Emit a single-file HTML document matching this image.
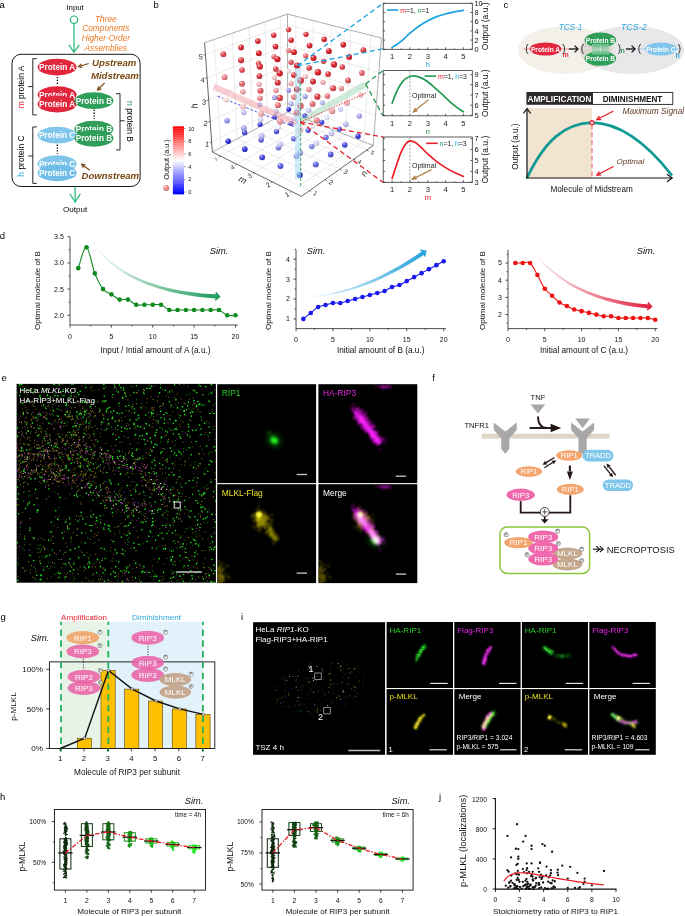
<!DOCTYPE html>
<html><head><meta charset="utf-8"><title>Figure</title>
<style>
html,body{margin:0;padding:0;background:#fff;}
svg{display:block;}
svg text{font-family:"Liberation Sans",Arial,Helvetica,sans-serif;}
</style></head><body>
<svg width="685" height="916" viewBox="0 0 685 916">
<rect width="685" height="916" fill="#fff"/>
<g id="panel_a">
<text x="-0.4" y="7.6" font-size="9.5">a</text>
<text x="75.1" y="10.4" font-size="7.8" text-anchor="middle">Input</text>
<circle cx="74" cy="19.7" r="3.7" fill="#fff" stroke="#21b573" stroke-width="1.2" />
<line x1="74" y1="23.5" x2="74" y2="52" stroke="#21b573" stroke-width="1.2" />
<polyline points="69,44.9 74,52.3 79.2,44.9" fill="none" stroke="#21b573" stroke-width="1.2" />
<text x="105.8" y="21.8" font-size="8.3" text-anchor="middle" fill="#ee7a23" font-style="italic">Three</text>
<text x="105.8" y="31.4" font-size="8.3" text-anchor="middle" fill="#ee7a23" font-style="italic">Components</text>
<text x="105.8" y="41" font-size="8.3" text-anchor="middle" fill="#ee7a23" font-style="italic">Higher-Order</text>
<text x="105.8" y="50.6" font-size="8.3" text-anchor="middle" fill="#ee7a23" font-style="italic">Assemblies</text>
<rect x="12" y="54.3" width="128.1" height="132.2" fill="#fff" stroke="#000" stroke-width="0.9" rx="9" />
<line x1="75.1" y1="186.5" x2="75.1" y2="202" stroke="#21b573" stroke-width="1.2" />
<polyline points="70,193.7 75.1,202.2 80.4,193.7" fill="none" stroke="#21b573" stroke-width="1.2" />
<text x="75.1" y="211.8" font-size="8.1" text-anchor="middle">Output</text>
<ellipse cx="57.1" cy="67.1" rx="19.5" ry="8.4" fill="#e2263c" /><text x="57.1" y="70" font-size="8.2" text-anchor="middle" fill="#fff" font-weight="bold">Protein A</text>
<line x1="57.4" y1="77" x2="57.4" y2="85" stroke="#000" stroke-width="1.3" stroke-dasharray="1.3 1.5"/>
<ellipse cx="57.1" cy="94.6" rx="19.5" ry="8.4" fill="#e2263c" /><text x="57.1" y="97.5" font-size="8.2" text-anchor="middle" fill="#fff" font-weight="bold">Protein A</text>
<ellipse cx="57.1" cy="104" rx="19.5" ry="8.4" fill="#e2263c" /><text x="57.1" y="106.9" font-size="8.2" text-anchor="middle" fill="#fff" font-weight="bold">Protein A</text>
<ellipse cx="57.1" cy="135.2" rx="19.5" ry="8.4" fill="#7fc6ea" /><text x="57.1" y="138.1" font-size="8.2" text-anchor="middle" fill="#fff" font-weight="bold">Protein C</text>
<line x1="57.4" y1="144.6" x2="57.4" y2="153.8" stroke="#000" stroke-width="1.3" stroke-dasharray="1.3 1.5"/>
<ellipse cx="57.1" cy="163.7" rx="19.5" ry="8.4" fill="#7fc6ea" /><text x="57.1" y="166.6" font-size="8.2" text-anchor="middle" fill="#fff" font-weight="bold">Protein C</text>
<ellipse cx="57.1" cy="172.9" rx="19.5" ry="8.4" fill="#6fbde6" /><text x="57.1" y="175.8" font-size="8.2" text-anchor="middle" fill="#fff" font-weight="bold">Protein C</text>
<ellipse cx="93.9" cy="129.1" rx="19.5" ry="8.4" fill="#2f9e58" /><text x="93.9" y="132" font-size="8.2" text-anchor="middle" fill="#fff" font-weight="bold">Protein B</text>
<ellipse cx="93.9" cy="138.3" rx="19.5" ry="8.4" fill="#2f9e58" /><text x="93.9" y="141.2" font-size="8.2" text-anchor="middle" fill="#fff" font-weight="bold">Protein B</text>
<ellipse cx="93.9" cy="100.7" rx="19.5" ry="8.4" fill="#2f9e58" /><text x="93.9" y="103.6" font-size="8.2" text-anchor="middle" fill="#fff" font-weight="bold">Protein B</text>
<line x1="94.2" y1="109.8" x2="94.2" y2="119" stroke="#000" stroke-width="1.3" stroke-dasharray="1.3 1.5"/>
<text x="92" y="65.8" font-size="9.6" fill="#7a4a14" font-weight="bold" font-style="italic">Upstream</text>
<text x="90.9" y="79.4" font-size="9.6" fill="#7a4a14" font-weight="bold" font-style="italic">Midstream</text>
<text x="81.5" y="178.9" font-size="9.6" fill="#7a4a14" font-weight="bold" font-style="italic">Downstream</text>
<line x1="88.7" y1="63.5" x2="78.6" y2="66.7" stroke="#7a4a14" stroke-width="1.2" /><polyline points="81.23,63.96 78.6,66.7 82.33,67.43" fill="none" stroke="#7a4a14" stroke-width="1.2" />
<line x1="104.7" y1="82.8" x2="97.6" y2="90" stroke="#7a4a14" stroke-width="1.2" /><polyline points="98.64,86.35 97.6,90 101.24,88.9" fill="none" stroke="#7a4a14" stroke-width="1.2" />
<line x1="89.8" y1="170.2" x2="81.7" y2="164.3" stroke="#7a4a14" stroke-width="1.2" /><polyline points="85.47,164.79 81.7,164.3 83.32,167.74" fill="none" stroke="#7a4a14" stroke-width="1.2" />
<path d="M36.8 58.7H32.8V114.9H36.8M32.8 86.6H28.2" fill="none" stroke="#111" stroke-width="0.9" />
<path d="M36.8 126.9H32.8V183.4H36.8M32.8 156H28.2" fill="none" stroke="#111" stroke-width="0.9" />
<path d="M116 93.7H120V149.9H116M120 120.8H124.6" fill="none" stroke="#111" stroke-width="0.9" />
<text x="23.8" y="87" font-size="8.45" text-anchor="middle" transform="rotate(-90 23.8 87)"><tspan fill="#e2263c">m</tspan> protein A</text>
<text x="23.8" y="156" font-size="8.45" text-anchor="middle" transform="rotate(-90 23.8 156)"><tspan fill="#29a9e0">h</tspan> protein C</text>
<text x="127.2" y="121.5" font-size="8.45" text-anchor="middle" transform="rotate(90 127.2 121.5)"><tspan fill="#2f9e58">n</tspan> protein B</text>
</g>
<g id="panel_b">
<defs>
<radialGradient id="shine" cx="0.36" cy="0.32" r="0.75" fx="0.34" fy="0.28">
<stop offset="0" stop-color="#fff" stop-opacity="0.9"/><stop offset="0.16" stop-color="#fff" stop-opacity="0.45"/><stop offset="0.38" stop-color="#fff" stop-opacity="0.05"/>
<stop offset="0.65" stop-color="#000" stop-opacity="0"/><stop offset="1" stop-color="#000" stop-opacity="0.3"/></radialGradient>
<linearGradient id="cbar" x1="0" y1="0" x2="0" y2="1"><stop offset="0" stop-color="#f00"/><stop offset="0.12" stop-color="#ee1c1c"/><stop offset="0.5" stop-color="#fff"/><stop offset="0.88" stop-color="#2020f0"/><stop offset="1" stop-color="#00f"/></linearGradient>
</defs>
<text x="153.4" y="7.6" font-size="9.5">b</text>
<line x1="291.43" y1="191.4" x2="363.78" y2="141.79" stroke="#d9d9d9" stroke-width="0.5" />
<line x1="309.63" y1="190.56" x2="220.87" y2="147.52" stroke="#d9d9d9" stroke-width="0.5" />
<line x1="220.87" y1="147.52" x2="214.04" y2="39.49" stroke="#d9d9d9" stroke-width="0.5" />
<line x1="211.68" y1="142" x2="287.65" y2="102.95" stroke="#d9d9d9" stroke-width="0.5" />
<line x1="363.78" y1="141.79" x2="370.94" y2="35.37" stroke="#d9d9d9" stroke-width="0.5" />
<line x1="373.99" y1="135.61" x2="287.65" y2="102.95" stroke="#d9d9d9" stroke-width="0.5" />
<line x1="272.24" y1="181.84" x2="345.51" y2="134.65" stroke="#d9d9d9" stroke-width="0.5" />
<line x1="325.29" y1="179.46" x2="237.13" y2="138.88" stroke="#d9d9d9" stroke-width="0.5" />
<line x1="237.13" y1="138.88" x2="232.06" y2="33.25" stroke="#d9d9d9" stroke-width="0.5" />
<line x1="210.21" y1="121.4" x2="287.62" y2="84.34" stroke="#d9d9d9" stroke-width="0.5" />
<line x1="345.51" y1="134.65" x2="350.77" y2="30.22" stroke="#d9d9d9" stroke-width="0.5" />
<line x1="375.53" y1="115.32" x2="287.62" y2="84.34" stroke="#d9d9d9" stroke-width="0.5" />
<line x1="254.04" y1="172.77" x2="328.06" y2="127.82" stroke="#d9d9d9" stroke-width="0.5" />
<line x1="340.01" y1="169.03" x2="252.53" y2="130.7" stroke="#d9d9d9" stroke-width="0.5" />
<line x1="252.53" y1="130.7" x2="249.05" y2="27.37" stroke="#d9d9d9" stroke-width="0.5" />
<line x1="208.68" y1="100" x2="287.58" y2="65.1" stroke="#d9d9d9" stroke-width="0.5" />
<line x1="328.06" y1="127.82" x2="331.58" y2="25.32" stroke="#d9d9d9" stroke-width="0.5" />
<line x1="377.14" y1="94.28" x2="287.58" y2="65.1" stroke="#d9d9d9" stroke-width="0.5" />
<line x1="236.75" y1="164.16" x2="311.37" y2="121.3" stroke="#d9d9d9" stroke-width="0.5" />
<line x1="353.88" y1="159.2" x2="267.13" y2="122.95" stroke="#d9d9d9" stroke-width="0.5" />
<line x1="267.13" y1="122.95" x2="265.07" y2="21.83" stroke="#d9d9d9" stroke-width="0.5" />
<line x1="207.1" y1="77.77" x2="287.54" y2="45.21" stroke="#d9d9d9" stroke-width="0.5" />
<line x1="311.37" y1="121.3" x2="313.31" y2="20.66" stroke="#d9d9d9" stroke-width="0.5" />
<line x1="378.8" y1="72.43" x2="287.54" y2="45.21" stroke="#d9d9d9" stroke-width="0.5" />
<line x1="220.31" y1="155.97" x2="295.4" y2="115.06" stroke="#d9d9d9" stroke-width="0.5" />
<line x1="366.97" y1="149.93" x2="281" y2="115.58" stroke="#d9d9d9" stroke-width="0.5" />
<line x1="281" y1="115.58" x2="280.21" y2="16.59" stroke="#d9d9d9" stroke-width="0.5" />
<line x1="205.45" y1="54.66" x2="287.5" y2="24.63" stroke="#d9d9d9" stroke-width="0.5" />
<line x1="295.4" y1="115.06" x2="295.89" y2="16.22" stroke="#d9d9d9" stroke-width="0.5" />
<line x1="380.53" y1="49.73" x2="287.5" y2="24.63" stroke="#d9d9d9" stroke-width="0.5" />
<line x1="204.6" y1="42.75" x2="287.48" y2="14.07" stroke="#777" stroke-width="0.6" />
<line x1="287.48" y1="14.07" x2="381.42" y2="38.04" stroke="#777" stroke-width="0.6" />
<line x1="287.48" y1="14.07" x2="287.67" y2="112.04" stroke="#777" stroke-width="0.6" />
<line x1="212.39" y1="152.02" x2="287.67" y2="112.04" stroke="#777" stroke-width="0.6" />
<line x1="287.67" y1="112.04" x2="373.23" y2="145.48" stroke="#777" stroke-width="0.6" />
<line x1="373.23" y1="145.48" x2="381.42" y2="38.04" stroke="#777" stroke-width="0.6" />
<line x1="212.39" y1="152.02" x2="204.6" y2="42.75" stroke="#333" stroke-width="0.75" />
<line x1="212.39" y1="152.02" x2="301.42" y2="196.38" stroke="#333" stroke-width="0.75" />
<line x1="301.42" y1="196.38" x2="373.23" y2="145.48" stroke="#333" stroke-width="0.75" />
<line x1="211.68" y1="142" x2="209.68" y2="142.5" stroke="#222" stroke-width="0.6" />
<text transform="translate(207.08 144) rotate(6)" x="0" y="2.66" font-size="7.4" text-anchor="middle" fill="#222">1</text>
<line x1="291.43" y1="191.4" x2="290.03" y2="192.6" stroke="#222" stroke-width="0.6" />
<text transform="translate(287.13 194.4) rotate(-32)" x="0" y="2.52" font-size="7" text-anchor="middle" fill="#222">1</text>
<line x1="309.63" y1="190.56" x2="311.23" y2="191.66" stroke="#222" stroke-width="0.6" />
<text transform="translate(315.33 193.26) rotate(32)" x="0" y="2.23" font-size="6.2" text-anchor="middle" fill="#222">1</text>
<line x1="210.21" y1="121.4" x2="208.21" y2="121.9" stroke="#222" stroke-width="0.6" />
<text transform="translate(205.61 123.4) rotate(6)" x="0" y="2.66" font-size="7.4" text-anchor="middle" fill="#222">2</text>
<line x1="272.24" y1="181.84" x2="270.84" y2="183.04" stroke="#222" stroke-width="0.6" />
<text transform="translate(267.94 184.84) rotate(-32)" x="0" y="2.52" font-size="7" text-anchor="middle" fill="#222">2</text>
<line x1="325.29" y1="179.46" x2="326.89" y2="180.56" stroke="#222" stroke-width="0.6" />
<text transform="translate(330.99 182.16) rotate(32)" x="0" y="2.38" font-size="6.6" text-anchor="middle" fill="#222">2</text>
<line x1="208.68" y1="100" x2="206.68" y2="100.5" stroke="#222" stroke-width="0.6" />
<text transform="translate(204.08 102) rotate(6)" x="0" y="2.66" font-size="7.4" text-anchor="middle" fill="#222">3</text>
<line x1="254.04" y1="172.77" x2="252.64" y2="173.97" stroke="#222" stroke-width="0.6" />
<text transform="translate(249.74 175.77) rotate(-32)" x="0" y="2.38" font-size="6.6" text-anchor="middle" fill="#222">3</text>
<line x1="340.01" y1="169.03" x2="341.61" y2="170.13" stroke="#222" stroke-width="0.6" />
<text transform="translate(345.71 171.73) rotate(32)" x="0" y="2.38" font-size="6.6" text-anchor="middle" fill="#222">3</text>
<line x1="207.1" y1="77.77" x2="205.1" y2="78.27" stroke="#222" stroke-width="0.6" />
<text transform="translate(202.5 79.77) rotate(6)" x="0" y="2.66" font-size="7.4" text-anchor="middle" fill="#222">4</text>
<line x1="236.75" y1="164.16" x2="235.35" y2="165.36" stroke="#222" stroke-width="0.6" />
<text transform="translate(232.45 167.16) rotate(-32)" x="0" y="2.16" font-size="6" text-anchor="middle" fill="#222">4</text>
<line x1="353.88" y1="159.2" x2="355.48" y2="160.3" stroke="#222" stroke-width="0.6" />
<text transform="translate(359.58 161.9) rotate(32)" x="0" y="2.16" font-size="6" text-anchor="middle" fill="#222">4</text>
<line x1="205.45" y1="54.66" x2="203.45" y2="55.16" stroke="#222" stroke-width="0.6" />
<text transform="translate(200.85 56.66) rotate(6)" x="0" y="2.66" font-size="7.4" text-anchor="middle" fill="#222">5</text>
<line x1="220.31" y1="155.97" x2="218.91" y2="157.17" stroke="#222" stroke-width="0.6" />
<text transform="translate(216.01 158.97) rotate(-32)" x="0" y="1.44" font-size="4" text-anchor="middle" fill="#222">5</text>
<line x1="366.97" y1="149.93" x2="368.57" y2="151.03" stroke="#222" stroke-width="0.6" />
<text transform="translate(372.67 152.63) rotate(32)" x="0" y="1.94" font-size="5.4" text-anchor="middle" fill="#222">5</text>
<text transform="translate(194.5 106) rotate(-98)" x="0" y="3" font-size="9" text-anchor="middle" fill="#222" font-style="italic">h</text>
<text transform="translate(242.4 180.3) rotate(28)" x="0" y="2.4" font-size="9" text-anchor="middle" fill="#222" font-style="italic">m</text>
<text transform="translate(364.5 173.9) rotate(-58)" x="0" y="2.4" font-size="9" text-anchor="middle" fill="#222" font-style="italic">n</text>
<line x1="217.9" y1="96.3" x2="294" y2="126.8" stroke="#2a3cf0" stroke-width="0.9" stroke-dasharray="2.4 2"/>
<circle cx="288.75" cy="109.44" r="2.45" fill="#2a2ada" /><circle cx="288.75" cy="109.44" r="2.45" fill="url(#shine)" />
<circle cx="288.73" cy="90.48" r="2.49" fill="#9696ed" /><circle cx="288.73" cy="90.48" r="2.49" fill="url(#shine)" />
<circle cx="304.91" cy="115.69" r="2.51" fill="#3a3add" /><circle cx="304.91" cy="115.69" r="2.51" fill="url(#shine)" />
<circle cx="274.81" cy="116.78" r="2.52" fill="#3737dd" /><circle cx="274.81" cy="116.78" r="2.52" fill="url(#shine)" />
<circle cx="288.71" cy="70.87" r="2.54" fill="#f9e0e1" /><circle cx="288.71" cy="70.87" r="2.54" fill="url(#shine)" />
<circle cx="305.17" cy="96.4" r="2.55" fill="#a9a9f0" /><circle cx="305.17" cy="96.4" r="2.55" fill="url(#shine)" />
<circle cx="274.55" cy="97.44" r="2.56" fill="#a6a6ef" /><circle cx="274.55" cy="97.44" r="2.56" fill="url(#shine)" />
<circle cx="321.82" cy="122.22" r="2.56" fill="#4b4be0" /><circle cx="321.82" cy="122.22" r="2.56" fill="url(#shine)" />
<circle cx="291.09" cy="123.37" r="2.58" fill="#4949e0" /><circle cx="291.09" cy="123.37" r="2.58" fill="url(#shine)" />
<circle cx="288.69" cy="50.58" r="2.58" fill="#e87f84" /><circle cx="288.69" cy="50.58" r="2.58" fill="url(#shine)" />
<circle cx="260.12" cy="124.53" r="2.59" fill="#4444df" /><circle cx="260.12" cy="124.53" r="2.59" fill="url(#shine)" />
<circle cx="305.43" cy="76.44" r="2.6" fill="#f4c5c7" /><circle cx="305.43" cy="76.44" r="2.6" fill="url(#shine)" />
<circle cx="274.28" cy="77.42" r="2.61" fill="#f5c9cc" /><circle cx="274.28" cy="77.42" r="2.61" fill="url(#shine)" />
<circle cx="322.38" cy="102.61" r="2.61" fill="#bdbdf3" /><circle cx="322.38" cy="102.61" r="2.61" fill="url(#shine)" />
<circle cx="291.11" cy="103.69" r="2.62" fill="#babaf3" /><circle cx="291.11" cy="103.69" r="2.62" fill="url(#shine)" />
<circle cx="339.51" cy="129.07" r="2.63" fill="#5f5fe3" /><circle cx="339.51" cy="129.07" r="2.63" fill="url(#shine)" />
<circle cx="288.66" cy="29.58" r="2.63" fill="#de464e" /><circle cx="288.66" cy="29.58" r="2.63" fill="url(#shine)" />
<circle cx="259.59" cy="104.79" r="2.63" fill="#b5b5f2" /><circle cx="259.59" cy="104.79" r="2.63" fill="url(#shine)" />
<circle cx="308.14" cy="130.27" r="2.64" fill="#5c5ce3" /><circle cx="308.14" cy="130.27" r="2.64" fill="url(#shine)" />
<circle cx="305.71" cy="55.78" r="2.64" fill="#e4676e" /><circle cx="305.71" cy="55.78" r="2.64" fill="url(#shine)" />
<circle cx="276.51" cy="131.48" r="2.65" fill="#5858e2" /><circle cx="276.51" cy="131.48" r="2.65" fill="url(#shine)" />
<circle cx="274" cy="56.69" r="2.65" fill="#e56b71" /><circle cx="274" cy="56.69" r="2.65" fill="url(#shine)" />
<circle cx="322.96" cy="82.29" r="2.66" fill="#f0abaf" /><circle cx="322.96" cy="82.29" r="2.66" fill="url(#shine)" />
<circle cx="244.61" cy="132.71" r="2.66" fill="#5050e1" /><circle cx="244.61" cy="132.71" r="2.66" fill="url(#shine)" />
<circle cx="291.13" cy="83.31" r="2.67" fill="#f1aeb2" /><circle cx="291.13" cy="83.31" r="2.67" fill="url(#shine)" />
<circle cx="340.41" cy="109.1" r="2.67" fill="#d2d2f7" /><circle cx="340.41" cy="109.1" r="2.67" fill="url(#shine)" />
<circle cx="259.05" cy="84.34" r="2.68" fill="#f2b5b9" /><circle cx="259.05" cy="84.34" r="2.68" fill="url(#shine)" />
<circle cx="308.47" cy="110.25" r="2.68" fill="#cfcff6" /><circle cx="308.47" cy="110.25" r="2.68" fill="url(#shine)" />
<circle cx="358.06" cy="136.24" r="2.69" fill="#3a3add" /><circle cx="358.06" cy="136.24" r="2.69" fill="url(#shine)" />
<circle cx="306" cy="34.36" r="2.69" fill="#dc3740" /><circle cx="306" cy="34.36" r="2.69" fill="url(#shine)" />
<circle cx="276.26" cy="111.4" r="2.69" fill="#cacaf6" /><circle cx="276.26" cy="111.4" r="2.69" fill="url(#shine)" />
<circle cx="326.01" cy="137.5" r="2.7" fill="#7373e7" /><circle cx="326.01" cy="137.5" r="2.7" fill="url(#shine)" />
<circle cx="273.71" cy="35.2" r="2.7" fill="#dc3942" /><circle cx="273.71" cy="35.2" r="2.7" fill="url(#shine)" />
<circle cx="323.56" cy="61.23" r="2.71" fill="#e1535b" /><circle cx="323.56" cy="61.23" r="2.71" fill="url(#shine)" />
<circle cx="243.79" cy="112.56" r="2.71" fill="#c3c3f4" /><circle cx="243.79" cy="112.56" r="2.71" fill="url(#shine)" />
<circle cx="293.68" cy="138.77" r="2.71" fill="#6e6ee6" /><circle cx="293.68" cy="138.77" r="2.71" fill="url(#shine)" />
<circle cx="291.16" cy="62.18" r="2.72" fill="#e1555d" /><circle cx="291.16" cy="62.18" r="2.72" fill="url(#shine)" />
<circle cx="341.33" cy="88.41" r="2.72" fill="#ec9397" /><circle cx="341.33" cy="88.41" r="2.72" fill="url(#shine)" />
<circle cx="261.09" cy="140.06" r="2.72" fill="#6767e5" /><circle cx="261.09" cy="140.06" r="2.72" fill="url(#shine)" />
<circle cx="258.48" cy="63.14" r="2.73" fill="#e25b62" /><circle cx="258.48" cy="63.14" r="2.73" fill="url(#shine)" />
<circle cx="308.81" cy="89.48" r="2.73" fill="#ec959a" /><circle cx="308.81" cy="89.48" r="2.73" fill="url(#shine)" />
<circle cx="228.22" cy="141.35" r="2.73" fill="#2727da" /><circle cx="228.22" cy="141.35" r="2.73" fill="url(#shine)" />
<circle cx="359.32" cy="115.92" r="2.74" fill="#a9a9f0" /><circle cx="359.32" cy="115.92" r="2.74" fill="url(#shine)" />
<circle cx="276.01" cy="90.57" r="2.74" fill="#ed9b9f" /><circle cx="276.01" cy="90.57" r="2.74" fill="url(#shine)" />
<circle cx="326.67" cy="117.12" r="2.75" fill="#e6e6fa" /><circle cx="326.67" cy="117.12" r="2.75" fill="url(#shine)" />
<circle cx="324.18" cy="39.38" r="2.76" fill="#da2c35" /><circle cx="324.18" cy="39.38" r="2.76" fill="url(#shine)" />
<circle cx="242.93" cy="91.66" r="2.76" fill="#efa4a8" /><circle cx="242.93" cy="91.66" r="2.76" fill="url(#shine)" />
<circle cx="293.75" cy="118.33" r="2.76" fill="#e0e0f9" /><circle cx="293.75" cy="118.33" r="2.76" fill="url(#shine)" />
<circle cx="344.76" cy="145.09" r="2.77" fill="#4949e0" /><circle cx="344.76" cy="145.09" r="2.77" fill="url(#shine)" />
<circle cx="291.18" cy="40.26" r="2.77" fill="#da2d36" /><circle cx="291.18" cy="40.26" r="2.77" fill="url(#shine)" />
<circle cx="342.29" cy="66.94" r="2.77" fill="#de434b" /><circle cx="342.29" cy="66.94" r="2.77" fill="url(#shine)" />
<circle cx="260.55" cy="119.55" r="2.77" fill="#dadaf8" /><circle cx="260.55" cy="119.55" r="2.77" fill="url(#shine)" />
<circle cx="311.71" cy="146.42" r="2.78" fill="#8787ea" /><circle cx="311.71" cy="146.42" r="2.78" fill="url(#shine)" />
<circle cx="257.89" cy="41.15" r="2.78" fill="#db3039" /><circle cx="257.89" cy="41.15" r="2.78" fill="url(#shine)" />
<circle cx="309.16" cy="67.95" r="2.78" fill="#de444c" /><circle cx="309.16" cy="67.95" r="2.78" fill="url(#shine)" />
<circle cx="227.06" cy="120.78" r="2.78" fill="#9393ec" /><circle cx="227.06" cy="120.78" r="2.78" fill="url(#shine)" />
<circle cx="360.62" cy="94.84" r="2.79" fill="#f4c5c7" /><circle cx="360.62" cy="94.84" r="2.79" fill="url(#shine)" />
<circle cx="278.38" cy="147.77" r="2.79" fill="#7f7fe9" /><circle cx="278.38" cy="147.77" r="2.79" fill="url(#shine)" />
<circle cx="275.75" cy="68.96" r="2.8" fill="#df4850" /><circle cx="275.75" cy="68.96" r="2.8" fill="url(#shine)" />
<circle cx="327.37" cy="95.97" r="2.8" fill="#e87d83" /><circle cx="327.37" cy="95.97" r="2.8" fill="url(#shine)" />
<circle cx="244.77" cy="149.13" r="2.8" fill="#3737dc" /><circle cx="244.77" cy="149.13" r="2.8" fill="url(#shine)" />
<circle cx="242.05" cy="69.98" r="2.81" fill="#e04e56" /><circle cx="242.05" cy="69.98" r="2.81" fill="url(#shine)" />
<circle cx="293.83" cy="97.11" r="2.81" fill="#e98388" /><circle cx="293.83" cy="97.11" r="2.81" fill="url(#shine)" />
<circle cx="345.8" cy="124.34" r="2.82" fill="#babaf3" /><circle cx="345.8" cy="124.34" r="2.82" fill="url(#shine)" />
<circle cx="343.29" cy="44.66" r="2.82" fill="#d9242e" /><circle cx="343.29" cy="44.66" r="2.82" fill="url(#shine)" />
<circle cx="259.99" cy="98.26" r="2.83" fill="#ea8a8f" /><circle cx="259.99" cy="98.26" r="2.83" fill="url(#shine)" />
<circle cx="312.13" cy="125.61" r="2.83" fill="#f8f8fd" /><circle cx="312.13" cy="125.61" r="2.83" fill="url(#shine)" />
<circle cx="309.53" cy="45.58" r="2.84" fill="#d9252e" /><circle cx="309.53" cy="45.58" r="2.84" fill="url(#shine)" />
<circle cx="225.86" cy="99.42" r="2.84" fill="#fae5e6" /><circle cx="225.86" cy="99.42" r="2.84" fill="url(#shine)" />
<circle cx="361.97" cy="72.95" r="2.84" fill="#e4676e" /><circle cx="361.97" cy="72.95" r="2.84" fill="url(#shine)" />
<circle cx="278.16" cy="126.89" r="2.84" fill="#f1f1fc" /><circle cx="278.16" cy="126.89" r="2.84" fill="url(#shine)" />
<circle cx="330.66" cy="154.47" r="2.85" fill="#5858e2" /><circle cx="330.66" cy="154.47" r="2.85" fill="url(#shine)" />
<circle cx="275.48" cy="46.52" r="2.85" fill="#d92630" /><circle cx="275.48" cy="46.52" r="2.85" fill="url(#shine)" />
<circle cx="328.09" cy="74.01" r="2.85" fill="#dc363f" /><circle cx="328.09" cy="74.01" r="2.85" fill="url(#shine)" />
<circle cx="243.9" cy="128.18" r="2.86" fill="#a6a6ef" /><circle cx="243.9" cy="128.18" r="2.86" fill="url(#shine)" />
<circle cx="296.56" cy="155.88" r="2.86" fill="#9c9cee" /><circle cx="296.56" cy="155.88" r="2.86" fill="url(#shine)" />
<circle cx="241.12" cy="47.46" r="2.86" fill="#d92933" /><circle cx="241.12" cy="47.46" r="2.86" fill="url(#shine)" />
<circle cx="293.9" cy="75.07" r="2.87" fill="#dc3942" /><circle cx="293.9" cy="75.07" r="2.87" fill="url(#shine)" />
<circle cx="346.88" cy="102.78" r="2.87" fill="#f1aeb2" /><circle cx="346.88" cy="102.78" r="2.87" fill="url(#shine)" />
<circle cx="262.17" cy="157.31" r="2.87" fill="#4747df" /><circle cx="262.17" cy="157.31" r="2.87" fill="url(#shine)" />
<circle cx="259.41" cy="76.14" r="2.88" fill="#dd3d46" /><circle cx="259.41" cy="76.14" r="2.88" fill="url(#shine)" />
<circle cx="312.56" cy="103.98" r="2.89" fill="#e56c72" /><circle cx="312.56" cy="103.98" r="2.89" fill="url(#shine)" />
<circle cx="224.61" cy="77.23" r="2.89" fill="#e98388" /><circle cx="224.61" cy="77.23" r="2.89" fill="url(#shine)" />
<circle cx="363.38" cy="50.21" r="2.9" fill="#dc3740" /><circle cx="363.38" cy="50.21" r="2.9" fill="url(#shine)" />
<circle cx="277.94" cy="105.19" r="2.9" fill="#e67379" /><circle cx="277.94" cy="105.19" r="2.9" fill="url(#shine)" />
<circle cx="331.46" cy="133.27" r="2.9" fill="#cacaf6" /><circle cx="331.46" cy="133.27" r="2.9" fill="url(#shine)" />
<circle cx="328.84" cy="51.18" r="2.91" fill="#d81f29" /><circle cx="328.84" cy="51.18" r="2.91" fill="url(#shine)" />
<circle cx="243" cy="106.42" r="2.91" fill="#f5cacc" /><circle cx="243" cy="106.42" r="2.91" fill="url(#shine)" />
<circle cx="296.7" cy="134.62" r="2.92" fill="#fdf4f4" /><circle cx="296.7" cy="134.62" r="2.92" fill="url(#shine)" />
<circle cx="293.98" cy="52.16" r="2.92" fill="#d8202a" /><circle cx="293.98" cy="52.16" r="2.92" fill="url(#shine)" />
<circle cx="348" cy="80.38" r="2.93" fill="#e1555d" /><circle cx="348" cy="80.38" r="2.93" fill="url(#shine)" />
<circle cx="261.62" cy="135.98" r="2.93" fill="#b9b9f3" /><circle cx="261.62" cy="135.98" r="2.93" fill="url(#shine)" />
<circle cx="315.7" cy="164.42" r="2.94" fill="#6767e5" /><circle cx="315.7" cy="164.42" r="2.94" fill="url(#shine)" />
<circle cx="258.81" cy="53.15" r="2.94" fill="#d8222c" /><circle cx="258.81" cy="53.15" r="2.94" fill="url(#shine)" />
<circle cx="313.01" cy="81.5" r="2.94" fill="#da2e37" /><circle cx="313.01" cy="81.5" r="2.94" fill="url(#shine)" />
<circle cx="280.48" cy="165.93" r="2.95" fill="#5b5be3" /><circle cx="280.48" cy="165.93" r="2.95" fill="url(#shine)" />
<circle cx="223.32" cy="54.15" r="2.95" fill="#df4951" /><circle cx="223.32" cy="54.15" r="2.95" fill="url(#shine)" />
<circle cx="277.7" cy="82.63" r="2.96" fill="#db313a" /><circle cx="277.7" cy="82.63" r="2.96" fill="url(#shine)" />
<circle cx="332.29" cy="111.22" r="2.96" fill="#ed9b9f" /><circle cx="332.29" cy="111.22" r="2.96" fill="url(#shine)" />
<circle cx="242.06" cy="83.78" r="2.97" fill="#e56b71" /><circle cx="242.06" cy="83.78" r="2.97" fill="url(#shine)" />
<circle cx="296.83" cy="112.5" r="2.98" fill="#e35e65" /><circle cx="296.83" cy="112.5" r="2.98" fill="url(#shine)" />
<circle cx="349.17" cy="57.08" r="2.99" fill="#da2d36" /><circle cx="349.17" cy="57.08" r="2.99" fill="url(#shine)" />
<circle cx="261.05" cy="113.79" r="2.99" fill="#f1b0b4" /><circle cx="261.05" cy="113.79" r="2.99" fill="url(#shine)" />
<circle cx="316.22" cy="142.76" r="3" fill="#dadaf8" /><circle cx="316.22" cy="142.76" r="3" fill="url(#shine)" />
<circle cx="313.48" cy="58.11" r="3" fill="#d71d26" /><circle cx="313.48" cy="58.11" r="3" fill="url(#shine)" />
<circle cx="280.29" cy="144.19" r="3.01" fill="#cdcdf6" /><circle cx="280.29" cy="144.19" r="3.01" fill="url(#shine)" />
<circle cx="277.45" cy="59.16" r="3.02" fill="#d71e27" /><circle cx="277.45" cy="59.16" r="3.02" fill="url(#shine)" />
<circle cx="333.15" cy="88.28" r="3.02" fill="#df4850" /><circle cx="333.15" cy="88.28" r="3.02" fill="url(#shine)" />
<circle cx="299.78" cy="175" r="3.03" fill="#3737dc" /><circle cx="299.78" cy="175" r="3.03" fill="url(#shine)" />
<circle cx="241.08" cy="60.21" r="3.03" fill="#dc3942" /><circle cx="241.08" cy="60.21" r="3.03" fill="url(#shine)" />
<circle cx="296.97" cy="89.48" r="3.04" fill="#d92831" /><circle cx="296.97" cy="89.48" r="3.04" fill="url(#shine)" />
<circle cx="260.46" cy="90.68" r="3.05" fill="#e1575e" /><circle cx="260.46" cy="90.68" r="3.05" fill="url(#shine)" />
<circle cx="316.76" cy="120.2" r="3.06" fill="#ea8a8f" /><circle cx="316.76" cy="120.2" r="3.06" fill="url(#shine)" />
<circle cx="280.09" cy="121.56" r="3.07" fill="#ed979c" /><circle cx="280.09" cy="121.56" r="3.07" fill="url(#shine)" />
<circle cx="334.05" cy="64.39" r="3.08" fill="#d92630" /><circle cx="334.05" cy="64.39" r="3.08" fill="url(#shine)" />
<circle cx="299.99" cy="152.86" r="3.09" fill="#a6a6ef" /><circle cx="299.99" cy="152.86" r="3.09" fill="url(#shine)" />
<circle cx="297.12" cy="65.49" r="3.1" fill="#d71b25" /><circle cx="297.12" cy="65.49" r="3.1" fill="url(#shine)" />
<circle cx="259.84" cy="66.61" r="3.11" fill="#da2e37" /><circle cx="259.84" cy="66.61" r="3.11" fill="url(#shine)" />
<circle cx="317.32" cy="96.7" r="3.12" fill="#dd3d46" /><circle cx="317.32" cy="96.7" r="3.12" fill="url(#shine)" />
<circle cx="279.88" cy="97.97" r="3.14" fill="#de464e" /><circle cx="279.88" cy="97.97" r="3.14" fill="url(#shine)" />
<circle cx="300.2" cy="129.78" r="3.16" fill="#f5cacc" /><circle cx="300.2" cy="129.78" r="3.16" fill="url(#shine)" />
<circle cx="317.91" cy="72.19" r="3.19" fill="#d8222c" /><circle cx="317.91" cy="72.19" r="3.19" fill="url(#shine)" />
<circle cx="279.67" cy="73.37" r="3.2" fill="#d9252f" /><circle cx="279.67" cy="73.37" r="3.2" fill="url(#shine)" />
<circle cx="300.43" cy="105.69" r="3.23" fill="#e56b71" /><circle cx="300.43" cy="105.69" r="3.23" fill="url(#shine)" />
<circle cx="300.66" cy="80.53" r="3.3" fill="#dc3942" /><circle cx="300.66" cy="80.53" r="3.3" fill="url(#shine)" />
<line x1="213.7" y1="86.7" x2="297.2" y2="123.6" stroke="#f0a0a8" stroke-width="6.2" opacity="0.5"/>
<line x1="300.4" y1="122" x2="365.6" y2="84.1" stroke="#9fd8b4" stroke-width="6.2" opacity="0.5"/>
<rect x="295" y="68" width="6" height="110.7" fill="#9fd8f2" opacity="0.5"/>
<line x1="300.4" y1="122" x2="366" y2="93" stroke="#e8202a" stroke-width="0.9" stroke-dasharray="1.4 1.4"/>
<line x1="300.7" y1="83" x2="300.7" y2="186" stroke="#2f9e58" stroke-width="0.9" stroke-dasharray="3 2"/>
<line x1="297.4" y1="65.8" x2="383" y2="3.4" stroke="#1ba1e2" stroke-width="1.3" stroke-dasharray="5 3.2"/>
<line x1="297.4" y1="65.8" x2="383" y2="48.8" stroke="#1ba1e2" stroke-width="1.3" stroke-dasharray="5 3.2"/>
<line x1="365.6" y1="84.1" x2="383" y2="70.6" stroke="#1f9a52" stroke-width="1.3" stroke-dasharray="5 3.2"/>
<line x1="365.6" y1="84.1" x2="383" y2="115.8" stroke="#1f9a52" stroke-width="1.3" stroke-dasharray="5 3.2"/>
<line x1="300.4" y1="122" x2="383" y2="137" stroke="#e8202a" stroke-width="1.3" stroke-dasharray="5 3.2"/>
<line x1="300.4" y1="122" x2="383" y2="182.3" stroke="#e8202a" stroke-width="1.3" stroke-dasharray="5 3.2"/>
<rect x="172.9" y="126.3" width="11.1" height="2.42" fill="#ff0707" />
<rect x="172.9" y="128.42" width="11.1" height="2.42" fill="#ff1717" />
<rect x="172.9" y="130.54" width="11.1" height="2.42" fill="#ff2727" />
<rect x="172.9" y="132.66" width="11.1" height="2.42" fill="#ff3737" />
<rect x="172.9" y="134.78" width="11.1" height="2.42" fill="#ff4747" />
<rect x="172.9" y="136.89" width="11.1" height="2.42" fill="#ff5757" />
<rect x="172.9" y="139.01" width="11.1" height="2.42" fill="#ff6767" />
<rect x="172.9" y="141.13" width="11.1" height="2.42" fill="#ff7777" />
<rect x="172.9" y="143.25" width="11.1" height="2.42" fill="#ff8787" />
<rect x="172.9" y="145.37" width="11.1" height="2.42" fill="#ff9797" />
<rect x="172.9" y="147.49" width="11.1" height="2.42" fill="#ffa7a7" />
<rect x="172.9" y="149.61" width="11.1" height="2.42" fill="#ffb7b7" />
<rect x="172.9" y="151.72" width="11.1" height="2.42" fill="#ffc7c7" />
<rect x="172.9" y="153.84" width="11.1" height="2.42" fill="#ffd7d7" />
<rect x="172.9" y="155.96" width="11.1" height="2.42" fill="#ffe7e7" />
<rect x="172.9" y="158.08" width="11.1" height="2.42" fill="#fff7f7" />
<rect x="172.9" y="160.2" width="11.1" height="2.42" fill="#f7f7ff" />
<rect x="172.9" y="162.32" width="11.1" height="2.42" fill="#e7e7ff" />
<rect x="172.9" y="164.44" width="11.1" height="2.42" fill="#d7d7ff" />
<rect x="172.9" y="166.56" width="11.1" height="2.42" fill="#c7c7ff" />
<rect x="172.9" y="168.68" width="11.1" height="2.42" fill="#b7b7ff" />
<rect x="172.9" y="170.79" width="11.1" height="2.42" fill="#a7a7ff" />
<rect x="172.9" y="172.91" width="11.1" height="2.42" fill="#9797ff" />
<rect x="172.9" y="175.03" width="11.1" height="2.42" fill="#8787ff" />
<rect x="172.9" y="177.15" width="11.1" height="2.42" fill="#7777ff" />
<rect x="172.9" y="179.27" width="11.1" height="2.42" fill="#6767ff" />
<rect x="172.9" y="181.39" width="11.1" height="2.42" fill="#5757ff" />
<rect x="172.9" y="183.51" width="11.1" height="2.42" fill="#4747ff" />
<rect x="172.9" y="185.62" width="11.1" height="2.42" fill="#3737ff" />
<rect x="172.9" y="187.74" width="11.1" height="2.42" fill="#2727ff" />
<rect x="172.9" y="189.86" width="11.1" height="2.42" fill="#1717ff" />
<rect x="172.9" y="191.98" width="11.1" height="2.42" fill="#0707ff" />
<line x1="184" y1="128.6" x2="185.6" y2="128.6" stroke="#333" stroke-width="0.5" />
<line x1="184" y1="141.3" x2="185.6" y2="141.3" stroke="#333" stroke-width="0.5" />
<line x1="184" y1="154" x2="185.6" y2="154" stroke="#333" stroke-width="0.5" />
<line x1="184" y1="166.7" x2="185.6" y2="166.7" stroke="#333" stroke-width="0.5" />
<line x1="184" y1="179.4" x2="185.6" y2="179.4" stroke="#333" stroke-width="0.5" />
<line x1="184" y1="192.1" x2="185.6" y2="192.1" stroke="#333" stroke-width="0.5" />
<text x="188.2" y="130.6" font-size="5.6" fill="#111">10</text>
<text x="188.2" y="143.3" font-size="5.6" fill="#111">8</text>
<text x="188.2" y="156" font-size="5.6" fill="#111">6</text>
<text x="188.2" y="168.7" font-size="5.6" fill="#111">4</text>
<text x="188.2" y="181.4" font-size="5.6" fill="#111">2</text>
<text x="188.2" y="194.1" font-size="5.6" fill="#111">0</text>
<text x="168.6" y="159.5" font-size="7.2" text-anchor="middle" fill="#111" transform="rotate(-90 168.6 159.5)">Output (a.u.)</text>
<circle cx="166.2" cy="188" r="3" fill="#f08a8a" /><circle cx="166.2" cy="188" r="3" fill="url(#shine)" />
<rect x="383.2" y="3.3" width="89.1" height="46" fill="#fff" stroke="#333" stroke-width="0.8" />
<line x1="392.11" y1="49.3" x2="392.11" y2="47.3" stroke="#222" stroke-width="0.7" />
<text x="392.11" y="59.1" font-size="7.6" text-anchor="middle" fill="#222">1</text>
<line x1="409.93" y1="49.3" x2="409.93" y2="47.3" stroke="#222" stroke-width="0.7" />
<text x="409.93" y="59.1" font-size="7.6" text-anchor="middle" fill="#222">2</text>
<line x1="427.75" y1="49.3" x2="427.75" y2="47.3" stroke="#222" stroke-width="0.7" />
<text x="427.75" y="59.1" font-size="7.6" text-anchor="middle" fill="#222">3</text>
<line x1="445.57" y1="49.3" x2="445.57" y2="47.3" stroke="#222" stroke-width="0.7" />
<text x="445.57" y="59.1" font-size="7.6" text-anchor="middle" fill="#222">4</text>
<line x1="463.39" y1="49.3" x2="463.39" y2="47.3" stroke="#222" stroke-width="0.7" />
<text x="463.39" y="59.1" font-size="7.6" text-anchor="middle" fill="#222">5</text>
<line x1="401.02" y1="49.3" x2="401.02" y2="48.1" stroke="#222" stroke-width="0.5" />
<line x1="418.84" y1="49.3" x2="418.84" y2="48.1" stroke="#222" stroke-width="0.5" />
<line x1="436.66" y1="49.3" x2="436.66" y2="48.1" stroke="#222" stroke-width="0.5" />
<line x1="454.48" y1="49.3" x2="454.48" y2="48.1" stroke="#222" stroke-width="0.5" />
<line x1="383.2" y1="49.3" x2="385.2" y2="49.3" stroke="#222" stroke-width="0.7" />
<line x1="472.3" y1="49.3" x2="470.3" y2="49.3" stroke="#222" stroke-width="0.7" />
<text x="474.5" y="52" font-size="7.4" fill="#111">0</text>
<line x1="383.2" y1="40.1" x2="385.2" y2="40.1" stroke="#222" stroke-width="0.7" />
<line x1="472.3" y1="40.1" x2="470.3" y2="40.1" stroke="#222" stroke-width="0.7" />
<text x="474.5" y="42.8" font-size="7.4" fill="#111">2</text>
<line x1="383.2" y1="30.9" x2="385.2" y2="30.9" stroke="#222" stroke-width="0.7" />
<line x1="472.3" y1="30.9" x2="470.3" y2="30.9" stroke="#222" stroke-width="0.7" />
<text x="474.5" y="33.6" font-size="7.4" fill="#111">4</text>
<line x1="383.2" y1="21.7" x2="385.2" y2="21.7" stroke="#222" stroke-width="0.7" />
<line x1="472.3" y1="21.7" x2="470.3" y2="21.7" stroke="#222" stroke-width="0.7" />
<text x="474.5" y="24.4" font-size="7.4" fill="#111">6</text>
<line x1="383.2" y1="12.5" x2="385.2" y2="12.5" stroke="#222" stroke-width="0.7" />
<line x1="472.3" y1="12.5" x2="470.3" y2="12.5" stroke="#222" stroke-width="0.7" />
<text x="474.5" y="15.2" font-size="7.4" fill="#111">8</text>
<line x1="383.2" y1="3.3" x2="385.2" y2="3.3" stroke="#222" stroke-width="0.7" />
<line x1="472.3" y1="3.3" x2="470.3" y2="3.3" stroke="#222" stroke-width="0.7" />
<text x="474.5" y="6" font-size="7.4" fill="#111">10</text>
<path d="M392.11 47.23C392.85 46.82 395.08 45.77 396.56 44.79C398.05 43.82 399.53 42.63 401.02 41.39C402.5 40.15 403.99 38.7 405.48 37.34C406.96 35.98 407.7 35.04 409.93 33.2C412.16 31.36 415.87 28.37 418.84 26.3C421.81 24.23 424.78 22.39 427.75 20.78C430.72 19.17 433.69 17.79 436.66 16.64C439.63 15.49 442.6 14.69 445.57 13.88C448.54 13.08 451.51 12.38 454.48 11.81C457.45 11.23 461.9 10.66 463.39 10.43" fill="none" stroke="#1ba1e2" stroke-width="1.7" stroke-linecap="round"/>
<text x="427.75" y="67.3" font-size="8" text-anchor="middle" fill="#29a9e0">h</text>
<line x1="386.9" y1="10" x2="398.4" y2="10" stroke="#1ba1e2" stroke-width="1.6" />
<text x="400.3" y="12.5" font-size="6.85" fill="#222"><tspan fill="#e8202a">m</tspan>=1, <tspan fill="#1f9a52">n</tspan>=1</text>
<text x="488.5" y="26.3" font-size="8.5" text-anchor="middle" fill="#111" transform="rotate(-90 488.5 26.3)">Output (a.u.)</text>
<rect x="383.2" y="70.6" width="89.1" height="45.2" fill="#fff" stroke="#333" stroke-width="0.8" />
<line x1="392.11" y1="115.8" x2="392.11" y2="113.8" stroke="#222" stroke-width="0.7" />
<text x="392.11" y="125.6" font-size="7.6" text-anchor="middle" fill="#222">1</text>
<line x1="409.93" y1="115.8" x2="409.93" y2="113.8" stroke="#222" stroke-width="0.7" />
<text x="409.93" y="125.6" font-size="7.6" text-anchor="middle" fill="#222">2</text>
<line x1="427.75" y1="115.8" x2="427.75" y2="113.8" stroke="#222" stroke-width="0.7" />
<text x="427.75" y="125.6" font-size="7.6" text-anchor="middle" fill="#222">3</text>
<line x1="445.57" y1="115.8" x2="445.57" y2="113.8" stroke="#222" stroke-width="0.7" />
<text x="445.57" y="125.6" font-size="7.6" text-anchor="middle" fill="#222">4</text>
<line x1="463.39" y1="115.8" x2="463.39" y2="113.8" stroke="#222" stroke-width="0.7" />
<text x="463.39" y="125.6" font-size="7.6" text-anchor="middle" fill="#222">5</text>
<line x1="401.02" y1="115.8" x2="401.02" y2="114.6" stroke="#222" stroke-width="0.5" />
<line x1="418.84" y1="115.8" x2="418.84" y2="114.6" stroke="#222" stroke-width="0.5" />
<line x1="436.66" y1="115.8" x2="436.66" y2="114.6" stroke="#222" stroke-width="0.5" />
<line x1="454.48" y1="115.8" x2="454.48" y2="114.6" stroke="#222" stroke-width="0.5" />
<line x1="383.2" y1="115.39" x2="385.2" y2="115.39" stroke="#222" stroke-width="0.7" />
<line x1="472.3" y1="115.39" x2="470.3" y2="115.39" stroke="#222" stroke-width="0.7" />
<text x="474.5" y="118.09" font-size="7.4" fill="#111">5</text>
<line x1="383.2" y1="105.19" x2="385.2" y2="105.19" stroke="#222" stroke-width="0.7" />
<line x1="472.3" y1="105.19" x2="470.3" y2="105.19" stroke="#222" stroke-width="0.7" />
<text x="474.5" y="107.89" font-size="7.4" fill="#111">6</text>
<line x1="383.2" y1="94.99" x2="385.2" y2="94.99" stroke="#222" stroke-width="0.7" />
<line x1="472.3" y1="94.99" x2="470.3" y2="94.99" stroke="#222" stroke-width="0.7" />
<text x="474.5" y="97.69" font-size="7.4" fill="#111">7</text>
<line x1="383.2" y1="84.78" x2="385.2" y2="84.78" stroke="#222" stroke-width="0.7" />
<line x1="472.3" y1="84.78" x2="470.3" y2="84.78" stroke="#222" stroke-width="0.7" />
<text x="474.5" y="87.48" font-size="7.4" fill="#111">8</text>
<line x1="383.2" y1="74.58" x2="385.2" y2="74.58" stroke="#222" stroke-width="0.7" />
<line x1="472.3" y1="74.58" x2="470.3" y2="74.58" stroke="#222" stroke-width="0.7" />
<text x="474.5" y="77.28" font-size="7.4" fill="#111">9</text>
<line x1="409.93" y1="70.6" x2="409.93" y2="115.8" stroke="#888" stroke-width="0.8" stroke-dasharray="2 1.6"/>
<path d="M392.11 103.15C392.85 101.28 395.08 95.16 396.56 91.92C398.05 88.69 399.39 86.06 401.02 83.76C402.65 81.47 404.29 79.46 406.37 78.15C408.44 76.84 411.12 75.99 413.49 75.91C415.87 75.82 418.25 76.67 420.62 77.64C423 78.61 425.08 79.77 427.75 81.72C430.42 83.68 433.69 86.74 436.66 89.37C439.63 92.01 442.6 94.82 445.57 97.54C448.54 100.26 451.51 103.32 454.48 105.7C457.45 108.08 461.9 110.8 463.39 111.82" fill="none" stroke="#1f9a52" stroke-width="1.7" stroke-linecap="round"/>
<text x="427.75" y="133.8" font-size="8" text-anchor="middle" fill="#1f9a52">n</text>
<line x1="424.6" y1="76.1" x2="436.1" y2="76.1" stroke="#1f9a52" stroke-width="1.6" />
<text x="438" y="78.6" font-size="6.85" fill="#222"><tspan fill="#e8202a">m</tspan>=1, <tspan fill="#29a9e0">h</tspan>=3</text>
<text x="488.5" y="93.2" font-size="8.5" text-anchor="middle" fill="#111" transform="rotate(-90 488.5 93.2)">Output (a.u.)</text>
<text x="412" y="97.7" font-size="7" fill="#222">Optimal</text>
<line x1="428.5" y1="99.8" x2="413.56" y2="111.75" stroke="#b5854d" stroke-width="1.3" />
<path d="M412 113L415 107.46L418.06 111.29Z" fill="#b5854d" />
<rect x="383.2" y="137" width="89.1" height="45.3" fill="#fff" stroke="#333" stroke-width="0.8" />
<line x1="392.11" y1="182.3" x2="392.11" y2="180.3" stroke="#222" stroke-width="0.7" />
<text x="392.11" y="192.1" font-size="7.6" text-anchor="middle" fill="#222">1</text>
<line x1="409.93" y1="182.3" x2="409.93" y2="180.3" stroke="#222" stroke-width="0.7" />
<text x="409.93" y="192.1" font-size="7.6" text-anchor="middle" fill="#222">2</text>
<line x1="427.75" y1="182.3" x2="427.75" y2="180.3" stroke="#222" stroke-width="0.7" />
<text x="427.75" y="192.1" font-size="7.6" text-anchor="middle" fill="#222">3</text>
<line x1="445.57" y1="182.3" x2="445.57" y2="180.3" stroke="#222" stroke-width="0.7" />
<text x="445.57" y="192.1" font-size="7.6" text-anchor="middle" fill="#222">4</text>
<line x1="463.39" y1="182.3" x2="463.39" y2="180.3" stroke="#222" stroke-width="0.7" />
<text x="463.39" y="192.1" font-size="7.6" text-anchor="middle" fill="#222">5</text>
<line x1="401.02" y1="182.3" x2="401.02" y2="181.1" stroke="#222" stroke-width="0.5" />
<line x1="418.84" y1="182.3" x2="418.84" y2="181.1" stroke="#222" stroke-width="0.5" />
<line x1="436.66" y1="182.3" x2="436.66" y2="181.1" stroke="#222" stroke-width="0.5" />
<line x1="454.48" y1="182.3" x2="454.48" y2="181.1" stroke="#222" stroke-width="0.5" />
<line x1="383.2" y1="182.3" x2="385.2" y2="182.3" stroke="#222" stroke-width="0.7" />
<line x1="472.3" y1="182.3" x2="470.3" y2="182.3" stroke="#222" stroke-width="0.7" />
<text x="474.5" y="185" font-size="7.4" fill="#111">3</text>
<line x1="383.2" y1="171.41" x2="385.2" y2="171.41" stroke="#222" stroke-width="0.7" />
<line x1="472.3" y1="171.41" x2="470.3" y2="171.41" stroke="#222" stroke-width="0.7" />
<text x="474.5" y="174.11" font-size="7.4" fill="#111">4</text>
<line x1="383.2" y1="160.52" x2="385.2" y2="160.52" stroke="#222" stroke-width="0.7" />
<line x1="472.3" y1="160.52" x2="470.3" y2="160.52" stroke="#222" stroke-width="0.7" />
<text x="474.5" y="163.22" font-size="7.4" fill="#111">5</text>
<line x1="383.2" y1="149.63" x2="385.2" y2="149.63" stroke="#222" stroke-width="0.7" />
<line x1="472.3" y1="149.63" x2="470.3" y2="149.63" stroke="#222" stroke-width="0.7" />
<text x="474.5" y="152.33" font-size="7.4" fill="#111">6</text>
<line x1="383.2" y1="138.74" x2="385.2" y2="138.74" stroke="#222" stroke-width="0.7" />
<line x1="472.3" y1="138.74" x2="470.3" y2="138.74" stroke="#222" stroke-width="0.7" />
<text x="474.5" y="141.44" font-size="7.4" fill="#111">7</text>
<line x1="409.93" y1="137" x2="409.93" y2="182.3" stroke="#888" stroke-width="0.8" stroke-dasharray="2 1.6"/>
<path d="M392.11 178.49C392.85 176.22 395.08 169.23 396.56 164.88C398.05 160.52 399.53 155.8 401.02 152.35C402.5 148.91 403.99 146.09 405.48 144.19C406.96 142.28 408.3 141.19 409.93 140.92C411.56 140.65 413.49 141.56 415.28 142.55C417.06 143.55 418.54 145 420.62 146.91C422.7 148.82 425.08 151.54 427.75 153.99C430.42 156.44 433.69 159.34 436.66 161.61C439.63 163.88 442.6 165.78 445.57 167.6C448.54 169.41 451.51 171.05 454.48 172.5C457.45 173.95 461.9 175.68 463.39 176.31" fill="none" stroke="#e8202a" stroke-width="1.7" stroke-linecap="round"/>
<text x="427.75" y="200.3" font-size="8" text-anchor="middle" fill="#e8202a">m</text>
<line x1="426.2" y1="143.3" x2="437.7" y2="143.3" stroke="#e8202a" stroke-width="1.6" />
<text x="439.6" y="145.8" font-size="6.85" fill="#222"><tspan fill="#1f9a52">n</tspan>=1, <tspan fill="#29a9e0">h</tspan>=3</text>
<text x="488.5" y="159.65" font-size="8.5" text-anchor="middle" fill="#111" transform="rotate(-90 488.5 159.65)">Output (a.u.)</text>
<text x="412" y="167.6" font-size="7" fill="#222">Optimal</text>
<line x1="431.5" y1="169.7" x2="412.59" y2="179.11" stroke="#b5854d" stroke-width="1.3" />
<path d="M410.8 180L414.9 175.22L417.09 179.61Z" fill="#b5854d" />
</g>
<g id="panel_c">
<text x="503.6" y="7.6" font-size="9.5">c</text>
<clipPath id="clipC"><ellipse cx="632" cy="50" rx="52" ry="24"/></clipPath>
<ellipse cx="565" cy="50" rx="47" ry="24" fill="#f3f0ea" />
<ellipse cx="632" cy="50" rx="52" ry="24" fill="#e8e8ea" />
<ellipse cx="565" cy="50" rx="47" ry="24" fill="#dad7d0" clip-path="url(#clipC)"/>
<text x="570.5" y="30.3" font-size="8.2" text-anchor="middle" fill="#29a9e0" font-style="italic">TCS-1</text>
<text x="633.7" y="30" font-size="9" text-anchor="middle" fill="#29a9e0" font-style="italic">TCS-2</text>
<line x1="523" y1="49" x2="569" y2="49" stroke="#f29aa0" stroke-width="1" />
<ellipse cx="545.5" cy="49" rx="15.8" ry="6.6" fill="#e2263c" />
<text x="545.5" y="51.6" font-size="6.6" text-anchor="middle" fill="#fff" font-weight="bold">Protein A</text>
<text x="526.8" y="52.2" font-size="10" text-anchor="middle" fill="#222">(</text>
<text x="563.8" y="52.2" font-size="10" text-anchor="middle" fill="#222">)</text>
<text x="562.6" y="56.6" font-size="7" fill="#e2263c" font-weight="bold">m</text>
<line x1="568.8" y1="49" x2="578" y2="49" stroke="#111" stroke-width="1.3" /><polyline points="574.6,45.6 578,49 574.6,52.4" fill="none" stroke="#111" stroke-width="1.3" />
<ellipse cx="600.4" cy="40" rx="15.8" ry="7.4" fill="#2f9e58" />
<ellipse cx="600.4" cy="58.4" rx="15.8" ry="7.4" fill="#2f9e58" />
<rect x="592" y="44" width="17" height="10.5" fill="#8fcfa5" opacity="0.7"/>
<text x="600.4" y="42.6" font-size="6.6" text-anchor="middle" fill="#fff" font-weight="bold">Protein B</text>
<text x="600.4" y="61" font-size="6.6" text-anchor="middle" fill="#fff" font-weight="bold">Protein B</text>
<line x1="600.4" y1="46" x2="600.4" y2="53" stroke="#fff" stroke-width="0.9" stroke-dasharray="1 1.3"/>
<text x="582.3" y="52.2" font-size="10" text-anchor="middle" fill="#222">(</text>
<text x="619.3" y="52.2" font-size="10" text-anchor="middle" fill="#222">)</text>
<text x="620.6" y="52.8" font-size="7" fill="#2f9e58" font-weight="bold">n</text>
<line x1="626" y1="49" x2="635" y2="49" stroke="#111" stroke-width="1.3" /><polyline points="631.6,45.6 635,49 631.6,52.4" fill="none" stroke="#111" stroke-width="1.3" />
<line x1="637" y1="49" x2="681" y2="49" stroke="#a5d5ee" stroke-width="1" />
<ellipse cx="660.8" cy="49" rx="15.8" ry="6.6" fill="#7fc6ea" />
<text x="660.8" y="51.6" font-size="6.6" text-anchor="middle" fill="#fff" font-weight="bold">Protein C</text>
<text x="639.5" y="52.2" font-size="10" text-anchor="middle" fill="#222">(</text>
<text x="679.3" y="52.2" font-size="10" text-anchor="middle" fill="#222">)</text>
<text x="675.6" y="58.4" font-size="7" fill="#29a9e0" font-weight="bold">h</text>
<rect x="526.4" y="92" width="66.1" height="12.8" fill="#2e2a2b" />
<rect x="592.5" y="92.4" width="80.3" height="12" fill="#fff" stroke="#222" stroke-width="0.9" />
<text x="559.5" y="101.6" font-size="8.25" text-anchor="middle" fill="#fff" font-weight="bold">AMPLIFICATION</text>
<text x="632.5" y="101.6" font-size="8.15" text-anchor="middle" fill="#111" font-weight="bold">DIMINISHMENT</text>
<rect x="527" y="108" width="65" height="70" fill="#f3e4d2" />
<path d="M527 178C545 140 565 123.5 592 122.7C622 123 648 145 672 175.5" fill="none" stroke="#0f9a94" stroke-width="2.7" />
<line x1="592" y1="124.5" x2="592" y2="178" stroke="#f2777f" stroke-width="1.3" stroke-dasharray="5 2.8"/>
<circle cx="592" cy="122.7" r="2.1" fill="#f7c9cc" stroke="#e2263c" stroke-width="1.1" />
<line x1="527" y1="178.4" x2="527" y2="109" stroke="#111" stroke-width="1.2" />
<polyline points="523.3,113.5 527,108.6 530.7,113.5" fill="none" stroke="#111" stroke-width="1.2" />
<line x1="526.4" y1="178" x2="672" y2="178" stroke="#111" stroke-width="1.2" />
<polyline points="667,174.3 672.2,178 667,181.7" fill="none" stroke="#111" stroke-width="1.2" />
<line x1="613.5" y1="111" x2="597" y2="119.5" stroke="#e8202a" stroke-width="1.4" /><polyline points="599.35,116.02 597,119.5 601.2,119.6" fill="none" stroke="#e8202a" stroke-width="1.4" />
<line x1="613.5" y1="166.5" x2="597" y2="175" stroke="#e8202a" stroke-width="1.4" /><polyline points="599.35,171.52 597,175 601.2,175.1" fill="none" stroke="#e8202a" stroke-width="1.4" />
<text x="622.5" y="114.2" font-size="8.35" fill="#633828" font-style="italic">Maximum Signal</text>
<text x="616.5" y="163.8" font-size="8.1" fill="#633828" font-style="italic">Optimal</text>
<text x="517.8" y="146.6" font-size="8.25" text-anchor="middle" fill="#111" transform="rotate(-90 517.8 146.6)">Output (a.u.)</text>
<text x="591.6" y="191.6" font-size="8.2" text-anchor="middle" fill="#111">Molecule of Midstream</text>
</g>
<g id="panel_d">
<text x="-0.3" y="238.6" font-size="9.5">d</text>
<line x1="70" y1="236.8" x2="70" y2="325" stroke="#222" stroke-width="0.8" />
<line x1="70" y1="325" x2="237.98" y2="325" stroke="#222" stroke-width="0.8" />
<line x1="70" y1="325" x2="70" y2="327.6" stroke="#222" stroke-width="0.8" />
<text x="70" y="339.4" font-size="7" text-anchor="middle" fill="#111">0</text>
<line x1="111.38" y1="325" x2="111.38" y2="327.6" stroke="#222" stroke-width="0.8" />
<text x="111.38" y="339.4" font-size="7" text-anchor="middle" fill="#111">5</text>
<line x1="152.75" y1="325" x2="152.75" y2="327.6" stroke="#222" stroke-width="0.8" />
<text x="152.75" y="339.4" font-size="7" text-anchor="middle" fill="#111">10</text>
<line x1="194.12" y1="325" x2="194.12" y2="327.6" stroke="#222" stroke-width="0.8" />
<text x="194.12" y="339.4" font-size="7" text-anchor="middle" fill="#111">15</text>
<line x1="235.5" y1="325" x2="235.5" y2="327.6" stroke="#222" stroke-width="0.8" />
<text x="235.5" y="339.4" font-size="7" text-anchor="middle" fill="#111">20</text>
<line x1="90.69" y1="325" x2="90.69" y2="326.5" stroke="#222" stroke-width="0.7" />
<line x1="132.06" y1="325" x2="132.06" y2="326.5" stroke="#222" stroke-width="0.7" />
<line x1="173.44" y1="325" x2="173.44" y2="326.5" stroke="#222" stroke-width="0.7" />
<line x1="214.81" y1="325" x2="214.81" y2="326.5" stroke="#222" stroke-width="0.7" />
<line x1="67.4" y1="315.3" x2="70" y2="315.3" stroke="#222" stroke-width="0.8" />
<text x="63.8" y="317.7" font-size="7" text-anchor="end" fill="#111">2.0</text>
<line x1="67.4" y1="289.1" x2="70" y2="289.1" stroke="#222" stroke-width="0.8" />
<text x="63.8" y="291.5" font-size="7" text-anchor="end" fill="#111">2.5</text>
<line x1="67.4" y1="262.9" x2="70" y2="262.9" stroke="#222" stroke-width="0.8" />
<text x="63.8" y="265.3" font-size="7" text-anchor="end" fill="#111">3.0</text>
<line x1="67.4" y1="236.7" x2="70" y2="236.7" stroke="#222" stroke-width="0.8" />
<text x="63.8" y="239.1" font-size="7" text-anchor="end" fill="#111">3.5</text>
<line x1="68.5" y1="302.2" x2="70" y2="302.2" stroke="#222" stroke-width="0.7" />
<line x1="68.5" y1="276" x2="70" y2="276" stroke="#222" stroke-width="0.7" />
<line x1="68.5" y1="249.8" x2="70" y2="249.8" stroke="#222" stroke-width="0.7" />
<defs><linearGradient id="sw1" gradientUnits="userSpaceOnUse" x1="88" y1="0" x2="218" y2="0"><stop offset="0" stop-color="#1d9b5e" stop-opacity="0"/><stop offset="0.4" stop-color="#1d9b5e" stop-opacity="0.4"/><stop offset="1" stop-color="#1d9b5e" stop-opacity="1"/></linearGradient></defs><path d="M87.73 234.15 L90.3 238.86 L93.11 243.4 L96.18 247.77 L99.49 251.96 L103.06 255.98 L106.87 259.83 L110.93 263.5 L115.25 267 L119.81 270.32 L124.62 273.46 L129.68 276.43 L134.99 279.21 L140.54 281.82 L146.35 284.25 L152.4 286.5 L158.69 288.56 L165.24 290.45 L172.02 292.16 L179.06 293.69 L186.33 295.04 L193.85 296.21 L201.62 297.2 L209.63 298.02 L217.86 298.65 L218.14 294.55 L209.95 294.07 L202.02 293.42 L194.33 292.58 L186.89 291.57 L179.69 290.38 L172.73 289.01 L166.01 287.47 L159.53 285.75 L153.29 283.85 L147.29 281.77 L141.53 279.52 L136.01 277.09 L130.73 274.48 L125.69 271.69 L120.88 268.72 L116.31 265.58 L111.98 262.25 L107.88 258.74 L104.02 255.05 L100.4 251.18 L97.01 247.13 L93.86 242.89 L90.95 238.47 L88.27 233.85Z" fill="url(#sw1)" /><polyline points="215.19,300.14 219.5,296.72 215.78,292.66" fill="none" stroke="#1d9b5e" stroke-width="1.6" />
<path d="M78.28 268.14C79.65 264.65 83.79 246.31 86.55 247.18C89.31 248.05 92.07 266.39 94.83 273.38C97.58 280.37 100.34 285.61 103.1 289.1C105.86 292.59 108.62 292.59 111.38 294.34C114.13 296.09 116.89 298.71 119.65 299.58C122.41 300.45 125.17 298.71 127.93 299.58C130.68 300.45 133.44 303.95 136.2 304.82C138.96 305.69 141.72 304.82 144.48 304.82C147.23 304.82 149.99 304.82 152.75 304.82C155.51 304.82 158.27 303.95 161.03 304.82C163.78 305.69 166.54 309.19 169.3 310.06C172.06 310.93 174.82 310.06 177.57 310.06C180.33 310.06 183.09 310.06 185.85 310.06C188.61 310.06 191.37 310.06 194.12 310.06C196.88 310.06 199.64 310.06 202.4 310.06C205.16 310.06 207.92 310.06 210.68 310.06C213.43 310.06 216.19 309.19 218.95 310.06C221.71 310.93 224.47 314.43 227.22 315.3C229.98 316.17 234.12 315.3 235.5 315.3" fill="none" stroke="#0f8a1f" stroke-width="1.1" />
<circle cx="78.28" cy="268.14" r="2.3" fill="#0f8a1f" />
<circle cx="86.55" cy="247.18" r="2.3" fill="#0f8a1f" />
<circle cx="94.83" cy="273.38" r="2.3" fill="#0f8a1f" />
<circle cx="103.1" cy="289.1" r="2.3" fill="#0f8a1f" />
<circle cx="111.38" cy="294.34" r="2.3" fill="#0f8a1f" />
<circle cx="119.65" cy="299.58" r="2.3" fill="#0f8a1f" />
<circle cx="127.93" cy="299.58" r="2.3" fill="#0f8a1f" />
<circle cx="136.2" cy="304.82" r="2.3" fill="#0f8a1f" />
<circle cx="144.48" cy="304.82" r="2.3" fill="#0f8a1f" />
<circle cx="152.75" cy="304.82" r="2.3" fill="#0f8a1f" />
<circle cx="161.03" cy="304.82" r="2.3" fill="#0f8a1f" />
<circle cx="169.3" cy="310.06" r="2.3" fill="#0f8a1f" />
<circle cx="177.57" cy="310.06" r="2.3" fill="#0f8a1f" />
<circle cx="185.85" cy="310.06" r="2.3" fill="#0f8a1f" />
<circle cx="194.12" cy="310.06" r="2.3" fill="#0f8a1f" />
<circle cx="202.4" cy="310.06" r="2.3" fill="#0f8a1f" />
<circle cx="210.68" cy="310.06" r="2.3" fill="#0f8a1f" />
<circle cx="218.95" cy="310.06" r="2.3" fill="#0f8a1f" />
<circle cx="227.22" cy="315.3" r="2.3" fill="#0f8a1f" />
<circle cx="235.5" cy="315.3" r="2.3" fill="#0f8a1f" />
<text x="155.5" y="352.8" font-size="8.25" text-anchor="middle" fill="#111">Input / Intial amount of A (a.u.)</text>
<text x="39.6" y="290.6" font-size="8.05" text-anchor="middle" fill="#111" transform="rotate(-90 39.6 290.6)">Optimal molecule of B</text>
<text x="219" y="254.2" font-size="9.3" text-anchor="middle" fill="#111" font-style="italic">Sim.</text>
<line x1="296" y1="249.8" x2="296" y2="328.6" stroke="#222" stroke-width="0.8" />
<line x1="296" y1="328.6" x2="445.92" y2="328.6" stroke="#222" stroke-width="0.8" />
<line x1="296" y1="328.6" x2="296" y2="331.2" stroke="#222" stroke-width="0.8" />
<text x="296" y="342" font-size="7" text-anchor="middle" fill="#111">0</text>
<line x1="332.93" y1="328.6" x2="332.93" y2="331.2" stroke="#222" stroke-width="0.8" />
<text x="332.93" y="342" font-size="7" text-anchor="middle" fill="#111">5</text>
<line x1="369.85" y1="328.6" x2="369.85" y2="331.2" stroke="#222" stroke-width="0.8" />
<text x="369.85" y="342" font-size="7" text-anchor="middle" fill="#111">10</text>
<line x1="406.77" y1="328.6" x2="406.77" y2="331.2" stroke="#222" stroke-width="0.8" />
<text x="406.77" y="342" font-size="7" text-anchor="middle" fill="#111">15</text>
<line x1="443.7" y1="328.6" x2="443.7" y2="331.2" stroke="#222" stroke-width="0.8" />
<text x="443.7" y="342" font-size="7" text-anchor="middle" fill="#111">20</text>
<line x1="314.46" y1="328.6" x2="314.46" y2="330.1" stroke="#222" stroke-width="0.7" />
<line x1="351.39" y1="328.6" x2="351.39" y2="330.1" stroke="#222" stroke-width="0.7" />
<line x1="388.31" y1="328.6" x2="388.31" y2="330.1" stroke="#222" stroke-width="0.7" />
<line x1="425.24" y1="328.6" x2="425.24" y2="330.1" stroke="#222" stroke-width="0.7" />
<line x1="293.4" y1="318.9" x2="296" y2="318.9" stroke="#222" stroke-width="0.8" />
<text x="289.8" y="321.3" font-size="7" text-anchor="end" fill="#111">1</text>
<line x1="293.4" y1="299" x2="296" y2="299" stroke="#222" stroke-width="0.8" />
<text x="289.8" y="301.4" font-size="7" text-anchor="end" fill="#111">2</text>
<line x1="293.4" y1="279.1" x2="296" y2="279.1" stroke="#222" stroke-width="0.8" />
<text x="289.8" y="281.5" font-size="7" text-anchor="end" fill="#111">3</text>
<line x1="293.4" y1="259.2" x2="296" y2="259.2" stroke="#222" stroke-width="0.8" />
<text x="289.8" y="261.6" font-size="7" text-anchor="end" fill="#111">4</text>
<line x1="294.5" y1="308.95" x2="296" y2="308.95" stroke="#222" stroke-width="0.7" />
<line x1="294.5" y1="289.05" x2="296" y2="289.05" stroke="#222" stroke-width="0.7" />
<line x1="294.5" y1="269.15" x2="296" y2="269.15" stroke="#222" stroke-width="0.7" />
<line x1="294.5" y1="249.25" x2="296" y2="249.25" stroke="#222" stroke-width="0.7" />
<defs><linearGradient id="sw2" gradientUnits="userSpaceOnUse" x1="303" y1="0" x2="424.5" y2="0"><stop offset="0" stop-color="#27a3dc" stop-opacity="0"/><stop offset="0.4" stop-color="#27a3dc" stop-opacity="0.4"/><stop offset="1" stop-color="#27a3dc" stop-opacity="1"/></linearGradient></defs><path d="M303.01 297.11 L307.78 297.04 L312.59 296.82 L317.42 296.45 L322.29 295.93 L327.19 295.25 L332.11 294.43 L337.07 293.45 L342.05 292.33 L347.07 291.05 L352.11 289.62 L357.18 288.04 L362.28 286.31 L367.41 284.42 L372.57 282.39 L377.75 280.2 L382.97 277.86 L388.21 275.37 L393.47 272.73 L398.77 269.93 L404.09 266.99 L409.44 263.89 L414.82 260.64 L420.22 257.24 L425.64 253.7 L423.36 250.3 L418.05 253.94 L412.78 257.42 L407.54 260.76 L402.32 263.95 L397.13 266.98 L391.96 269.87 L386.82 272.61 L381.7 275.21 L376.61 277.65 L371.54 279.95 L366.49 282.1 L361.47 284.09 L356.47 285.94 L351.49 287.65 L346.54 289.2 L341.61 290.61 L336.71 291.86 L331.83 292.97 L326.96 293.93 L322.13 294.74 L317.31 295.4 L312.52 295.92 L307.75 296.28 L302.99 296.49Z" fill="url(#sw2)" /><polyline points="424.45,256.52 425.75,251.18 420.33,250.25" fill="none" stroke="#27a3dc" stroke-width="1.6" />
<path d="M303.38 318.9C304.62 317.9 308.31 314.92 310.77 312.93C313.23 310.94 315.69 308.29 318.15 306.96C320.62 305.63 323.08 305.63 325.54 304.97C328 304.31 330.46 303.31 332.93 302.98C335.39 302.65 337.85 303.31 340.31 302.98C342.77 302.65 345.23 301.65 347.69 300.99C350.16 300.33 352.62 299.66 355.08 299C357.54 298.34 360 297.67 362.47 297.01C364.93 296.35 367.39 295.68 369.85 295.02C372.31 294.36 374.77 293.69 377.24 293.03C379.7 292.37 382.16 292.03 384.62 291.04C387.08 290.04 389.54 288.05 392 287.06C394.47 286.06 396.93 286.06 399.39 285.07C401.85 284.07 404.31 282.42 406.77 281.09C409.24 279.76 411.7 278.44 414.16 277.11C416.62 275.78 419.08 274.46 421.55 273.13C424.01 271.8 426.47 270.48 428.93 269.15C431.39 267.82 433.85 266.5 436.31 265.17C438.78 263.84 442.47 261.85 443.7 261.19" fill="none" stroke="#1a1aee" stroke-width="1.1" />
<circle cx="303.38" cy="318.9" r="2.3" fill="#1a1aee" />
<circle cx="310.77" cy="312.93" r="2.3" fill="#1a1aee" />
<circle cx="318.15" cy="306.96" r="2.3" fill="#1a1aee" />
<circle cx="325.54" cy="304.97" r="2.3" fill="#1a1aee" />
<circle cx="332.93" cy="302.98" r="2.3" fill="#1a1aee" />
<circle cx="340.31" cy="302.98" r="2.3" fill="#1a1aee" />
<circle cx="347.69" cy="300.99" r="2.3" fill="#1a1aee" />
<circle cx="355.08" cy="299" r="2.3" fill="#1a1aee" />
<circle cx="362.47" cy="297.01" r="2.3" fill="#1a1aee" />
<circle cx="369.85" cy="295.02" r="2.3" fill="#1a1aee" />
<circle cx="377.24" cy="293.03" r="2.3" fill="#1a1aee" />
<circle cx="384.62" cy="291.04" r="2.3" fill="#1a1aee" />
<circle cx="392" cy="287.06" r="2.3" fill="#1a1aee" />
<circle cx="399.39" cy="285.07" r="2.3" fill="#1a1aee" />
<circle cx="406.77" cy="281.09" r="2.3" fill="#1a1aee" />
<circle cx="414.16" cy="277.11" r="2.3" fill="#1a1aee" />
<circle cx="421.55" cy="273.13" r="2.3" fill="#1a1aee" />
<circle cx="428.93" cy="269.15" r="2.3" fill="#1a1aee" />
<circle cx="436.31" cy="265.17" r="2.3" fill="#1a1aee" />
<circle cx="443.7" cy="261.19" r="2.3" fill="#1a1aee" />
<text x="380.7" y="352.8" font-size="8.25" text-anchor="middle" fill="#111">Initial amount of B (a.u.)</text>
<text x="271" y="290.6" font-size="8.05" text-anchor="middle" fill="#111" transform="rotate(-90 271 290.6)">Optimal molecule of B</text>
<text x="316" y="254.2" font-size="9.3" text-anchor="middle" fill="#111" font-style="italic">Sim.</text>
<line x1="508" y1="249.8" x2="508" y2="328.6" stroke="#222" stroke-width="0.8" />
<line x1="508" y1="328.6" x2="657.41" y2="328.6" stroke="#222" stroke-width="0.8" />
<line x1="508" y1="328.6" x2="508" y2="331.2" stroke="#222" stroke-width="0.8" />
<text x="508" y="342" font-size="7" text-anchor="middle" fill="#111">0</text>
<line x1="544.8" y1="328.6" x2="544.8" y2="331.2" stroke="#222" stroke-width="0.8" />
<text x="544.8" y="342" font-size="7" text-anchor="middle" fill="#111">5</text>
<line x1="581.6" y1="328.6" x2="581.6" y2="331.2" stroke="#222" stroke-width="0.8" />
<text x="581.6" y="342" font-size="7" text-anchor="middle" fill="#111">10</text>
<line x1="618.4" y1="328.6" x2="618.4" y2="331.2" stroke="#222" stroke-width="0.8" />
<text x="618.4" y="342" font-size="7" text-anchor="middle" fill="#111">15</text>
<line x1="655.2" y1="328.6" x2="655.2" y2="331.2" stroke="#222" stroke-width="0.8" />
<text x="655.2" y="342" font-size="7" text-anchor="middle" fill="#111">20</text>
<line x1="526.4" y1="328.6" x2="526.4" y2="330.1" stroke="#222" stroke-width="0.7" />
<line x1="563.2" y1="328.6" x2="563.2" y2="330.1" stroke="#222" stroke-width="0.7" />
<line x1="600" y1="328.6" x2="600" y2="330.1" stroke="#222" stroke-width="0.7" />
<line x1="636.8" y1="328.6" x2="636.8" y2="330.1" stroke="#222" stroke-width="0.7" />
<line x1="505.4" y1="314.6" x2="508" y2="314.6" stroke="#222" stroke-width="0.8" />
<text x="501.8" y="317" font-size="7" text-anchor="end" fill="#111">2</text>
<line x1="505.4" y1="297.4" x2="508" y2="297.4" stroke="#222" stroke-width="0.8" />
<text x="501.8" y="299.8" font-size="7" text-anchor="end" fill="#111">3</text>
<line x1="505.4" y1="280.2" x2="508" y2="280.2" stroke="#222" stroke-width="0.8" />
<text x="501.8" y="282.6" font-size="7" text-anchor="end" fill="#111">4</text>
<line x1="505.4" y1="263" x2="508" y2="263" stroke="#222" stroke-width="0.8" />
<text x="501.8" y="265.4" font-size="7" text-anchor="end" fill="#111">5</text>
<line x1="506.5" y1="323.2" x2="508" y2="323.2" stroke="#222" stroke-width="0.7" />
<line x1="506.5" y1="306" x2="508" y2="306" stroke="#222" stroke-width="0.7" />
<line x1="506.5" y1="288.8" x2="508" y2="288.8" stroke="#222" stroke-width="0.7" />
<line x1="506.5" y1="271.6" x2="508" y2="271.6" stroke="#222" stroke-width="0.7" />
<line x1="506.5" y1="254.4" x2="508" y2="254.4" stroke="#222" stroke-width="0.7" />
<defs><linearGradient id="sw3" gradientUnits="userSpaceOnUse" x1="528" y1="0" x2="650" y2="0"><stop offset="0" stop-color="#e0203c" stop-opacity="0"/><stop offset="0.4" stop-color="#e0203c" stop-opacity="0.4"/><stop offset="1" stop-color="#e0203c" stop-opacity="1"/></linearGradient></defs><path d="M527.75 244.17 L530.86 248.8 L534.14 253.27 L537.6 257.57 L541.23 261.7 L545.03 265.67 L549.01 269.46 L553.15 273.09 L557.47 276.55 L561.96 279.83 L566.62 282.95 L571.46 285.9 L576.46 288.67 L581.64 291.28 L586.99 293.71 L592.51 295.97 L598.2 298.06 L604.06 299.98 L610.1 301.72 L616.3 303.29 L622.67 304.69 L629.21 305.91 L635.92 306.96 L642.8 307.84 L649.82 308.54 L650.18 304.46 L643.2 303.91 L636.41 303.18 L629.79 302.29 L623.33 301.23 L617.04 300 L610.9 298.59 L604.94 297.02 L599.13 295.27 L593.49 293.36 L588.01 291.27 L582.69 289.01 L577.54 286.58 L572.54 283.97 L567.71 281.19 L563.04 278.24 L558.53 275.12 L554.18 271.82 L549.99 268.35 L545.97 264.7 L542.1 260.88 L538.4 256.88 L534.86 252.71 L531.47 248.36 L528.25 243.83Z" fill="url(#sw3)" /><polyline points="647.1,309.97 651.49,306.65 647.87,302.51" fill="none" stroke="#e0203c" stroke-width="1.6" />
<path d="M515.36 263C516.59 263 520.27 263 522.72 263C525.17 263 527.63 260.99 530.08 263C532.53 265.01 534.99 270.74 537.44 275.04C539.89 279.34 542.35 285.36 544.8 288.8C547.25 292.24 549.71 293.39 552.16 295.68C554.61 297.97 557.07 300.84 559.52 302.56C561.97 304.28 564.43 304.85 566.88 306C569.33 307.15 571.79 308.58 574.24 309.44C576.69 310.3 579.15 310.59 581.6 311.16C584.05 311.73 586.51 312.31 588.96 312.88C591.41 313.45 593.87 314.03 596.32 314.6C598.77 315.17 601.23 316.03 603.68 316.32C606.13 316.61 608.59 316.03 611.04 316.32C613.49 316.61 615.95 317.75 618.4 318.04C620.85 318.33 623.31 318.04 625.76 318.04C628.21 318.04 630.67 318.04 633.12 318.04C635.57 318.04 638.03 318.04 640.48 318.04C642.93 318.04 645.39 317.75 647.84 318.04C650.29 318.33 653.97 319.47 655.2 319.76" fill="none" stroke="#ee1111" stroke-width="1.1" />
<circle cx="515.36" cy="263" r="2.3" fill="#ee1111" />
<circle cx="522.72" cy="263" r="2.3" fill="#ee1111" />
<circle cx="530.08" cy="263" r="2.3" fill="#ee1111" />
<circle cx="537.44" cy="275.04" r="2.3" fill="#ee1111" />
<circle cx="544.8" cy="288.8" r="2.3" fill="#ee1111" />
<circle cx="552.16" cy="295.68" r="2.3" fill="#ee1111" />
<circle cx="559.52" cy="302.56" r="2.3" fill="#ee1111" />
<circle cx="566.88" cy="306" r="2.3" fill="#ee1111" />
<circle cx="574.24" cy="309.44" r="2.3" fill="#ee1111" />
<circle cx="581.6" cy="311.16" r="2.3" fill="#ee1111" />
<circle cx="588.96" cy="312.88" r="2.3" fill="#ee1111" />
<circle cx="596.32" cy="314.6" r="2.3" fill="#ee1111" />
<circle cx="603.68" cy="316.32" r="2.3" fill="#ee1111" />
<circle cx="611.04" cy="316.32" r="2.3" fill="#ee1111" />
<circle cx="618.4" cy="318.04" r="2.3" fill="#ee1111" />
<circle cx="625.76" cy="318.04" r="2.3" fill="#ee1111" />
<circle cx="633.12" cy="318.04" r="2.3" fill="#ee1111" />
<circle cx="640.48" cy="318.04" r="2.3" fill="#ee1111" />
<circle cx="647.84" cy="318.04" r="2.3" fill="#ee1111" />
<circle cx="655.2" cy="319.76" r="2.3" fill="#ee1111" />
<text x="584" y="352.8" font-size="8.25" text-anchor="middle" fill="#111">Initial amount of C (a.u.)</text>
<text x="484.6" y="290.6" font-size="8.05" text-anchor="middle" fill="#111" transform="rotate(-90 484.6 290.6)">Optimal molecule of B</text>
<text x="646" y="254.2" font-size="9.3" text-anchor="middle" fill="#111" font-style="italic">Sim.</text>
</g>
<g id="panel_e">
<defs>
<filter id="bl1" filterUnits="userSpaceOnUse" x="0" y="0" width="685" height="916"><feGaussianBlur stdDeviation="1.15"/></filter>
<filter id="bl2" filterUnits="userSpaceOnUse" x="0" y="0" width="685" height="916"><feGaussianBlur stdDeviation="1.6"/></filter>
<filter id="bl3" filterUnits="userSpaceOnUse" x="0" y="0" width="685" height="916"><feGaussianBlur stdDeviation="3"/></filter>
<filter id="bl05" filterUnits="userSpaceOnUse" x="0" y="0" width="685" height="916"><feGaussianBlur stdDeviation="0.45"/></filter>
</defs>
<text x="1.4" y="380.7" font-size="9.5">e</text>
<rect x="16.6" y="383.9" width="199.3" height="198.8" fill="#000" />
<clipPath id="clipE"><rect x="16.6" y="383.9" width="199.3" height="198.80000000000007"/></clipPath>
<g clip-path="url(#clipE)">
<path d="M206.49 421.49h0M45.77 464.63h0M46.03 450.02h0M82.52 450.76h0M91 421.44h0M130.19 490.84h0M77.67 528.41h0M145.79 457.78h0M68.07 459.82h0M162.7 404h0M26.66 433.28h0M23.5 444.07h0M39.34 428.32h0M139.27 449.27h0M19.53 464.94h0M94.82 446.02h0M118.67 471.51h0M182.18 478.53h0M75.57 474.86h0M46.04 471.41h0M66.76 455.2h0M67.69 440.37h0M68.01 457.13h0M128.8 477.1h0M60.27 468.93h0M30.18 570.03h0M90.08 419.62h0M99.3 408.22h0M93.98 435.78h0M94.1 431h0M94.96 534.06h0M19.98 440.92h0M51.84 465.4h0M52.15 477.32h0M158.17 396.44h0M40.72 461.74h0M102.9 453.45h0M23.12 412.96h0M43.89 547.14h0M35.88 471.39h0M36.05 571.68h0M188.65 403.87h0M133.71 527.24h0M91.95 458.68h0M38.59 456.01h0M115.4 429.4h0M117.02 526.94h0M73.94 474.7h0M204.59 435.03h0M57.26 582.21h0M127.82 399.71h0M37.33 453.96h0M34.54 470.34h0M119.2 500.64h0M94.53 468.36h0M164.17 513.16h0M119.32 421.26h0M171.54 581.22h0M64.56 531.55h0M182.69 558.71h0M111.33 446.02h0M184.56 551.82h0M29.05 450.2h0M43.7 448.45h0M82.19 552.65h0M48.19 406.84h0M158.25 486.29h0M62.13 434.19h0M73.38 451.3h0M39.54 481.57h0M193.32 408.67h0M73.48 469.05h0M178.6 414.59h0M171.9 508.79h0M178.52 496.57h0M90.56 404.2h0M202.21 512.26h0M171.63 472.45h0M79.92 405.73h0M66.07 519.82h0M27.46 444.35h0M215.24 472.49h0M51.17 577.09h0M52.8 407.29h0M86.54 473.29h0M63.99 444.5h0M88.66 494.8h0M56.97 450.63h0M21.04 438.88h0M209.14 550.29h0M19.1 460.15h0M29.65 491.71h0M34.21 443.39h0M167.77 393h0M71.72 566.81h0M65.93 498.6h0M77.5 453.99h0M201.62 496.57h0M214.35 389.69h0M161.45 576.48h0M91.87 475.23h0M42.23 474.26h0M22.76 512.76h0M137.3 448.61h0M171.89 573.11h0M93.47 452.7h0M61.28 466.28h0M38.26 444.36h0M83.86 436.88h0M29.41 449.41h0M40.89 460.56h0M80.72 445.47h0M180.18 426.99h0M62.26 384.1h0M182.52 579.68h0M200.15 446.23h0M185.77 496.59h0M64.89 522.51h0M78.87 465.67h0M39.15 466.09h0M48.41 405.07h0M48.86 398.49h0M70.02 412.41h0M190.7 465.25h0M172.93 489.61h0M47.41 428.75h0M59.28 448.58h0M143.85 479.45h0M203.82 473.29h0M67.7 435.32h0M169.75 415.02h0M112.5 459.92h0M91.56 408.45h0M200.6 515.12h0M73.95 472.57h0M197.15 568.05h0M44.29 567.01h0M98.98 580.89h0M179.92 458.3h0M76.8 442.44h0M80.61 462.91h0M60.7 458.5h0M194.03 571.79h0M21.79 454.08h0M76.71 486.77h0M91.73 452h0M66.08 449.86h0M128.82 425.05h0M44.27 466.93h0M79.02 440.35h0M25.08 397.06h0M92.4 566.61h0M21.95 449.06h0M20.11 443.89h0M141.27 439.4h0M31.47 420.05h0M74.67 470.09h0M94.87 495.59h0M150.57 489.76h0M52.17 473.65h0M76.69 430.08h0M74.45 433.2h0M179.12 579.85h0M18.59 558.31h0M93.98 536.95h0M79.33 448.83h0M147.53 482.65h0M37.32 457.82h0M104.94 529.57h0M59.41 452.53h0M41.46 432.65h0M106.18 500.55h0M76.7 417.42h0M73.08 532.98h0M67.41 572.67h0M43.01 430.94h0M28.43 466.89h0M88.58 427.14h0M45.98 415.23h0M62.87 440.7h0M170.88 527.84h0M174.3 495.58h0M159.24 487.41h0M193.4 390.58h0M59.45 470.97h0M45.33 470.11h0M54 525.25h0M26.02 417.52h0M80.18 413.41h0M41.83 427.13h0M58.39 486.48h0M145.22 513.62h0M39.99 552.64h0M136.34 403.78h0M79.28 462.31h0M98.43 533.15h0M93.22 543.58h0M76.62 492.27h0M155.28 480.24h0M205.29 574.1h0M161.6 504.36h0M104 502.19h0M18.94 477.92h0M27.53 483.5h0M28.32 475.92h0M42.74 466.07h0M50.13 410.35h0M92.9 471.51h0M72.23 444.35h0M57.58 468.46h0M100.3 436.81h0M106.18 486.88h0M213.69 426.68h0M37.85 454.27h0M113.13 558.61h0M167.78 443.86h0M60.99 452.34h0M44.13 470.19h0M40.18 425.68h0M165.17 512.74h0M128.66 567h0M133.94 482.09h0M42.31 468.56h0M68.78 482.52h0M44.78 473.64h0M115.77 464.23h0M86.5 479.14h0M36.78 448.17h0M36.99 460.36h0M61.83 439.18h0M108.12 412.75h0M30.27 544.72h0M146.84 504.6h0M100.49 433.52h0M40.86 429.41h0M81.32 471.29h0M74.21 431.69h0M81.86 504.38h0M108.41 497.45h0M61.44 419.25h0M196.11 486.34h0M71.54 539.42h0M51.69 476.74h0M27.14 422.57h0M73.18 482.07h0M196.6 468.49h0M94.83 446.88h0M45.43 449.44h0M108.43 488.6h0M43.5 459.06h0M73.46 439.68h0M33.53 470.08h0M67.32 455.33h0M173.75 522.68h0M39.22 392.75h0M58.87 470.02h0M173.43 495.6h0M95.15 425.87h0M24.66 421.41h0M144.74 519.44h0M23.54 482.71h0M86.34 421.02h0M65.98 416.62h0M118.37 419.61h0M30.53 424.76h0M125.7 498.22h0M83.07 407.34h0M64.78 466.89h0M84.69 459.65h0M174.85 465.12h0M80.22 410.5h0M77.6 446.33h0M28.17 484.81h0M200.12 536.04h0M130.7 407.27h0M86.61 431.02h0M192.19 446.98h0M154.75 457.77h0M83.15 441.83h0M105.7 443.15h0M85.66 473.38h0M88.85 438.32h0M77.42 400.74h0M24.41 544.93h0M124.13 465.46h0M90.19 413.93h0M26.9 386.02h0M58.8 476.16h0M76.19 447.49h0M77.23 529.39h0M89.12 559.16h0M115.54 503.67h0M88.38 461.6h0M46.26 451.02h0M90.92 581.53h0M26.45 411.85h0M106.83 457.71h0M127.94 472.25h0M85.72 577.83h0M181.22 398.86h0M102.46 448.98h0M60.77 428h0M21.12 447.1h0M128.42 502.65h0M153.95 525.9h0M85.4 474.46h0M113.93 418.84h0M212.83 406.02h0M128.48 468.87h0M67.97 480.8h0M134.08 548.03h0M162.7 579.49h0M46.46 483.8h0M67.12 388.98h0M205.32 558.26h0M20.26 466.68h0M45.98 451.28h0M146.64 402.8h0M72.32 433.07h0M96.42 468.27h0M209.88 568.07h0M184.59 465.19h0M56.29 554.65h0M131.17 412.99h0M83.99 445.85h0M23.99 461.53h0M81.2 473.11h0M17.02 464.73h0M93.25 458.49h0M58.32 398.82h0M34.44 440.16h0M102.97 458.41h0M81.18 542.22h0M66.77 441.23h0M76.3 458.15h0M65.55 465.04h0M102.26 495.89h0M170.38 490.24h0M124.57 459.29h0M215.74 461.73h0M140.99 511.73h0M29.6 444.77h0M142.27 568.75h0M22.31 408.75h0M58.68 455.24h0M99.03 574.74h0M124.6 436.19h0M36.57 430.92h0M23.88 443.35h0M38.34 538.82h0M100.53 471.05h0M199.54 530.16h0M19.42 470.71h0M78.93 437h0M20.54 451.59h0M94.84 476.33h0M50 414.6h0M173.92 541.3h0M24.03 471.6h0M63.36 554.26h0M164.59 506.47h0M132.39 580.1h0M208.6 400.22h0M94.79 482.96h0M121.28 497.32h0M163.52 497.86h0M31.91 403.2h0M20.5 461.81h0M57.64 527.44h0M28.48 473.36h0M40.78 448.03h0M131.68 510.64h0M89.62 384.02h0M41.85 406.14h0M42.72 387.87h0M37.31 435.71h0M37.4 424.91h0M85.47 450.87h0M114.83 384.46h0M107.73 424.72h0M40.95 483.51h0M42.15 454.12h0M140.22 459.04h0M83.61 473.36h0M78.15 419.3h0M85.4 469.79h0M51.38 471.91h0M47.14 413.72h0M27.48 427.58h0M121.17 553.58h0M59.38 419.11h0M22.76 433.22h0M34.08 427.44h0M21.91 402.58h0M32.62 537.53h0M122.16 451.5h0M119.98 442.19h0M123.96 526.41h0M210.05 534.99h0M104.2 429.87h0M73.38 444.07h0M161.06 580.65h0M69.19 516.93h0M105.7 454.96h0M76.8 453.93h0M30.33 440.53h0M122.25 461.13h0M61.35 481.57h0M131.62 473.24h0M27.21 421.98h0M164.03 502.01h0M144.53 502.12h0M162.58 496.39h0M76.2 435.05h0M90.05 434.67h0M60.97 437.76h0M39.63 425.72h0M49.75 466.98h0M39.97 560.81h0M110.6 561.1h0M28.65 444.62h0M86.57 450.66h0M55.02 442.45h0M90.35 462.34h0M188.17 573.52h0M86.35 418.75h0M57.57 451.34h0M133.82 469.11h0M203.74 567.27h0M47.69 441h0M196.96 411.45h0M193.73 473.52h0M150.04 482.11h0M18.94 505.37h0M101.01 567.87h0M61.95 393.38h0M47.69 481.71h0M23.43 486.45h0M62.99 440.69h0M154.39 407.83h0M37.67 455.55h0M188.89 408.63h0M110.81 581.84h0M33.87 416.01h0M187.56 385.94h0M80.03 475.85h0M17.77 504.5h0M119.68 406.55h0M32.45 405.14h0M125.52 454.85h0M124.98 459.18h0M20.63 484.81h0M180.16 476.79h0M37.08 445.68h0M77.81 444.87h0M83.55 476.26h0M22.3 455.16h0M151.94 450.88h0M48.53 456.46h0M133.26 404.42h0M19.12 455.82h0M127.09 566.48h0M72.66 476.2h0M82.01 457.07h0M111.4 568.21h0M19.05 460.56h0M116.33 391.02h0M136.56 392.68h0M125.21 416.61h0M189.02 512.19h0M53.68 469.1h0M85.85 460.86h0M37.56 498.4h0M106.32 455.03h0M196.92 536.6h0M124.81 570.01h0M72.93 419.41h0M196.42 481.82h0M158.06 475.37h0M58.67 481.1h0M29.89 437.87h0M78.35 429.74h0M135.61 508.7h0M112.73 516.05h0M72.24 415.95h0M129.84 485.51h0M117.97 458.77h0M96.26 476.72h0M85.01 427.97h0M137.17 531.3h0M124.73 534.4h0M49.45 434.1h0M153.24 481.28h0M30.51 455.04h0M115.72 435.33h0M84.56 570.27h0M71.72 486.17h0M113.93 452.13h0M178.03 498.6h0M30.32 572.97h0M109.5 460.14h0M81.69 385.63h0M147.15 398.67h0M89.12 477.88h0M67.41 410.7h0M174.17 572.23h0M180.9 544.2h0M52.15 451.17h0M172.35 441.69h0M21.53 431.46h0M88.09 461.08h0M142.25 471.36h0M71.87 488.35h0M28.3 445.42h0M175.61 504.75h0M68.58 417.29h0M77.9 486.08h0M72.55 573.37h0M70.73 434.32h0M70.17 438.01h0M53.13 449.35h0M102.12 400.97h0M31.31 420.21h0M55.78 479.24h0M71.17 451.02h0M151.25 469.12h0M104.48 402.12h0M91.03 510.92h0M188.84 458.08h0M66.89 425.62h0M118.11 574h0M204.85 550.53h0M94.67 474.05h0M103.56 468.35h0M71.36 408.13h0M191.22 442.34h0M83.06 422.2h0M81.5 399.81h0M179.64 424.29h0M80.8 424.01h0M23.17 461.15h0M54.44 479.26h0M100.37 484.37h0M132.12 452.9h0M91.3 471.49h0M126.71 423.71h0M49.02 496.22h0M29.73 456.88h0M148.16 487.7h0M114.02 554.46h0M111.45 427h0M71.79 454.07h0M75.47 519.67h0M181.07 535.71h0M89.23 481.47h0M120.15 489.87h0M145.26 472.58h0M22.94 386.56h0M83.98 412.78h0M27.32 464.69h0M105.24 488.15h0M108.68 465.77h0M71.98 478.33h0M87.04 403.31h0M192 556.08h0M177.47 479.31h0M43.44 446.01h0M154.19 490.76h0M55.24 460.98h0M114.92 386.26h0M60.26 480.69h0M33.03 417.83h0M24.97 437.9h0M41.11 476.46h0M64.41 414.7h0M34.28 492.95h0M139.34 564.7h0M31.44 460.79h0M128.15 531.85h0M66.1 435.16h0M149.54 417.38h0M41.64 472.14h0M31.57 470.47h0M77.56 418.49h0M26.51 433.79h0M126.24 473.03h0M50.71 566.27h0M121.61 417.68h0M32.29 453.8h0M130.84 548.36h0M117.78 509.57h0M97.53 527.33h0M40.65 464.56h0M125.3 525.99h0M149.64 476.71h0M63.74 426.14h0M88.19 434.26h0M70.19 494.04h0M142.35 406.28h0M70.63 472.02h0M82.1 474.9h0M188.04 559.23h0M66.09 543.31h0M145.44 505.9h0M163.07 517.19h0M54.35 462.49h0M155.59 520.78h0M149.42 385.36h0M57.6 476.83h0M82.53 408.45h0M189.62 435.02h0M160.75 494.73h0M16.98 426.54h0M66.37 574.27h0M73.46 430.7h0M83.22 467.3h0M84.34 409.29h0M128.82 410.67h0M22.45 456.68h0M64.31 474.5h0M135.09 459.22h0M95.82 462.28h0M150.72 396.34h0M65.24 436.86h0M133.85 560.9h0M31.35 414.68h0M41.69 455.52h0M211.6 581.21h0M36.57 445.09h0M54.43 459.07h0M43.02 412.99h0M80.58 474.48h0M184.72 513.3h0M32.83 393.16h0M89.82 464.72h0M68.31 417.29h0M62.73 478.64h0M142.28 521.28h0M87.49 466.69h0M114.71 534.08h0M57.9 422.57h0M190.08 526.92h0M132.87 499.08h0M153.78 559.07h0M152.13 407.67h0M44.93 444.21h0M162.9 457.69h0M128.93 509.47h0M99.41 453.53h0M194.81 566.11h0M46.14 406.44h0M105.85 459.71h0M133.09 469.09h0M166.89 558.5h0M72.31 417.32h0M125.9 394.15h0M40.97 472.37h0M165.51 545.41h0M35.9 408.96h0M31.67 419.48h0M73.55 576.91h0M47.1 468.73h0M125.03 542.63h0M24.52 462.31h0M56.22 439.42h0M156.74 414.69h0M152.89 423.12h0M155.03 385.74h0M88.61 487.09h0M146.07 486.42h0M107 460.46h0M71.76 437.15h0M30.38 472.33h0M93.78 417.29h0M146.77 452.68h0M97.25 560.85h0M130.14 533.58h0M132.34 502.67h0M73.02 462.55h0M55.55 465.81h0M34.39 537.96h0M123.06 398.63h0M189.46 399.24h0M39.89 561.35h0M44.15 459.03h0M203.31 494.93h0M21.28 471.48h0M81.3 414.83h0M121.29 389.96h0M97.27 402.24h0M30.2 473.93h0M208.03 538.5h0M87.94 578.19h0M67.73 470.71h0M19.69 481.06h0M147.54 464.97h0M49.99 474.04h0M30.6 433.36h0M86.71 413.05h0M29.01 463.02h0M46.35 400.46h0M153.59 419.51h0M67.03 546.86h0M104.35 467.06h0M22.57 427.72h0M88.78 557.94h0M195.3 525.29h0M67.54 432.35h0M212.39 581.41h0M207.09 488.49h0M79.74 443.76h0M140.87 522.07h0M53.33 410.77h0M92.38 410.77h0M65.16 423.71h0M201.03 386.61h0M113.65 467.67h0M81.58 449.15h0M178.15 541.85h0M39.27 474.11h0M175.64 495.27h0M140.13 473.54h0M25.09 422.18h0M44.23 436.88h0M25.46 476.37h0M177.24 393.96h0M26.35 424.86h0M42.59 440.69h0M166.9 477.8h0M57.79 434.46h0M135.18 486.95h0M79.32 516.82h0M120.85 496.34h0M210.8 543.55h0M90.32 410.87h0M148.45 572.53h0M135.37 428.11h0M106.57 408.69h0M37.59 474.24h0M179.42 470.71h0M150.95 473.49h0M59.52 385.47h0M82.33 581.7h0M144.53 516.65h0M76.29 447.53h0M21.41 455.11h0M95.63 554.42h0M18.07 449.15h0M58.64 406.18h0M193.12 397.69h0M123.91 551h0M152.46 565.84h0M80.29 566.96h0M167.13 461.6h0M28.15 491.1h0M139.69 511.81h0M59.46 481.97h0M47.38 578.42h0M98.79 389.32h0M34.61 578.73h0M56 457.86h0M119.81 533.03h0M69.13 443.64h0M86.67 552.89h0M17.7 547.89h0M83.74 458.04h0M27.45 437.67h0M40.08 450.99h0M212.45 409.57h0M30.83 389.1h0M27.31 439.58h0M209.32 578.23h0M44.53 416.92h0M168.55 397.28h0M75.54 467.88h0M75.23 483.77h0M157.28 479.47h0M96.32 439.25h0M74.59 482.54h0M96.42 467.81h0M167.1 524h0M206.61 489.58h0M58.75 433.61h0M77.88 569.18h0M110.42 492.45h0M83.11 465.27h0M176.81 482.18h0M116.19 511.93h0M87.2 471.07h0M92.57 453.74h0M23.33 492.32h0M87.9 450.53h0M159.86 533.6h0M84.98 474.32h0M56.55 446.03h0M161.7 489.18h0M51.96 537.23h0M128.82 530.96h0M90.27 539.44h0M215.2 439.62h0M121.21 512.35h0M93.52 580.17h0M182.38 456.02h0M90.61 447.59h0M174.17 495.12h0M77.77 474.08h0M66.41 443.5h0M54.38 474.61h0M75.8 434.04h0M91.45 390.2h0M132.2 520.17h0M18.35 576.45h0M142.85 505.97h0M84.15 430.13h0M25.13 426.79h0M50.87 441.36h0M87.11 517.07h0M62.98 462.36h0M70.1 411.01h0M48.57 465.31h0M44.75 474.35h0M143.64 500.04h0M115.58 462.96h0M49.06 458.88h0M89.14 454.15h0M54.03 478.83h0M170.71 406.87h0M68.32 458.77h0M40.85 431.51h0M174.33 462.21h0M53.42 480.07h0M153.94 490.89h0M71.85 445.99h0M164.91 436.14h0M26.42 570.15h0M21.43 451.31h0M24.53 459.38h0M98.61 579.18h0M107.42 463.96h0M179.74 434.17h0M132.89 387.09h0M148.24 482h0M140.71 565.63h0M126.08 465.64h0M30.55 448.04h0M108.45 459.12h0M28.67 437.16h0M145.08 468.21h0M93.81 412.46h0M112.86 561.05h0M197.38 562.24h0M153.29 487.88h0M32.93 416.86h0M77.62 463.12h0M73.12 479.91h0M79.65 452.34h0M102.13 579.43h0M202.06 458.69h0M147.16 388.52h0M55.2 402.83h0M37.76 552.45h0M162.89 469.04h0M142.78 503.1h0M69.78 459.52h0M178.45 508.25h0M92.28 457.88h0M55.47 445.18h0M87.97 462.32h0M192.71 532.89h0M34.25 456.66h0M85.76 460.92h0M165.6 472.69h0M201.14 504.7h0M25.7 407.2h0M76.88 459.45h0M215.55 514.49h0M110.9 547.8h0M33.27 457.95h0M100.97 457.32h0M74.73 422.52h0M67.1 456.09h0M126.05 506.31h0M106.98 500.13h0M27.18 478.94h0M39.8 448.44h0M52.72 409.99h0M168 423.07h0M42.03 446.54h0M185.56 582.35h0M27.35 458.36h0M27.41 394.91h0M108.01 496.85h0M126.03 502.72h0M42.39 481.01h0M21.65 521.3h0M184.1 402.96h0M77.03 461.63h0M77.77 460.56h0M205.73 432.5h0M69.59 563.43h0" stroke="#6f6a18" stroke-width="1" stroke-linecap="square" fill="none"/>
<path d="M132.66 577.29h0M90.46 475h0M99.57 562.6h0M45.51 417.86h0M62.18 454.27h0M125.38 519.75h0M47.37 449.86h0M91.85 517.6h0M208.9 575.91h0M168.59 439.16h0M185.09 403.6h0M134.79 464.81h0M81.42 471.61h0M18.1 479.32h0M97.28 428.58h0M35.05 472.27h0M166.08 434.89h0M58.58 482.04h0M50.94 464.23h0M44.52 450.38h0M79.05 489.85h0M89.1 413.31h0M21.41 421.49h0M166.88 461.32h0M129.8 565.46h0M134.85 508.64h0M31.55 426.89h0M198.53 466.17h0M67.7 526.63h0M57.01 444.03h0M177.42 490.02h0M48.67 447.52h0M46.44 499.27h0M72.29 457.75h0M32.69 577.34h0M39.11 434.33h0M36.76 498.05h0M45.02 440.6h0M112.22 397.61h0M103.15 461.58h0M68.44 459.37h0M54.29 474.95h0M94.51 452.32h0M215.64 450.45h0M72.81 475.47h0M70.35 565.55h0M129.55 451.71h0M44.49 549.26h0M77.17 535.59h0M121.12 495.23h0M93.27 573.83h0M103.26 483.43h0M182.18 502.12h0M20.85 463.47h0M23.45 450.76h0M48.38 454.11h0M42.34 442.81h0M68.26 455.76h0M40.27 413.92h0M19.03 468.86h0M178.8 542.19h0M186.24 509.59h0M91.76 494.84h0M136.03 459.4h0M49 465.67h0M152.78 490.1h0M72.92 418.88h0M160.67 406.16h0M190.52 420.59h0M104.56 508.26h0M145.77 480.48h0M48.73 479.32h0M153.35 410.6h0M179.66 514.17h0M74.55 396.09h0M142.66 485.66h0M91.62 411.71h0M195.22 579.83h0M56.02 444.13h0M66.43 576.8h0M82.98 424.15h0M49.33 442.53h0M204.11 567.76h0M51.82 463.64h0M213.42 519.63h0M86.38 443.41h0M59.7 475.79h0M158.48 494.41h0M77.69 491.18h0M85.16 475.55h0M130.83 522.5h0M45.69 431.29h0M26.65 461.83h0M117.86 576.13h0M93.82 444.05h0M214.14 532.77h0M115.05 499.38h0M213.34 496.82h0M61.84 478.38h0M67.35 525.79h0M171.1 390.32h0M65.26 444.98h0M52.09 397.85h0M96.93 535.56h0M36.44 468.21h0M69.92 416.72h0M200.38 516.83h0M139.08 459.14h0M152.08 427.27h0M103.12 568.14h0M56.76 450.69h0M75.17 407.36h0M55.1 476.47h0M85.75 434.49h0M90.36 491.47h0M138.85 494.33h0M20.8 416.05h0M90.19 525.48h0M99.76 411.62h0M80.62 465.27h0M40 447.6h0M89.95 436.82h0M102.88 414.24h0M34.94 418.16h0M22.78 567.76h0M100.68 470.75h0M86.27 428.13h0M200.08 411.85h0M78.65 432.56h0M126.23 425.99h0M51.03 540.16h0M114.59 462.08h0M128.07 437.86h0M199.31 453.82h0M53.81 451.17h0M124.61 392.54h0M104.47 452.96h0M137.82 537.28h0M201.89 501.46h0M103.2 415.78h0M174.91 561.59h0M90.74 387.62h0M170.63 430.3h0M54.71 553.23h0M58.27 466.14h0M27.86 413.42h0M136.62 567.46h0M60.22 469.17h0M89.56 425.83h0M72.67 459.97h0M16.87 392.98h0M34.02 428.24h0M78.18 574.04h0M27.94 503.54h0M198.7 453.76h0M71.28 537.29h0M47.92 466h0M103 472.97h0M86.58 426.29h0M130.26 443.9h0M82.85 480.67h0M91.54 440.24h0M179.94 518.8h0M31.23 426.44h0M79.3 426.74h0M17.97 456.19h0M21.7 477.2h0M59.68 550.6h0M202.34 577.06h0M99.07 540.26h0M52.68 448.36h0M87.23 446.83h0M136.1 550.71h0M206.43 577.2h0M117 494.48h0M72.69 480.63h0M50.52 439.99h0M164.97 498.96h0M144.85 479.82h0M58.83 453.62h0M49.85 450.59h0M106.63 507.9h0M152.06 407.93h0M76.33 434.81h0M95.48 415.19h0M26.74 465.53h0M172.53 577.63h0M33.83 406.29h0M194.82 403.64h0M133.62 463.33h0M33.99 453.97h0M179.59 384.37h0M118.72 497.23h0M93.03 481.44h0M149.32 479.8h0M136.11 582.41h0M127.09 504.74h0M49.87 439.16h0M55.04 450.65h0M158.12 422.73h0M54.33 458.56h0M137.19 392.71h0M200.89 524.27h0M27.15 456.3h0M63.15 440.14h0M81.33 480.86h0M157.23 401.12h0M28.64 452.74h0M19.12 450.45h0M187.76 557.57h0M41.48 451.28h0M22.01 473.41h0M54.2 473.95h0M63.05 563.78h0M92.9 484.8h0M167.31 505.96h0M133.13 512.1h0M73.2 455.38h0M37.08 421.01h0M215.42 547h0M153.52 471.64h0M35.96 432.72h0M202.39 538.76h0M131.68 513.27h0M18.8 432.33h0M105.71 497.42h0M143.15 466.38h0M181.52 521.39h0M24.54 571.17h0M163.5 403.48h0M75.14 432.32h0M81.37 455.88h0M53.54 543.34h0M139.41 579.83h0M99.13 496.28h0M179.62 575.78h0M95.31 524.09h0M165.6 460.2h0M79.03 439.27h0M56.22 475.97h0M167.86 515.15h0M70.56 451.49h0M87.26 564.04h0M48.77 485.38h0M48.6 475.86h0M135.62 462.11h0M33.44 459.75h0M170.9 493.33h0M35.75 454.17h0M122.53 509.65h0M33.54 454.39h0M94.69 477.21h0M150.64 449.35h0M113.17 470.77h0M54.25 428.87h0M156.57 488.45h0M100.63 579.06h0M62.08 460.13h0M63.03 438.93h0M61.76 441.75h0M122.59 580.84h0M68.78 405.71h0M71.58 419.59h0M23.61 473.6h0M129 515.7h0M72.91 454.67h0M31.71 474.06h0M178.28 518.74h0M202.3 550.75h0M144.51 390.11h0M125.08 572.32h0M211.97 452.09h0M80.49 412.75h0M126.85 460.11h0M78.26 447.13h0M92.1 427.43h0M124.5 512.32h0M21.79 434.91h0M20.03 472.46h0M23.45 412.07h0M147.43 440.73h0M37.82 472.89h0M58.31 494.11h0M128.68 453.21h0M107.34 493.14h0M57.25 481.81h0M80.95 502.72h0M115.49 445.55h0M24.45 476.71h0M31.25 469.85h0M103.03 500.43h0M57.09 464.36h0M152.2 409.35h0M24.69 536.16h0M69.82 416.3h0M162.62 504.47h0M29.21 459.15h0M95.2 566.95h0M89.98 462.14h0M42.78 469.52h0M31.33 565.64h0M29.39 477.23h0M80.68 451.14h0M99.27 412.12h0M65.18 468.79h0M110.77 455.56h0M67.95 416.68h0M127.17 505.52h0M94.89 416.21h0M119.29 420.26h0M127.46 578.78h0M83.55 475.94h0M46.33 471.92h0M141.38 477.43h0M160.14 468.92h0M48.72 467.92h0M43.98 417.54h0M66.12 411.15h0M29.79 453.25h0M38.11 454.51h0M56.72 471.47h0M67.11 412.36h0M59.04 419.75h0M88.21 417.23h0M106.15 499.72h0M153.25 399.38h0M55.08 420.21h0M162.76 448.59h0M90.86 483.38h0M205.7 573.68h0M44.86 436.51h0M188.41 537.78h0M69.22 414.55h0M48.69 456.92h0M28.66 561.62h0M138.68 512.42h0M143.08 391.84h0M185.41 460.74h0M126.71 507.34h0M76.24 425.47h0M97.82 459.03h0M49.94 435.43h0M95.73 472.9h0M197.6 554.38h0M118.55 526.31h0M52.51 562.52h0M57.02 481.42h0M64.93 552.37h0M76.38 515.82h0M24.98 444.26h0M52.87 536.11h0M36.03 470.94h0M29.96 518.5h0M82.16 516.96h0M76.09 435.6h0M148.9 453.31h0M28.47 431.45h0M76.41 426.76h0M80.54 463.31h0M44.48 548.64h0M53.91 401h0M79.82 439.65h0M79.77 466.7h0M88.59 469.05h0M92.94 455.89h0M155.77 420.49h0M143.46 389.44h0M19.34 422.42h0M44.06 539.84h0M198.63 577.08h0M74.73 475.3h0M67.63 527.64h0M136.23 509.3h0M77.98 458.47h0M63.2 482.62h0M60.6 471.96h0M50.8 469.99h0M25.04 456.78h0M188.58 516.23h0M135.26 489.55h0M23.47 414.57h0M61.63 470.51h0M182.82 422.09h0M21.78 423.08h0M18.65 468.86h0M31.23 388.58h0M130.81 468h0M25.79 461.45h0M34.46 446.84h0M68.2 454.43h0M85.73 568.44h0M76.35 480.08h0M140.12 493.29h0M86.99 409.99h0M24.26 482.07h0M107.13 487.53h0M100.39 464.58h0M215.4 479.57h0M101.29 424.15h0M37.2 466.16h0" stroke="#a89c28" stroke-width="1" stroke-linecap="square" fill="none"/>
<path d="M39.15 445.62h0M62.34 421.1h0M121.87 502.76h0M159.93 484.85h0M124.03 492.04h0M37.86 455.49h0M131.18 481.52h0M57.64 472.42h0M108.28 463.01h0M33.54 418.11h0M93.17 453.59h0M106.18 489.52h0M159.71 491.59h0M166.01 505.79h0M65.37 454.2h0M81.4 479.23h0M49.34 464.38h0M157.46 484.43h0M151.58 493.82h0M166.15 480.17h0M169.89 499.58h0M86.37 453.25h0M110.39 457.09h0M146.79 571.96h0M115.04 388.1h0M154.57 486.27h0M57.03 441.66h0M113.32 449.56h0M64.32 479.37h0M49.68 413.9h0M24.95 457.96h0M46.36 449.65h0M124.7 573.61h0M45.65 412.41h0M111.44 500.56h0M63.66 475.6h0M140.72 468.42h0M54.65 456.07h0M56 480.52h0M40.61 454.63h0M158.72 486.87h0M76.22 450.46h0M80.62 453.4h0M127 468.61h0M50.17 423.76h0M73.95 480.83h0M93.29 477.79h0M162.05 495.74h0M109.42 468.34h0M188.6 568.18h0M33.4 412.26h0M106.11 481.7h0M63 479.66h0M203.88 453.95h0M134.05 503.71h0M160.01 488.8h0M157.59 489.39h0M49.8 457.15h0M49.56 445.31h0M82.72 477.97h0M100.3 487.42h0M150.37 479.08h0M119.35 456.54h0M118.89 464.23h0M146.21 485.83h0M61.74 441.64h0M47.28 435.43h0M82.94 438.26h0M85.7 451.9h0M45.91 462.23h0M65.76 484.9h0M151.28 505.31h0M42.59 477.76h0M38.19 456.66h0M109.93 462.69h0M82.09 456.99h0M172.37 574.08h0M55.44 477.9h0M75.3 445.3h0M212.29 534.49h0M33.44 472.24h0M149.2 488.98h0M81.86 450.86h0M210.25 569.12h0M155.65 484.52h0M138.66 458.58h0M129.74 508.2h0M174.14 397.64h0M44.19 475.27h0M111.1 457.02h0M114.69 461.73h0M146.03 516.8h0M135.57 467.45h0M42.4 422.99h0M48 479.47h0M179.35 502.93h0M123.36 458.95h0M142.53 505.55h0M107.15 491.99h0M25.47 418.13h0M83.73 440.07h0M86.41 451.78h0M141.82 463.71h0M51.31 468.43h0M105.64 457.1h0M166.03 488.23h0M173.32 501.63h0M100.02 452.53h0M74.5 451.16h0M121.08 467.32h0M17.67 443.75h0M119.51 493.78h0M113.11 505.32h0M64.86 475.99h0M32.06 459.21h0M43.83 451.22h0M37.01 441.33h0M131.41 466.67h0M28.72 477.4h0M185.5 432.87h0M107.62 497.42h0M144.61 503.96h0M79.54 519.84h0M72.24 476.49h0M38.69 466.17h0M40.13 453.69h0M45.19 450.94h0M43.83 453.79h0M85.93 446.03h0M132.63 471.02h0M84.82 445.41h0M64.33 477.99h0M79.59 440.23h0M153.94 472.73h0M152.3 512.97h0M122.55 510.68h0M110.82 458h0M59.88 427.51h0M107.81 453.65h0M85.21 453.19h0M62.28 447.62h0M19.33 455.47h0M117.96 469.03h0M19.83 454.51h0M76.7 444.52h0M124.29 463.74h0M76.83 477.99h0M156.56 476.7h0M80.03 484.22h0M127.57 508.03h0M167.55 486.25h0M141.61 481.2h0M123.62 500.59h0M136.71 520.9h0M115.52 470.91h0M72.09 483.26h0M110.03 497.13h0M105.55 463.03h0M113.91 508.04h0M28.33 454.35h0M90.85 415.3h0M20.73 523.25h0M45.46 471.21h0M53.92 428.57h0M107.62 456.82h0M68.91 447.36h0M163.6 499.49h0M208.87 440.02h0M21.85 476.94h0M19.37 418.59h0M168.82 491.41h0M17.39 447.04h0M156.89 480.1h0M30.41 474.87h0M85.92 485.18h0M41.16 457.08h0M155.65 549.03h0M78.31 476.9h0M56.11 458.45h0M90.33 454.72h0M108.82 454.6h0M87.63 486.12h0M17.53 457.49h0M151.22 510.65h0M64.52 448.74h0M119.74 460.51h0M138.59 502.55h0M50.64 458.37h0M135.53 468.48h0M123.96 467.37h0M126.45 461.28h0M123.44 460.15h0M99.81 448.08h0M72.93 475.39h0M114.18 474.05h0M57.31 478.6h0M119.73 464.57h0M122.05 442.15h0M70.21 460.23h0M43.57 416.52h0" stroke="#a030a0" stroke-width="1" stroke-linecap="square" fill="none"/>
<path d="M193.96 402.78h0M126.49 579.71h0M61.21 559.42h0M124.52 498.92h0M61.71 453.03h0M17.65 470.91h0M51.77 471.99h0M78.8 402.66h0M35.65 464.99h0M145.56 474.88h0M81.79 418.62h0M149.24 510.94h0M70.57 452.69h0M23.42 435.95h0M19.08 476.35h0M52.42 483.46h0M19.58 546.36h0M127.13 466.48h0M38.06 419.04h0M27.08 469.23h0M27.84 453.8h0M196.75 528.27h0M63.78 478.53h0M164.9 484.56h0M39.49 414.11h0M144.23 464.67h0M39 412.77h0M164.36 483.84h0M71.12 445.29h0M116.73 500.33h0M97 492.48h0M58.75 465.87h0M100.18 455.91h0M140.96 504.75h0M78.57 442.78h0M32.21 471.2h0M64.17 423.3h0M47.36 453.02h0M89.44 446.83h0M42.23 445.58h0M38.77 452.73h0M29.51 549.99h0M146.87 466.16h0M85.19 487.41h0M20.45 522.84h0M88.45 494.94h0M66.93 477.56h0M28.38 473.19h0M26.65 466.88h0M60.89 475.03h0M35.39 478.71h0M51.94 424.12h0M128.25 580.6h0M165.83 527.42h0M120.35 502.57h0M146.05 467.88h0M44.68 478.94h0M134.62 502.2h0M109.2 457.23h0M77.54 463.34h0M145.59 467.33h0M101.54 428.99h0M84.92 444.64h0M61.08 410.42h0M114.53 491.28h0M24.33 468.44h0M60.67 470.58h0M69.1 484.2h0M139.16 470.52h0M201.62 572.14h0M164.27 496.99h0M173.59 495.26h0M95.17 439.91h0M113.63 461.18h0M67.08 441.64h0M138.52 506.56h0M46.67 436.72h0M38.7 448.32h0M93.94 490.51h0M108.58 491.29h0M60.32 426.7h0M145.03 503.75h0M60.84 426.08h0M55.24 476.8h0M54.82 443.3h0M178.26 509.12h0M128.37 507.8h0M19.73 474.86h0M102.06 454.15h0M99.24 491.85h0M139.09 467.55h0M110.64 501.5h0M131.33 467.58h0M89.09 413.71h0M27.31 413h0M141.39 471.05h0M87.21 451.84h0M24.44 453.16h0M45.51 487.01h0M135.78 466.02h0M110.87 496.94h0M21.34 447.15h0M127.27 510.78h0M33.9 454.94h0M22.59 455.1h0M122.23 503.14h0M77.11 423.38h0M124.71 457.32h0M44.29 474.21h0M95.13 451.54h0" stroke="#d858d8" stroke-width="1.15" stroke-linecap="round" fill="none"/>
<path d="M45.35 407.32h0M133.3 473.99h0M191.01 528.91h0M46.89 481.11h0M184.01 571.7h0M32.66 473.2h0M100.1 457.31h0M154.22 486.38h0M186.53 544.15h0M154.62 574.06h0M61.81 423.01h0M196.03 550.98h0M175.97 400.75h0M173.87 450h0M196.94 544.23h0M127.3 539.81h0M117.79 495.57h0M204.24 522.9h0M31.06 431.74h0M172.84 562.23h0M148.19 412.32h0M153.76 468.45h0M143.04 543.26h0M153.67 579.21h0M27.44 409.71h0M67.54 416.35h0M133.31 489.1h0M212.86 413.61h0M176.97 548.19h0M43.13 455.61h0M127.91 508.7h0M114.12 384.56h0M69.53 528.89h0M152.86 536.37h0M32.04 413.21h0M58.42 571.88h0M43.03 546.96h0M184.06 384.25h0M71.44 393.5h0M118.43 421.64h0M192.83 545.32h0M162.56 473.53h0M163.89 577.99h0M115.67 427.64h0M84 396.24h0M158.01 561.96h0M152.54 571.07h0M151.02 467.4h0M100.42 519.59h0M163.91 484.27h0M202.27 449.35h0M199.97 434.99h0M71.53 384.65h0M201.57 420.27h0M33.36 403.07h0M105.68 430.46h0M150.95 532.6h0M40.75 551.07h0M131.85 448.78h0M117.71 429.9h0M214.1 404.24h0M132.83 568.82h0M205.08 404.93h0M57.15 386.16h0M53.5 445.96h0M17.77 563.14h0M201.05 405.53h0M209.3 423.13h0M211.03 479.87h0M93.91 563.66h0M24.2 550.54h0M162.5 545.92h0M48.24 562.13h0M173.02 406.78h0M88.3 557.44h0M192.49 404.7h0M95.18 542.48h0M51.83 531.73h0M37.8 454.9h0M145.14 495.69h0M137.79 484.68h0M184.9 532.04h0M173.74 487.92h0M204.88 532.23h0M142.3 521.64h0M110.17 550.83h0M58.84 507.68h0M45.42 389.25h0M154.64 509.91h0M29.71 501.29h0M179.94 561.09h0M178.44 509.97h0M73.87 403.76h0M38.51 510.44h0M81.7 414.78h0M164.48 417.61h0M132.03 408.96h0M64.02 421.98h0M94 390.65h0M164.27 564.41h0M165.9 467.63h0M192 537.78h0M141.82 403.36h0M107.32 507.47h0M201.99 420.29h0M24.2 491.92h0M204.06 487.12h0M124.43 526.5h0M181.82 487.61h0M58.47 519.95h0M58.85 409.6h0M208.7 454.1h0M41.55 549.65h0M143.61 514.96h0M186.89 395.24h0M172.86 411.81h0M196.78 541.28h0M124.13 555.44h0M109.86 495.74h0M172.89 391.86h0M54.46 567.08h0M173.85 564.77h0M141.52 522.35h0M58.95 516.5h0M36.8 419.94h0M198.78 514.26h0M100.66 447.21h0M40.29 544.99h0M105.58 386.71h0M20.14 526.91h0M53.95 393.87h0M187.1 528.97h0M18.87 386.83h0M173.3 571.75h0M156.76 548.39h0M102.01 560.46h0M189.43 497.6h0M85.73 400.81h0M109.34 424.97h0M174.38 475.29h0M170.49 430.19h0M193 487.65h0M54.3 422.13h0M119.68 413.52h0M91.15 405h0M120.13 387.99h0M33.27 394.04h0M207.79 435.03h0M173.32 524.97h0M27.71 412.69h0M151.5 443.3h0M23.78 568.32h0M141.83 473.82h0M74.28 562.06h0M75.1 578.45h0M84.54 411.76h0M121.55 420.84h0M178.16 450.54h0M190.39 436.83h0M89.76 416.4h0M166.34 396.07h0M52.95 404.31h0M120.82 523.59h0M171.37 570.16h0M192.86 559.77h0M145.65 407.83h0M125.48 550.84h0M73.36 580.22h0M163.17 405.62h0M151.2 506.42h0M119.79 530.77h0M111.32 539.95h0M41.97 557.02h0M130.59 466.98h0M160.71 442.13h0M77.19 412.72h0M34.12 566.83h0M198.08 386.03h0M215.57 486.77h0M91.22 463.6h0M179.21 417.84h0M181.23 485.8h0M142.18 503.8h0M143.46 392.31h0M115.82 493.89h0M36.55 417.8h0M50.36 436.9h0M159.79 427.91h0M73.12 431.05h0M118.85 491.77h0M94.31 401h0M80.58 515.65h0M78.64 428.91h0M71.71 389.78h0M86.64 465.92h0M66.11 552.23h0M52.41 550.79h0M86.16 384.09h0M73.67 392.44h0M26.04 432.5h0M205.21 468.19h0M118.62 568.41h0M149.44 502.92h0M54.43 491.86h0M75.66 420.82h0M201.29 417.39h0M164.55 448.84h0M182.3 431.49h0M153.72 416.43h0M160.68 384.46h0M173.43 468.48h0M49.38 442.69h0M140.14 545.16h0M138 442.95h0M193 389.43h0M132.35 466.68h0M95.59 406.61h0M214.04 527.35h0M128.81 537.97h0M135.05 426.27h0M101.5 560.56h0M50.08 532.09h0M136.94 403.71h0M67.34 422.3h0M153.55 459.61h0M185.03 462.11h0M31.72 449.36h0M207.32 581.15h0M170.24 557.33h0M143.08 456.05h0M168.73 530.92h0M86.2 410.86h0M87.75 537.86h0M145.77 423.01h0M136.38 399.67h0M123.96 500.89h0M88.85 580.62h0M116.62 494.28h0M89.47 413.58h0M200.25 416.12h0M64.95 579.19h0M28.56 496.06h0M167.9 511.67h0M59.77 497.12h0M189.84 437.03h0M72.92 449.81h0M58.42 559.55h0M188.67 420.14h0M75.91 388.76h0M18.48 565.13h0M38.99 454.19h0M45.11 582.37h0M64.58 423.35h0M172.84 564.51h0M210.24 384.09h0M138.73 518.53h0M111.59 427.88h0M121.98 488.06h0M66.72 404.34h0M175.7 534.75h0M130.31 395.38h0M71.33 448.31h0M196.23 534.4h0M104.26 481.56h0M152.09 494.01h0M40.14 427.78h0M36.87 401.44h0M71.12 542.16h0M176.53 501.61h0M135.44 419.72h0M176.18 482.95h0M172.9 572.93h0M183.24 442.27h0M80.12 495.34h0M81.25 551.15h0M109.17 528.67h0M39.39 548.6h0M85.95 533.07h0M61.88 567.71h0M209.39 452.35h0M30.44 495.06h0M131.79 454.05h0M112.31 413.53h0M57.15 409.17h0M116.61 560.95h0M113.94 541.16h0M212.5 392.1h0M97.74 401.4h0M166.37 510.41h0M185.15 540.28h0M150.67 532.12h0M203.37 563.77h0M176.47 501.27h0M172.94 557.02h0M122.56 571.95h0M172.82 541.68h0M181.18 464.66h0M183.27 451.41h0M38.64 545.4h0M70.61 523.29h0M180.61 420.5h0M88.82 428.47h0M194.75 462.3h0M117.6 580.42h0M86.81 403.96h0M194.73 516.36h0M105.11 574.32h0M142.54 458.62h0M197.4 482.93h0M127.69 472.91h0M92.43 575.35h0M71.9 416.08h0M208.65 436.95h0M106.33 550.32h0M181.35 496.52h0M166.82 518.7h0M209.38 509.92h0M116.68 553.26h0M97.05 497.96h0M173.74 550.57h0M195.73 531.61h0M191.72 410h0M138.64 438.59h0M183.73 448.54h0M127.19 544.41h0M82.58 496.91h0M117.18 468.17h0M133.94 428.88h0M176.87 575.01h0M156.85 423.01h0M156.35 577.34h0M180.41 409.41h0M197.74 525.09h0M103.64 529.5h0M133.26 459.23h0M173.26 476.09h0M123.06 398.01h0M213.28 429.37h0M24.19 393.58h0M20.23 534.42h0M118.67 404.93h0M199.23 384.35h0M180.3 483.79h0M74.59 462.82h0M125.44 453.98h0M76.93 535.47h0M120.26 474.48h0M175.35 565.38h0M102.45 558.47h0M212.09 513.92h0M193.24 566.98h0M37.5 548h0M123.9 570.36h0M153.49 521.2h0M66.12 435.02h0M144.81 501.42h0M98.1 520.98h0M35.5 569.24h0M22.72 548.66h0M54.46 563.79h0M35.95 579.26h0M175.24 440.61h0M189.92 393.95h0M164.92 495.8h0M58.93 400.42h0M176.76 571.88h0M96.72 518.91h0M215.82 474.67h0M80.73 464.81h0M21.17 458.24h0M27.95 430.48h0M63.75 456.71h0M157.93 512.63h0M173.19 430.2h0M97.54 467.55h0M204.42 498.6h0M151.32 415.89h0M169.42 550.01h0M157.09 576h0M140.97 522.39h0M175.47 543.34h0M174.3 429.87h0M129.21 411.38h0M160.96 427.83h0M68.57 415.18h0M174.92 445.46h0M118.99 413.97h0M170.12 457.79h0M143.52 439.28h0M197.89 409.54h0M76.39 397.53h0M208.63 394.08h0M55.2 574.4h0M131.18 385.97h0M195.85 573.16h0M197.87 465.52h0M176.87 580.84h0M180.15 452.54h0M191.75 411.55h0M151.51 513.61h0M125.77 474.49h0M176.52 573.57h0M194.92 477.43h0M207.66 522.25h0M23.55 501.37h0M102.16 402.26h0M173.82 454.79h0M176.38 427.44h0M102.99 459.56h0M56.8 443.89h0M149.82 412.38h0M128.43 541.99h0M206.92 485.45h0M183.68 567.81h0M104.82 401.06h0M151.65 412.15h0M56.24 415.95h0M185.91 528.72h0M127.06 515.65h0M62.04 395.35h0M126.39 567.18h0M103.1 422.26h0M93.48 402.42h0M41.36 388.23h0M38.99 416.11h0M150.63 576.65h0M52.45 414.17h0M136.38 450.89h0M207.92 573.85h0M79.65 458.77h0M174.49 540.58h0M71.43 567.37h0M167.46 413.54h0M197.41 500.5h0M39.26 557.11h0M115.03 527.39h0M204.56 582.28h0M177.73 534.7h0M143.53 458.75h0M23.23 478.91h0M159.84 528.85h0M49.24 568.77h0M66.46 565.33h0M138.74 576.95h0M198.71 544.05h0M208.33 567.44h0M212.24 411.8h0M57.37 408.55h0M205.82 509.94h0M101.61 576.55h0M52.32 549.36h0M182.1 578.97h0M70.49 413.31h0M140.82 513.8h0M169.09 428.1h0M117.62 450.57h0M159.45 485.42h0M102.96 515.35h0M55.27 517.06h0M153.26 522.56h0M39.1 447.92h0M103.88 384.62h0M188.94 510.48h0M159.47 406.8h0M17.32 392.31h0M215.17 447.18h0M172.26 486.76h0M157.84 546.63h0M147.06 518.32h0M208.32 488.23h0M53.15 415.27h0M186.55 449.8h0M92.19 386.1h0M75.15 423.7h0M80.77 391.14h0M78.65 466.69h0M39.72 579.99h0M70.25 538.2h0M27.44 459.51h0M175.97 404.7h0M90.7 555.11h0M87.9 450.59h0M88.52 463.82h0M162.79 389.62h0M126.34 410.54h0M125.46 506.5h0M138.54 390.5h0M181.6 487.42h0M190 580.67h0M162.52 429.16h0M173.26 474.54h0M116.5 389.18h0M178.52 402.66h0M182.16 493.67h0M41.6 538.41h0" stroke="#159a15" stroke-width="1" stroke-linecap="square" fill="none"/>
<path d="M81.14 413.89h0M123.4 456.6h0M24.07 470.11h0M101.21 548.28h0M141.65 572.3h0M211.17 393.16h0M90.82 492.79h0M57.65 519.16h0M155.91 432.43h0M168.98 497.82h0M155.17 502.06h0M214.52 547.3h0M149.86 388.39h0M39.94 395.62h0M179.88 555.66h0M46.68 418.93h0M113.25 501.02h0M190.89 542.52h0M37.23 510h0M58.21 416.17h0M16.65 413.97h0M46.21 434.05h0M109.47 480.09h0M121.88 413.04h0M155.35 435.81h0M170.45 489.78h0M22.38 389.45h0M213.52 573.75h0M172.51 533.03h0M161.05 417.7h0M211.97 514.56h0M100.11 409.96h0M100.43 566.34h0M120.93 387.62h0M17.38 542.78h0M161.13 494.53h0M104.94 505.67h0M154.66 473.83h0M184.01 411.16h0M60.36 573.26h0M213.88 549.39h0M119.36 451.32h0M160.52 387.77h0M173.72 577.07h0M24.49 538.76h0M130.32 523.14h0M29.88 555.42h0M126.83 568.12h0M121.61 431.3h0M26.64 424.01h0M167.97 441.54h0M85.76 387.51h0M162.7 493.45h0M202.87 405.03h0M115.25 549.82h0M157.45 510.33h0M190.1 517.2h0M75.01 475.24h0M78.29 454.79h0M111.2 483.85h0M17.59 436.42h0M24.9 388.37h0M159.3 558.66h0M141.63 529.79h0M152.7 521.73h0M29.76 530.37h0M211.06 482.1h0M77.27 496.77h0M151.27 441.72h0M109.54 407.46h0M211.54 570.03h0M180.01 576.36h0M156.78 429.9h0M21.55 384.61h0M76.78 411.87h0M196.28 441.52h0M215.66 501.03h0M73.52 569.9h0M204.08 493.09h0M41.97 477.77h0M76.56 494.7h0M106.28 411.65h0M84.75 402.01h0M98.87 466.18h0M188.57 426.83h0M185.74 557.43h0M66.12 405.58h0M169.02 474.82h0M145.25 444.29h0M143.41 522.78h0M121.12 499.78h0M136.39 385.98h0M207.72 512.04h0M157.04 445.01h0M200.98 428.99h0M78.72 546.92h0M115.41 421.14h0M149.19 572.51h0M59.04 577.55h0M165.34 390.24h0M91.12 449.84h0M41.26 575.6h0M180.34 547.32h0M169.4 391.98h0M139.56 436.02h0M142.95 571.42h0M93.63 433.81h0M180.58 537.53h0M32.35 423.13h0M29.5 390.63h0M211.96 559.53h0M90.93 530.63h0M184.12 565.68h0M59.98 457.2h0M125.83 396.48h0M126.24 510.97h0M155.19 465.37h0M206.57 446h0M89.1 423.1h0M97.56 559.41h0M197.92 401.6h0M117.14 412.9h0M48.54 540.12h0M185.28 548.74h0M96.27 486.86h0M126.23 508.56h0M132.72 468.54h0M103.96 388.55h0M107.94 419.6h0M42.2 469.5h0M118.28 392h0M162.78 538.49h0M80.19 391.22h0M203.23 519.02h0M131.67 455.52h0M133.36 515.84h0M23.33 413.59h0M118.78 561.93h0M146.76 388.33h0M134.01 424.49h0M43.46 570.09h0M172.48 463.81h0M105.04 570.21h0M196.67 392.65h0M63.97 395.51h0M126.4 570.96h0M51.41 445.41h0M193.85 539.56h0M106.78 428.82h0M208.95 427.04h0M103.74 527.96h0M85.33 412.1h0M198.84 571.63h0M57.46 447.34h0M116.99 553.15h0M85.71 523.99h0M188.44 401.97h0M211.49 384.77h0M175.4 420.58h0M73.15 426.59h0M155.54 540.34h0M33.77 560.52h0M69.05 563.06h0M192.78 430.33h0M166.97 533.59h0M184.74 414.63h0M81.68 487.71h0M36.89 575.22h0M212.68 541.92h0M55.7 510.73h0M154.8 483.4h0M152.04 511.44h0M158.73 509.07h0M40.99 579.61h0M71.28 463.36h0M100.42 522.71h0M121.65 427.42h0M143.02 477.17h0M179.26 476.96h0M69.9 458.68h0M53.65 384.44h0M65.42 443.9h0M147.33 433.61h0M63.16 538.23h0M194.76 540.57h0M154.67 489.42h0M192.52 494.25h0M44.37 481.92h0M84.08 555.2h0M121.34 537.09h0M74.97 548.45h0M147.05 541.34h0M125.3 393.78h0M173.36 495.65h0M202.72 394.76h0M203.49 578.88h0M36.94 512.03h0M19.7 384.85h0M209.19 401.42h0M49.68 555.06h0M151.5 412.71h0M145.13 509.09h0M211.41 549.16h0M73.06 384.23h0M189.21 480.58h0M67.22 391.43h0M29.39 502.8h0M207.21 517.04h0M60.79 391.58h0M196.52 563.73h0M37.61 448.29h0M112.53 417.41h0M151.65 386.41h0M189.34 560.58h0M111.77 508.78h0M45.44 557h0M83.27 417.26h0M196.6 406.6h0M194.98 516.75h0M73.65 435.15h0M214.11 582.32h0M60.1 497.48h0M170.15 525.37h0M34.02 504.88h0M178.35 499.79h0M162.63 465.03h0M114.86 386.97h0M17.52 487.24h0M189.09 447.71h0M123.69 388.01h0M22.59 403.08h0M159.52 392.88h0M116.4 439.49h0M171.44 451.2h0M198.52 545.93h0M66.28 467.82h0M122.39 397.67h0M69.57 518.77h0M200.83 507.41h0M103.03 572.93h0M119 437.26h0M46.18 408.54h0M97.62 441.22h0M146.22 423.9h0M125.82 505.72h0M92.97 500.33h0M188.37 431.32h0M104.29 396.23h0M163.81 414.62h0M137.64 459.36h0M185.92 483.21h0M183.64 574.5h0M115.72 566.86h0M94.23 455.01h0M205.52 518.38h0M191.95 575.64h0M141.08 581.93h0M193.61 467.57h0M118.56 484.27h0M77.73 521.21h0M184.44 500.44h0M122.53 582.13h0M40.82 415.07h0M138.77 544.25h0M170.18 448.08h0M132.64 453.26h0M207.85 471.3h0M115.36 572.7h0M113.14 541.5h0M74.54 495.53h0M93.45 464.06h0M181.19 453.73h0M84.65 414.89h0M70.34 549.9h0M183.28 543.92h0M58.07 572.95h0M106.82 409.93h0M195.89 500.71h0M137.81 426.15h0M93.29 514.62h0M88.64 483.37h0M171.06 559.39h0M162.9 525.56h0M48.89 423.28h0M165.59 548.65h0M163.81 548.9h0M143.66 492.03h0M87.91 465.73h0M105.29 569.95h0M192.92 412.11h0M179.11 492.89h0M182.25 406.66h0M57.74 395.89h0M156.43 472.97h0M110 456.06h0M128.94 405.53h0M146.66 433.88h0M80.41 457.16h0M197.01 571.75h0M47.99 443.45h0M34.47 391.84h0M119.16 467.64h0M85.98 422.75h0M112.41 512.59h0M105.76 400.84h0M125.84 406.22h0M35.53 489.42h0M127.02 428.94h0M118.88 500.89h0M126.33 525.96h0M28.07 431h0M152.23 548.04h0M163.53 572.37h0M132.47 406.48h0M176.18 420.73h0M205.69 386.64h0M152.03 461.94h0M134.03 392.58h0M109.82 498.62h0M17.79 499.04h0M108.16 580h0M150.33 438.11h0M190.55 570.5h0M86.44 493.39h0M112.56 456.92h0M106.91 472.47h0M50.27 397.09h0M84.46 567.04h0M71.58 435.1h0M70.02 523.93h0M84.59 411.07h0M191.08 511.11h0M81.72 532.87h0M151.92 451.05h0M25.66 508.41h0M135.75 435h0M82.2 402.48h0M169.5 401.77h0M136.49 449.67h0M158.39 535.65h0M170.58 578.2h0M120.9 570.96h0M34.52 389.46h0M85.2 543.05h0M196.67 405.33h0M204.93 508.57h0M68.88 470.14h0M36.04 417.45h0M192.37 578.65h0M174.47 520.96h0M62.76 469.48h0M214.06 446.82h0M113.73 410.9h0M153.2 413.31h0M192.61 529.3h0M69.34 397.6h0M97.94 494.56h0M153.75 513.74h0M159.65 463.28h0M210.51 460.85h0M201.21 434.53h0M81.25 512.37h0M92.1 525.48h0M124.83 428.28h0M197.71 477.99h0M194.78 556.41h0M182.44 546.47h0M120.51 473.92h0M215.29 522.07h0M89.73 487.41h0M84.38 459.67h0M139.74 457.78h0M89.78 525.55h0M90.81 516.22h0M167.28 459.33h0M150.21 531.1h0M112.82 394.79h0M190.38 412.83h0M17.8 580.45h0M127.35 485.48h0M187.33 435.01h0M123.59 458.21h0M132.95 456.61h0M199.83 494.46h0M122.84 465.2h0M105.26 558.46h0M144.01 393.63h0M75.37 425.85h0M199.53 425.03h0M47.46 395.16h0M211.93 461.73h0M144.31 428.3h0M215.13 570.66h0M135.74 491.39h0M26.58 450.13h0M164.55 419.46h0M173.65 502.3h0M118.91 403.23h0M40.03 476.9h0M117.6 456.84h0M62.29 533.01h0M22.76 462.08h0M194.08 400.66h0M178.96 451.9h0M200.12 386.04h0M151.89 413.97h0M211.11 582.16h0M173.54 434h0M56.06 474.93h0M197.59 520.14h0M174.63 384.79h0M107.78 450.58h0M184.92 507.01h0M177.46 407.9h0M48.93 488.71h0M204.94 474.27h0M161.86 532.96h0M144.45 439.74h0M174.78 452.93h0M191.46 416.14h0M78.78 394.54h0M209.31 575.17h0M204.68 423.13h0M38.21 435.63h0M79.33 414.13h0M127.96 517.22h0M88.89 566.3h0M142.2 435.53h0M69.52 432.28h0M86.3 420.82h0M43.22 451.24h0M180.87 438.18h0M176.46 455.41h0M44.26 438.58h0M38.63 428.52h0M123.64 389.96h0M161 500.18h0M30.83 478.9h0M152.66 524.73h0M54.45 463.99h0M163.28 486.52h0M199.95 527.54h0M160.49 509.18h0M77.54 392.7h0M195.77 543.83h0M37.87 414.49h0M214.02 565.15h0M117.83 425.51h0M184.29 410.51h0M193.04 480.22h0M65.11 563.97h0M134.43 409h0M133.3 510.41h0M30.06 527.93h0M96.36 517.67h0M146.05 521.48h0M197.77 503h0M180.79 509.92h0M143.88 566.65h0M158.1 421.06h0M175.94 399.33h0M107.88 408.18h0M185.95 552.55h0M211.63 536.74h0M104.64 524.35h0M86.05 448.39h0M183.38 581.56h0M66.37 465.89h0M171.05 560.8h0M154.08 576.23h0M73.88 564.12h0M159.26 580.65h0M155.1 444.32h0M19.5 455.77h0M114.99 576.65h0M169.95 419.26h0M176.61 517.24h0M133.59 515.35h0M130.12 428.28h0M186.51 409.76h0M160.62 411.41h0M89.59 487.88h0M61.24 422.45h0M63.4 389.74h0M108.27 525.35h0M112.17 418.45h0M40.18 397.4h0M203.26 494.19h0M187.58 405.78h0M108.46 529.29h0M79.94 424.72h0M40.46 579.56h0M18.77 513.71h0M110.33 531.1h0M116.05 504.16h0M89.89 563.36h0M135.77 563.14h0M23.76 471.18h0M140.41 426.92h0M16.63 504.68h0M128.58 525.39h0M40.62 574.8h0M70.2 571.17h0M198.91 404.6h0M177.44 513.8h0M130.26 419.99h0M195.99 430.12h0M148.8 536.36h0M59.44 436.79h0M103.74 418.77h0M133.95 423.33h0M161.22 438.06h0M51.12 522.24h0M209.91 413.44h0M80.41 466.88h0M27.56 400.58h0M161.84 451.83h0M201.74 495.3h0M154.64 460.48h0M38.1 509.93h0M101 489.89h0M27.69 505.01h0M108.63 423.2h0M120.49 456.03h0M171.14 405.02h0M112.97 434.12h0M202.73 506.91h0M103.76 400.94h0M43.51 405.08h0M122.6 549.52h0M169.06 468.55h0M65 577.08h0M110.82 574.03h0M109.32 526.25h0M84.13 433.19h0M214.02 413.43h0M51.04 531.96h0M179.81 436.78h0M86.93 459.09h0M178.63 434.24h0M183.95 410.46h0M172.5 556.83h0M66.29 403.86h0M175.35 429.05h0M164.3 423.35h0M78.69 557.64h0M149.24 425.24h0M88.69 567.59h0M101.07 503.6h0M100.36 485.93h0M165.75 431.03h0M165.92 525.46h0M215.42 450.71h0M77.03 416.09h0M55.09 446.68h0M113.51 571.73h0M134.58 412.66h0M156.38 576.14h0M101.34 453.88h0M46.96 555.73h0M200 463.75h0M174.25 501.2h0M204.91 493.12h0M21.93 448.15h0M89.04 561.86h0M201.83 510.97h0M68.54 457.55h0M198.56 491.04h0M180.31 415.75h0M55.09 395.72h0M135.58 578.09h0M103.19 461.61h0M210.84 581.68h0M187.88 565.77h0M119.21 385.02h0M149.99 497.19h0M153.72 447.17h0M138.35 415.4h0M33.99 538.38h0M67.74 529.09h0M96.57 572.76h0M165.9 412.71h0M213.57 491.44h0M194.62 390.74h0M53.53 411.06h0M122.82 553.84h0M127.04 464.44h0M110.33 481.94h0M127.02 535.36h0M93.34 492.74h0M128.81 572.41h0M150.11 455.54h0M209.77 432.45h0M18.56 493.87h0M151.77 525.68h0M134.09 547.78h0M69.9 558.94h0M209.2 464.43h0M67.44 412.06h0M133.89 543.11h0M131.08 495.32h0M19.61 395.45h0M167.44 431.99h0M35.05 478.82h0M136.98 419.87h0M82.69 401.56h0M65.31 414.65h0M197.94 524.29h0M145.75 415.03h0M17.31 428.18h0M83.36 436.82h0M96.47 520.76h0M199.95 403.76h0M110.97 411.99h0M160.7 453.08h0M144.97 572.33h0M91.08 485.39h0M100.06 515.93h0M118.41 458.48h0M59.03 473.76h0M70.97 396h0M176.92 429.49h0M175.18 530.44h0M195.05 552.65h0M101.75 422.13h0M40.38 563.37h0M135.24 434.65h0M82.96 519h0M136.57 485.29h0M171.64 551.32h0M104.38 581.31h0M58.95 384.33h0M90.13 469.9h0M90.22 406.64h0M149.09 472.63h0M174.04 474.8h0M152.59 518.23h0M154.88 435.33h0M138.78 418.02h0M129.54 533.62h0M209.88 547.34h0M161.71 437.09h0M104.3 548.94h0M188.48 424.26h0M21.79 450.81h0M140.99 407.92h0M65.98 522.07h0M59.9 573.57h0M191.17 454.86h0M162.53 514.71h0M47.31 566.51h0M173.45 423.23h0M112.74 458.82h0M103.77 384.28h0M173.32 518.72h0" stroke="#20e620" stroke-width="1.6" stroke-linecap="round" fill="none"/>
<path d="M114.56 462.57h0M87.33 483.95h0M27.74 457.39h0M47.79 451.42h0M26.25 459.06h0M158.97 487.05h0M153.17 483.77h0M151.58 479.66h0M110.27 500.24h0M121.62 461.58h0M98.92 495.55h0M82.01 487.96h0M53.24 472.93h0M145.86 484.97h0M161.34 489.23h0M160.75 483.42h0M169.84 501.46h0M166.78 489.58h0M134.23 505.11h0M136.79 506.96h0M50.28 479.36h0M36.63 469.82h0M44.06 457.07h0M78.87 445.21h0M136.75 510.26h0M95.82 488.57h0M134.13 463.07h0M152.4 510.63h0M114.91 497.18h0M44.05 480.45h0M105.9 453.84h0M162.08 487.63h0M68.63 477.91h0M74.43 442.72h0M44.4 455.11h0M153.17 483.33h0M130.25 467.5h0M25.2 472.34h0M113.69 505.28h0M101.44 449.74h0" stroke="#f0e4d0" stroke-width="1.3" stroke-linecap="round" fill="none"/>
</g>
<text x="19.6" y="393.4" font-size="8" fill="#fff">HeLa <tspan font-style="italic">MLKL</tspan>-KO</text>
<text x="19.6" y="403" font-size="8" fill="#fff">HA-RIP3+MLKL-Flag</text>
<rect x="174.2" y="502" width="6" height="6" fill="none" stroke="#fff" stroke-width="0.9" />
<line x1="176.3" y1="572" x2="201.5" y2="572" stroke="#b8b8b8" stroke-width="1.6" />
<rect x="217.2" y="384.2" width="98.9" height="98.9" fill="#000" />
<clipPath id="clipE0"><rect x="217.2" y="384.2" width="98.9" height="98.9"/></clipPath>
<rect x="318.4" y="384.2" width="98.9" height="98.9" fill="#000" />
<clipPath id="clipE1"><rect x="318.4" y="384.2" width="98.9" height="98.9"/></clipPath>
<rect x="217.2" y="484.2" width="98.9" height="98.9" fill="#000" />
<clipPath id="clipE2"><rect x="217.2" y="484.2" width="98.9" height="98.9"/></clipPath>
<rect x="318.4" y="484.2" width="98.9" height="98.9" fill="#000" />
<clipPath id="clipE3"><rect x="318.4" y="484.2" width="98.9" height="98.9"/></clipPath>
<g clip-path="url(#clipE0)"><ellipse cx="274.2" cy="440.2" rx="6.5" ry="5.2" fill="#0a7a0a" filter="url(#bl3)" opacity="0.8" transform="rotate(40 274.2 440.2)"/><circle cx="269.2" cy="433.2" r="2.2" fill="#0a5a0a" filter="url(#bl2)" opacity="0.7"/><ellipse cx="274.2" cy="440.2" rx="4.2" ry="3.2" fill="#12c812" filter="url(#bl2)" transform="rotate(40 274.2 440.2)"/><ellipse cx="274.6" cy="440.5" rx="2.3" ry="1.8" fill="#28ff28" filter="url(#bl1)" transform="rotate(35 274.2 440.2)"/></g>
<g clip-path="url(#clipE1)"><g filter="url(#bl1)" opacity="1"><path d="M360.5 422.33h0M362.95 424.86h0M355.72 415.19h0M376.63 437.44h0M358.69 408.42h0M362.89 409.84h0M370.07 430.38h0M354.34 409.54h0M359.69 416.33h0M361.67 426.87h0M365.86 424.4h0M369.36 432.3h0M385.01 442.98h0M371.82 435.05h0M366.29 420.99h0M366.43 420.62h0M378.9 441.7h0M362.71 414.7h0M378.57 443.16h0M371.02 428.49h0M353.62 418.21h0M375.35 436.34h0M361.91 414.41h0M356.6 414.17h0M359.5 414.26h0M373.09 432.97h0M359.33 423.56h0M373.11 441.81h0M355.99 419.63h0M377.52 435.82h0M359.99 421.09h0M362.82 421.39h0M355.4 411.26h0M367.88 431.78h0M375.37 442.17h0M377.2 440.09h0M378.46 438.22h0M359.22 409.26h0M365.13 414.16h0M368.87 430.32h0M357.81 410.05h0M372.29 438.18h0M369.36 431.09h0M374.67 434.51h0M371.12 425.24h0M363.49 417.82h0M354.96 412.68h0M357.57 413.57h0M370.94 430.54h0M381.09 439.01h0M370.9 431.95h0M361.67 411.06h0M372.97 432.9h0M366.46 431.32h0M363.94 420.04h0M368.08 421.99h0M371.95 429.67h0M375.32 443.6h0M379.36 437.8h0M376.97 433.41h0M367.89 432.85h0M373.5 431.76h0M382.91 439.99h0M364.28 418.86h0M366.51 423.22h0M377.25 435.39h0M367.44 429.7h0M362.76 422.1h0M363.58 418.06h0M372.34 433.83h0M375.98 437.53h0M375.33 443.06h0M355.43 418.01h0M379.7 438.47h0M368.88 430.36h0M370.04 421.6h0M374.75 432.71h0M357.07 415.61h0M357.01 418.43h0M365.19 430.72h0M378.43 442.9h0M356.24 409.71h0M370.52 432.3h0M376.14 436.29h0M371.29 425.45h0M361.37 417.92h0M367.04 431.85h0M373.68 425.1h0M372.97 435.38h0M362.41 415.48h0M373.68 435.42h0M362.48 417.86h0M370.37 427.39h0M375.66 435.48h0M377.97 439.51h0M362.06 420.42h0M359.28 419.68h0M377.65 435.26h0M372.39 435.49h0M372.66 433.69h0M366.36 412h0M374.69 441.33h0M367.4 417.25h0M366.14 422.5h0M369.01 424.81h0M355.97 409.25h0M376.03 438.55h0M375.57 437.17h0M366.96 421.66h0M375.1 431.59h0M380.27 442.45h0M366.98 431.33h0M365.72 430.18h0M367.9 430.69h0M377.53 436.86h0M379.4 437.48h0M370.24 431.87h0M366.97 425.91h0M376.42 441.89h0M372.03 435.23h0M375.25 434.04h0M371.14 421.63h0M360.24 418.59h0M368.07 418.63h0M366.09 427.01h0M371.62 429.57h0M376.14 435.95h0M359.66 414.73h0M362.86 420.41h0M375.49 436.3h0M362.23 420.86h0M363.84 426.01h0M369.11 428.74h0M368.54 428.13h0M372.12 434.71h0M360.43 412.19h0M376.52 442.04h0M379.89 450.05h0M378.42 440.87h0M372.99 435.12h0M371.5 439.75h0M354.69 415.84h0M356.58 413.7h0M379 439.92h0M367.71 423.21h0M372.43 433.47h0M360.88 413.61h0M366.39 426.07h0M360.99 420.43h0M380.74 442.33h0M359.32 410.4h0M372.61 437.88h0M364.47 428.28h0M353.65 404.69h0M355.19 416.63h0M365.58 424.51h0M373.4 427.18h0M373.44 431.31h0M367.62 432.66h0M372.36 425.82h0M365.14 415.62h0M375.44 433.12h0M380.34 436.83h0M374.34 432.55h0M375.2 434.83h0M369.15 425.31h0M369.47 429.54h0M377.28 439.2h0M368.38 430.22h0M368.51 422.44h0M372.99 425.51h0M352.16 407.04h0M360.61 418.43h0M358.91 416.71h0M364 415.82h0M371.02 425.75h0M376.6 439.28h0M353.08 409.17h0M357.47 410.06h0M368.23 428h0M376.25 432.32h0M361.82 422.89h0M363.16 425.47h0M368.02 432.45h0M364.32 419.44h0M358.48 414.42h0M368.24 419.77h0M362.63 410.45h0M359.11 410.1h0M368.83 425.1h0M371.98 425.33h0M371.54 424.46h0M372.82 432.22h0M366.55 425.54h0M370.18 429.21h0M369.57 432.49h0M365.36 431.26h0M374.84 427.15h0M373.35 435.49h0M378.03 435.86h0M363.33 425.48h0M365.82 426.32h0M374.49 436.71h0M384.18 439.71h0M357.88 411.34h0M364.63 422.78h0M369.47 428.12h0M368.19 431h0M362.39 422.14h0M363.32 415.73h0M360.35 415.09h0M370.71 428.55h0M365.26 428.54h0M359.5 415.06h0M358.77 418.92h0M375.59 441.65h0M358.1 411.73h0M354.12 410.8h0M370.62 436.95h0M357.71 415.66h0M355.5 416.07h0M371.94 434.26h0M363.46 418.82h0M356.95 409.8h0M383.42 438.23h0M366.6 421.92h0M357.75 423.72h0M377.3 442.18h0M362.27 423.68h0M365.77 425.65h0M369.86 435.01h0M371 432.41h0M376.81 439.71h0M364.43 425.77h0M376.22 438.09h0M351.95 410h0M360.85 414.22h0M380.68 441.71h0M358.39 410.19h0M361.88 422.06h0M368.19 424.24h0M367.3 419.89h0M363.05 424.98h0M374.99 431.86h0M372.91 432.71h0M377.89 431.71h0M376.75 439.23h0M373.56 430.67h0M368.11 427.02h0M378.51 444.05h0M358.01 417.17h0M381.3 443.01h0M354.98 409.36h0M362.15 416.44h0M370.12 428.66h0M358.37 414.63h0M360.04 413.65h0M361.37 418.83h0M359.32 412.73h0M369.87 425.02h0" stroke="#7c087c" stroke-width="2.2" stroke-linecap="round" fill="none"/><path d="M365.58 418.14h0M360.22 422.06h0M367.96 428.38h0M378.83 440h0M367.46 429.05h0M378.46 441.81h0M354.1 412.04h0M374.4 434.89h0M360.82 418.58h0M364 419.11h0M372.81 432.46h0M370.86 431.92h0M356.97 408.15h0M376.76 438.73h0M374.87 436.09h0M369.83 426.72h0M375.25 442.06h0M367 425.37h0M376.2 440.33h0M370.72 431.98h0M363.53 423.06h0M360.87 422.8h0M364.63 423.16h0M361.22 426.16h0M375.53 438.02h0M365.05 423.22h0M369.48 430.38h0M379.59 441.79h0M370.48 433.58h0M368.69 431.13h0M365.04 423.78h0M360.85 417.12h0M375.54 440.5h0M364.66 422.35h0M361.76 418.2h0M373.77 436.31h0M375.19 438.03h0M362.22 420.38h0M369.72 427.23h0M363.97 425.89h0M375.07 434.8h0M364.01 423.21h0M364.36 420.4h0M373.49 434.99h0M355.26 413.52h0M373.08 434.02h0M369.28 425.37h0M372.49 434.33h0M375.69 439.89h0M370.06 430.57h0M376.28 442.53h0M377.23 442.52h0M371.41 432.94h0M359.69 418.92h0M365.77 422.24h0M370.85 430.61h0M361.23 415.22h0M368.35 429.69h0M380.75 440.41h0M373 433.79h0M364.31 420.85h0M370.51 429.6h0M369.77 430.03h0M364.78 417.69h0M370.92 435.68h0M371.88 437.17h0M376.31 437.61h0M368.63 428.75h0M370.87 432.41h0M361.16 420.17h0M374.11 433.3h0M361.97 416.2h0M365.43 428.75h0M372.72 431.09h0M371.37 427.79h0M374.63 440.03h0M371.6 429.14h0M365.29 430.73h0M366.75 423.67h0M376.96 437.9h0M373.15 438.23h0M358.98 415.5h0M367.85 428.79h0M371.38 434.04h0M362.63 423.04h0M361.53 411.58h0M373.3 431.99h0M375.68 440.47h0M370.47 429.93h0M376.46 438.72h0M379.68 441.79h0M363.21 422.58h0M377.85 438.5h0M364.41 423.57h0M357.7 411.69h0M372.76 426.3h0M368.03 428.95h0M378.67 440.25h0M374.63 440.11h0M364.62 413.71h0M360.3 417.92h0M377.61 439.99h0M371.9 438.75h0M376.34 438.48h0M374.53 433.55h0M358.1 415.98h0M373.42 435.8h0M360.3 417.17h0M363.3 421.18h0M370.53 432.61h0M377.09 439.83h0M375.8 435.37h0M364.69 426.1h0M355.69 412.31h0M362.57 419.69h0M363.21 420.19h0M361.91 421h0M377.63 440.18h0M367.38 425.39h0M376.73 441.16h0M368.51 428.73h0M372.32 431.04h0M369.93 426.27h0M369.8 428.65h0M375.84 438.9h0M359.04 421.04h0M375.07 435.7h0M368.44 430.34h0M370.6 428.85h0M369.86 433.24h0M360.73 418.32h0M366.39 429h0M362.82 420.15h0M375.34 439.57h0M374.92 438.14h0M365.3 422.8h0M369.64 431.82h0M373.13 432.82h0M360.28 418.81h0M374.14 431.37h0M355.89 414.7h0M361.97 419.17h0M368.39 422.77h0M356.75 417.64h0M356.92 416.71h0M358.35 417.65h0M366.92 426.22h0M379.56 440.17h0M361.74 422h0M358.03 421.11h0M362.43 428.42h0M372.57 432.19h0M373.22 433.5h0M374.28 432.44h0M375.18 440.33h0M373.68 440.77h0M360.77 420.17h0M370.03 430.91h0M359.89 419.52h0M369.74 426.59h0M376.91 440.92h0M357.05 412.63h0M364.03 421.33h0M359.4 423.34h0M372.95 436.56h0M361.41 416.47h0M373.62 432.5h0M355.35 413.76h0M359.14 413.54h0M373.78 436.44h0M365.82 425.56h0M359.4 416.77h0M361.82 423.46h0M359.01 415.17h0M372.87 434.29h0M360.62 421.67h0M363.32 427.76h0M361.26 421.19h0M361.82 419.35h0M368.25 431.01h0M378.07 445.06h0M378.22 443.55h0M375.54 432.41h0M361.38 419.3h0M366.08 426.5h0M364.53 426.56h0M364.02 422.9h0M369.02 429.89h0M363.41 420.96h0M367.84 427.86h0M370.2 433.54h0M354.88 413.36h0M356.89 414.2h0M366.42 427.17h0M364.13 423.25h0M366.47 422.08h0M362.02 419.78h0M364.19 424.43h0M361.21 422.06h0M372.66 434.74h0" stroke="#c80cc8" stroke-width="2" stroke-linecap="round" fill="none"/><path d="M365.49 425.98h0M375.44 436.29h0M376.88 439.27h0M367.8 429.07h0M378.12 441.5h0M362.15 419.95h0M356.86 414.15h0M361.23 420.97h0M368.07 428.41h0M375.64 436.83h0M365.53 423.26h0M371.89 432.44h0M377.73 440.09h0M369.19 431.38h0M364.97 426.07h0M368.75 429.68h0M364.96 424.32h0M360.72 417.97h0M359.75 416.71h0M367.17 425.55h0M362.46 417.32h0M358.86 417.04h0M372.81 437.06h0M362.75 420.38h0M364.72 421.56h0M373.75 436.51h0M370.87 432.31h0M374.83 436.88h0M371.53 433.24h0M356.04 413.56h0M378.61 441.93h0M365.67 425.07h0M377.16 439.77h0M372.57 434h0M363.26 419.02h0M360.14 417.87h0M367.91 429.26h0M364.7 421h0M362.51 422.99h0M374.4 435.1h0M370.24 432.77h0M361.01 418.82h0M376.83 440.95h0M360.17 417.85h0M370.21 430.89h0M363.55 422.99h0M365.24 424.67h0M359.79 415.61h0M359.87 417.58h0M378.74 443.44h0M366.12 428.5h0M367.06 425.62h0M370.62 431.7h0M379.07 437.52h0M367.65 425.07h0M361.99 419.28h0M361.06 418.06h0M372.73 436.01h0M358.64 417.14h0M356.23 414.39h0M373.87 434.94h0M374.98 434.73h0M379.89 442.67h0M365.8 424.61h0M377.65 439.34h0M361.7 421.2h0M371.56 431.39h0M370.32 432.4h0M376.07 439.42h0M364.59 422.82h0M371.51 434.18h0M361.85 419.57h0M364.82 423.99h0M367.33 428.57h0M369.4 428.81h0M375.04 439.86h0M361.07 417.26h0M377.63 441.59h0M372.55 434.32h0M372.45 432.54h0M359.66 421.75h0M360.18 417.7h0M371.26 433.26h0M376.78 437.44h0M367.65 427.93h0M374.48 436.16h0M370.51 432.98h0M361.44 419.89h0M369.69 428.7h0M365.8 425.81h0M377.45 440.66h0M377.99 440.54h0M373.84 434.37h0M377.62 440.17h0M368.01 429.66h0M372.78 431.34h0M370.9 435.86h0M360.2 415.01h0M363.3 420.19h0M369.18 428.49h0M363.26 421.7h0M369.39 428.37h0M363.34 419.11h0M371.45 434.7h0M374.61 436.85h0M360.74 417.34h0M375.69 437.49h0M360.02 420.6h0M370.7 430.96h0M378.33 442.63h0" stroke="#ff28ff" stroke-width="1.7" stroke-linecap="round" fill="none"/><path d="M388.43 387.23h0M386.1 387.73h0M383.84 385.33h0M382.77 386.53h0M382.46 386.26h0M380.1 386.87h0M385.17 386.05h0M383.04 387.09h0M385.6 385.85h0M388.88 386.09h0M382.95 386.13h0M389.77 385.29h0M384.11 386.9h0M383.07 386.91h0M387.4 387.22h0M378.63 386.72h0M381.15 386.28h0M376.06 385.37h0M381.29 387.51h0M384.83 387.56h0M382.86 388.77h0M382.84 388.64h0M382.69 386.98h0M387.57 385.92h0M384.2 387.64h0M383.19 385.41h0M381.91 385.91h0M376.29 386.82h0M382.96 387.87h0M383.17 386.39h0M382.82 385.71h0M386.51 386.04h0M381.59 385.99h0M387.32 388.37h0M380.7 386.42h0M390.45 387.44h0M387.23 386.1h0M380.45 387.25h0M382.84 386.64h0M391.26 387.83h0" stroke="#8a0c8a" stroke-width="1.6" stroke-linecap="round" fill="none"/></g></g>
<g clip-path="url(#clipE2)"><g filter="url(#bl1)" opacity="1"><path d="M259.73 517.19h0M259.29 521.5h0M253.58 513.84h0M273.62 543.05h0M258.36 506.78h0M258.67 521.7h0M265.97 533.16h0M261.45 522.4h0M263.1 518.95h0M259.39 515.98h0M271.26 528.19h0M268.86 528.93h0M276.05 540.19h0M257.66 519.54h0M264.15 517.25h0M267.42 524.54h0M267.88 523.35h0M263.79 517.59h0M266.24 521.68h0M258.43 519.04h0M269.61 527.86h0M270.45 535.85h0M275.7 540.82h0M266.32 514.48h0M269.05 529.31h0M259.45 531.08h0M264.01 519.65h0M266.35 522.24h0M266.78 518.87h0M257.76 513.48h0M269.06 535.13h0M260.9 527.26h0M259.91 523.98h0M260.12 524.16h0M271.52 523.15h0M257.5 519.78h0M263.56 522.59h0M261.12 525.14h0M263.18 515.84h0M253.23 526.76h0M253.45 514.78h0M259.6 518.37h0M258.45 517.15h0M257.66 520.78h0M269.71 528.66h0M264.57 516.46h0M270.85 535.33h0M271.84 519.91h0M259.7 527.78h0M276.04 537.2h0M259.07 516.94h0M277.24 536.7h0M275.62 535.41h0M257.55 509.81h0M269.16 526.45h0M269.5 533.08h0M260.01 526.89h0M269.71 526h0M261.05 520.09h0M259 530.38h0M266 519.34h0M254.63 518.88h0M266.85 517.31h0M259.12 522.4h0M268.03 518.56h0M257.11 525.42h0M263.07 518.17h0M264.46 524.4h0M259.59 525.25h0M258.6 524.24h0M269.38 531.24h0M270.42 530.62h0M262.46 515.25h0M271.1 523.78h0M262.18 516.33h0M251.52 516.51h0M270.62 533.68h0M267.87 531.72h0M261.3 515.54h0M261.89 522.79h0M274.58 537.18h0M270.61 532.26h0M268.88 525.62h0M271.62 515.07h0M255.78 528.48h0M272.24 529.14h0M263.2 521.55h0M263.11 524.2h0M266.79 524.26h0M262.39 524.01h0M265.11 518.93h0M273.39 537.81h0M270.43 531.46h0M274.04 532.17h0M263.98 517.72h0M258.09 525.64h0M270.8 533.64h0M265.31 520.07h0M276.75 538h0M261.07 519.85h0M271.09 531.09h0M264.23 521.13h0M270.15 520.01h0M273.8 538.1h0M265.45 525.41h0M260.15 520.72h0M270.85 533.1h0M251.66 516.71h0M265.77 523.36h0M259.97 511.22h0M278.8 538.98h0M266.09 527.63h0M258.39 516.93h0M264.62 527.89h0M270.28 526.17h0M271.53 528.17h0M257.19 520.01h0M275.3 538.51h0M276.87 539.35h0M262.74 521.3h0M268.51 529.81h0M260.9 516.58h0M265.31 518.94h0M263.09 525.49h0M271.05 534.33h0M259.71 520.24h0M269.84 531.21h0M262.18 514.48h0M275.06 536.13h0M264.16 524.96h0M268.85 535.32h0M273.27 534.88h0M271.32 530.33h0M256.9 516.88h0M263.52 520.06h0M261.97 521.75h0M270.31 532.56h0M273.51 543.53h0M260.75 510.82h0M267.76 525.46h0M275.79 536.78h0M265.88 523h0M269.4 529.64h0M262.18 523.2h0M257.55 519.82h0M263.63 515.58h0M268.97 529.01h0M263.9 511.18h0M265.4 523.88h0M260.95 527.86h0" stroke="#5e5600" stroke-width="2.2" stroke-linecap="round" fill="none"/><path d="M270.57 533.32h0M264.49 526.81h0M269.47 528.28h0M262.73 520.99h0M271.52 531.84h0M271.92 534.09h0M264.41 519.48h0M261.4 523.91h0M257.29 520h0M257.58 524.73h0M258.24 521.31h0M258.19 525.74h0M267.46 516.59h0M266.88 530.96h0M264.14 523.99h0M260.08 518.2h0M272.69 533.66h0M258.21 517.75h0M272.75 535.42h0M261.2 523.61h0M260.35 519.55h0M257.15 519.76h0M270.69 532.74h0M271.86 530.13h0M264.8 516.89h0M254.43 516.41h0M259.06 519.51h0M272.29 535.9h0M264.61 513.9h0M274.77 538.24h0M275.1 538.21h0M271.42 535.53h0M258.77 518.97h0M275.84 535.05h0M266.06 521.19h0M268.14 518.43h0M263.63 524.02h0M275.65 540.59h0M270.99 528.39h0M272.71 538.47h0M258.55 519.37h0M263.58 519.49h0M269.62 530.24h0M272.42 536.27h0M258.78 515.05h0M273.88 532h0M265.95 517.8h0M274.13 539.33h0M260.84 519.27h0M270.99 535.96h0M263.02 523.46h0M261.13 520.34h0M259.29 522.48h0M272.62 537.5h0M253.72 520.6h0M257.26 521.31h0M271.3 533.67h0M266.96 531.16h0M263.73 524.58h0M264.07 522.69h0M260.72 513.82h0M262.19 514.32h0M271.88 534.91h0M268.13 517.2h0M263.99 520.36h0M273.14 535.36h0M261.58 515.75h0M259.85 514.93h0M261.29 517.47h0M261.12 519.3h0" stroke="#9a8e00" stroke-width="1.8" stroke-linecap="round" fill="none"/><path d="M262.34 519.52h0M259.09 518.48h0M264.7 516.52h0M257.02 518.53h0M257.44 526.08h0M261.69 519.95h0M261.07 524.11h0M257.74 518.03h0M256.17 521.92h0M260 523.5h0M259.52 515.04h0M258.49 520.6h0M258.2 518.96h0M258.44 516.03h0M258.83 523.07h0M257.59 519.15h0" stroke="#d8cc10" stroke-width="1.5" stroke-linecap="round" fill="none"/><path d="M220.4 576.2h0M223.28 569.49h0M224.14 580.66h0M222.06 575.21h0M217.39 575.47h0M218.79 561.28h0M220.52 571.9h0M222.55 577.8h0M218.23 567.74h0M228.05 576.87h0M220.64 571.1h0M221.33 582.02h0M217.52 576.06h0M219.34 578.84h0M227.42 565.93h0M220.11 564.23h0M222.12 578.63h0M220.5 567.54h0M221.34 575.41h0M218.8 568.19h0M217.31 571.17h0M217.26 568.93h0M221.85 578.76h0M219.36 582.6h0M217.88 575.17h0M218.64 561.18h0M217.99 571.49h0M221.8 581.14h0M219.99 572.06h0M221.83 574.76h0M218.96 567.19h0M219.16 580.57h0M220.7 576.83h0M229.29 577.84h0M226.18 573.58h0M221.26 570.87h0M220.21 579.53h0M219.39 570.13h0M219.05 575.24h0M217.76 574.61h0M218.06 582.54h0M221.33 573.66h0M219.25 576.75h0M223.69 567.96h0M217.2 577.37h0M218.45 580.43h0M218.99 568.81h0M217.62 572.61h0M217.52 580.98h0M220.52 566.81h0M218.7 569.38h0M218.34 575.25h0M219.23 578.63h0M220.62 581.73h0M224.03 577.12h0M222.16 577.75h0M220.03 582.48h0M218.15 570.67h0M223.26 564.19h0M219.54 574.86h0M224.01 575.93h0M222.38 576.14h0M218.98 575.58h0M217.96 576.95h0M223.21 570.73h0M217.76 574.53h0M218.05 568.8h0M223.1 578.95h0M224.29 576.38h0M222.3 579.8h0" stroke="#6a6000" stroke-width="1.7" stroke-linecap="round" fill="none"/><path d="M220.4 576.2h0M223.28 569.49h0M224.14 580.66h0M222.06 575.21h0M217.39 575.47h0M218.79 561.28h0M220.52 571.9h0M222.55 577.8h0M218.23 567.74h0M228.05 576.87h0M220.64 571.1h0M221.33 582.02h0M217.52 576.06h0M219.34 578.84h0M227.42 565.93h0M220.11 564.23h0M222.12 578.63h0M220.5 567.54h0" stroke="#b0a408" stroke-width="1.3" stroke-linecap="round" fill="none"/></g><circle cx="258.8" cy="514.6" r="3.2" fill="#f4ec20" filter="url(#bl1)" opacity="1"/><circle cx="259" cy="514.6" r="1.9" fill="#ffff50" filter="url(#bl1)" opacity="1"/></g>
<g clip-path="url(#clipE3)" style="isolation:isolate"><g filter="url(#bl1)" opacity="1"><path d="M360.5 522.33h0M362.95 524.86h0M355.72 515.19h0M376.63 537.44h0M358.69 508.42h0M362.89 509.84h0M370.07 530.38h0M354.34 509.54h0M359.69 516.33h0M361.67 526.87h0M365.86 524.4h0M369.36 532.3h0M385.01 542.98h0M371.82 535.05h0M366.29 520.99h0M366.43 520.62h0M378.9 541.7h0M362.71 514.7h0M378.57 543.16h0M371.02 528.49h0M353.62 518.21h0M375.35 536.34h0M361.91 514.41h0M356.6 514.17h0M359.5 514.26h0M373.09 532.97h0M359.33 523.56h0M373.11 541.81h0M355.99 519.63h0M377.52 535.82h0M359.99 521.09h0M362.82 521.39h0M355.4 511.26h0M367.88 531.78h0M375.37 542.17h0M377.2 540.09h0M378.46 538.22h0M359.22 509.26h0M365.13 514.16h0M368.87 530.32h0M357.81 510.05h0M372.29 538.18h0M369.36 531.09h0M374.67 534.51h0M371.12 525.24h0M363.49 517.82h0M354.96 512.68h0M357.57 513.57h0M370.94 530.54h0M381.09 539.01h0M370.9 531.95h0M361.67 511.06h0M372.97 532.9h0M366.46 531.32h0M363.94 520.04h0M368.08 521.99h0M371.95 529.67h0M375.32 543.6h0M379.36 537.8h0M376.97 533.41h0M367.89 532.85h0M373.5 531.76h0M382.91 539.99h0M364.28 518.86h0M366.51 523.22h0M377.25 535.39h0M367.44 529.7h0M362.76 522.1h0M363.58 518.06h0M372.34 533.83h0M375.98 537.53h0M375.33 543.06h0M355.43 518.01h0M379.7 538.47h0M368.88 530.36h0M370.04 521.6h0M374.75 532.71h0M357.07 515.61h0M357.01 518.43h0M365.19 530.72h0M378.43 542.9h0M356.24 509.71h0M370.52 532.3h0M376.14 536.29h0M371.29 525.45h0M361.37 517.92h0M367.04 531.85h0M373.68 525.1h0M372.97 535.38h0M362.41 515.48h0M373.68 535.42h0M362.48 517.86h0M370.37 527.39h0M375.66 535.48h0M377.97 539.51h0M362.06 520.42h0M359.28 519.68h0M377.65 535.26h0M372.39 535.49h0M372.66 533.69h0M366.36 512h0M374.69 541.33h0M367.4 517.25h0M366.14 522.5h0M369.01 524.81h0M355.97 509.25h0M376.03 538.55h0M375.57 537.17h0M366.96 521.66h0M375.1 531.59h0M380.27 542.45h0M366.98 531.33h0M365.72 530.18h0M367.9 530.69h0M377.53 536.86h0M379.4 537.48h0M370.24 531.87h0M366.97 525.91h0M376.42 541.89h0M372.03 535.23h0M375.25 534.04h0M371.14 521.63h0M360.24 518.59h0M368.07 518.63h0M366.09 527.01h0M371.62 529.57h0M376.14 535.95h0M359.66 514.73h0M362.86 520.41h0M375.49 536.3h0M362.23 520.86h0M363.84 526.01h0M369.11 528.74h0M368.54 528.13h0M372.12 534.71h0M360.43 512.19h0M376.52 542.04h0M379.89 550.05h0M378.42 540.87h0M372.99 535.12h0M371.5 539.75h0M354.69 515.84h0M356.58 513.7h0M379 539.92h0M367.71 523.21h0M372.43 533.47h0M360.88 513.61h0M366.39 526.07h0M360.99 520.43h0M380.74 542.33h0M359.32 510.4h0M372.61 537.88h0M364.47 528.28h0M353.65 504.69h0M355.19 516.63h0M365.58 524.51h0M373.4 527.18h0M373.44 531.31h0M367.62 532.66h0M372.36 525.82h0M365.14 515.62h0M375.44 533.12h0M380.34 536.83h0M374.34 532.55h0M375.2 534.83h0M369.15 525.31h0M369.47 529.54h0M377.28 539.2h0M368.38 530.22h0M368.51 522.44h0M372.99 525.51h0M352.16 507.04h0M360.61 518.43h0M358.91 516.71h0M364 515.82h0M371.02 525.75h0M376.6 539.28h0M353.08 509.17h0M357.47 510.06h0M368.23 528h0M376.25 532.32h0M361.82 522.89h0M363.16 525.47h0M368.02 532.45h0M364.32 519.44h0M358.48 514.42h0M368.24 519.77h0M362.63 510.45h0M359.11 510.1h0M368.83 525.1h0M371.98 525.33h0M371.54 524.46h0M372.82 532.22h0M366.55 525.54h0M370.18 529.21h0M369.57 532.49h0M365.36 531.26h0M374.84 527.15h0M373.35 535.49h0M378.03 535.86h0M363.33 525.48h0M365.82 526.32h0M374.49 536.71h0M384.18 539.71h0M357.88 511.34h0M364.63 522.78h0M369.47 528.12h0M368.19 531h0M362.39 522.14h0M363.32 515.73h0M360.35 515.09h0M370.71 528.55h0M365.26 528.54h0M359.5 515.06h0M358.77 518.92h0M375.59 541.65h0M358.1 511.73h0M354.12 510.8h0M370.62 536.95h0M357.71 515.66h0M355.5 516.07h0M371.94 534.26h0M363.46 518.82h0M356.95 509.8h0M383.42 538.23h0M366.6 521.92h0M357.75 523.72h0M377.3 542.18h0M362.27 523.68h0M365.77 525.65h0M369.86 535.01h0M371 532.41h0M376.81 539.71h0M364.43 525.77h0M376.22 538.09h0M351.95 510h0M360.85 514.22h0M380.68 541.71h0M358.39 510.19h0M361.88 522.06h0M368.19 524.24h0M367.3 519.89h0M363.05 524.98h0M374.99 531.86h0M372.91 532.71h0M377.89 531.71h0M376.75 539.23h0M373.56 530.67h0M368.11 527.02h0M378.51 544.05h0M358.01 517.17h0M381.3 543.01h0M354.98 509.36h0M362.15 516.44h0M370.12 528.66h0M358.37 514.63h0M360.04 513.65h0M361.37 518.83h0M359.32 512.73h0M369.87 525.02h0" stroke="#7c087c" stroke-width="2.2" stroke-linecap="round" fill="none"/><path d="M365.58 518.14h0M360.22 522.06h0M367.96 528.38h0M378.83 540h0M367.46 529.05h0M378.46 541.81h0M354.1 512.04h0M374.4 534.89h0M360.82 518.58h0M364 519.11h0M372.81 532.46h0M370.86 531.92h0M356.97 508.15h0M376.76 538.73h0M374.87 536.09h0M369.83 526.72h0M375.25 542.06h0M367 525.37h0M376.2 540.33h0M370.72 531.98h0M363.53 523.06h0M360.87 522.8h0M364.63 523.16h0M361.22 526.16h0M375.53 538.02h0M365.05 523.22h0M369.48 530.38h0M379.59 541.79h0M370.48 533.58h0M368.69 531.13h0M365.04 523.78h0M360.85 517.12h0M375.54 540.5h0M364.66 522.35h0M361.76 518.2h0M373.77 536.31h0M375.19 538.03h0M362.22 520.38h0M369.72 527.23h0M363.97 525.89h0M375.07 534.8h0M364.01 523.21h0M364.36 520.4h0M373.49 534.99h0M355.26 513.52h0M373.08 534.02h0M369.28 525.37h0M372.49 534.33h0M375.69 539.89h0M370.06 530.57h0M376.28 542.53h0M377.23 542.52h0M371.41 532.94h0M359.69 518.92h0M365.77 522.24h0M370.85 530.61h0M361.23 515.22h0M368.35 529.69h0M380.75 540.41h0M373 533.79h0M364.31 520.85h0M370.51 529.6h0M369.77 530.03h0M364.78 517.69h0M370.92 535.68h0M371.88 537.17h0M376.31 537.61h0M368.63 528.75h0M370.87 532.41h0M361.16 520.17h0M374.11 533.3h0M361.97 516.2h0M365.43 528.75h0M372.72 531.09h0M371.37 527.79h0M374.63 540.03h0M371.6 529.14h0M365.29 530.73h0M366.75 523.67h0M376.96 537.9h0M373.15 538.23h0M358.98 515.5h0M367.85 528.79h0M371.38 534.04h0M362.63 523.04h0M361.53 511.58h0M373.3 531.99h0M375.68 540.47h0M370.47 529.93h0M376.46 538.72h0M379.68 541.79h0M363.21 522.58h0M377.85 538.5h0M364.41 523.57h0M357.7 511.69h0M372.76 526.3h0M368.03 528.95h0M378.67 540.25h0M374.63 540.11h0M364.62 513.71h0M360.3 517.92h0M377.61 539.99h0M371.9 538.75h0M376.34 538.48h0M374.53 533.55h0M358.1 515.98h0M373.42 535.8h0M360.3 517.17h0M363.3 521.18h0M370.53 532.61h0M377.09 539.83h0M375.8 535.37h0M364.69 526.1h0M355.69 512.31h0M362.57 519.69h0M363.21 520.19h0M361.91 521h0M377.63 540.18h0M367.38 525.39h0M376.73 541.16h0M368.51 528.73h0M372.32 531.04h0M369.93 526.27h0M369.8 528.65h0M375.84 538.9h0M359.04 521.04h0M375.07 535.7h0M368.44 530.34h0M370.6 528.85h0M369.86 533.24h0M360.73 518.32h0M366.39 529h0M362.82 520.15h0M375.34 539.57h0M374.92 538.14h0M365.3 522.8h0M369.64 531.82h0M373.13 532.82h0M360.28 518.81h0M374.14 531.37h0M355.89 514.7h0M361.97 519.17h0M368.39 522.77h0M356.75 517.64h0M356.92 516.71h0M358.35 517.65h0M366.92 526.22h0M379.56 540.17h0M361.74 522h0M358.03 521.11h0M362.43 528.42h0M372.57 532.19h0M373.22 533.5h0M374.28 532.44h0M375.18 540.33h0M373.68 540.77h0M360.77 520.17h0M370.03 530.91h0M359.89 519.52h0M369.74 526.59h0M376.91 540.92h0M357.05 512.63h0M364.03 521.33h0M359.4 523.34h0M372.95 536.56h0M361.41 516.47h0M373.62 532.5h0M355.35 513.76h0M359.14 513.54h0M373.78 536.44h0M365.82 525.56h0M359.4 516.77h0M361.82 523.46h0M359.01 515.17h0M372.87 534.29h0M360.62 521.67h0M363.32 527.76h0M361.26 521.19h0M361.82 519.35h0M368.25 531.01h0M378.07 545.06h0M378.22 543.55h0M375.54 532.41h0M361.38 519.3h0M366.08 526.5h0M364.53 526.56h0M364.02 522.9h0M369.02 529.89h0M363.41 520.96h0M367.84 527.86h0M370.2 533.54h0M354.88 513.36h0M356.89 514.2h0M366.42 527.17h0M364.13 523.25h0M366.47 522.08h0M362.02 519.78h0M364.19 524.43h0M361.21 522.06h0M372.66 534.74h0" stroke="#c80cc8" stroke-width="2" stroke-linecap="round" fill="none"/><path d="M365.49 525.98h0M375.44 536.29h0M376.88 539.27h0M367.8 529.07h0M378.12 541.5h0M362.15 519.95h0M356.86 514.15h0M361.23 520.97h0M368.07 528.41h0M375.64 536.83h0M365.53 523.26h0M371.89 532.44h0M377.73 540.09h0M369.19 531.38h0M364.97 526.07h0M368.75 529.68h0M364.96 524.32h0M360.72 517.97h0M359.75 516.71h0M367.17 525.55h0M362.46 517.32h0M358.86 517.04h0M372.81 537.06h0M362.75 520.38h0M364.72 521.56h0M373.75 536.51h0M370.87 532.31h0M374.83 536.88h0M371.53 533.24h0M356.04 513.56h0M378.61 541.93h0M365.67 525.07h0M377.16 539.77h0M372.57 534h0M363.26 519.02h0M360.14 517.87h0M367.91 529.26h0M364.7 521h0M362.51 522.99h0M374.4 535.1h0M370.24 532.77h0M361.01 518.82h0M376.83 540.95h0M360.17 517.85h0M370.21 530.89h0M363.55 522.99h0M365.24 524.67h0M359.79 515.61h0M359.87 517.58h0M378.74 543.44h0M366.12 528.5h0M367.06 525.62h0M370.62 531.7h0M379.07 537.52h0M367.65 525.07h0M361.99 519.28h0M361.06 518.06h0M372.73 536.01h0M358.64 517.14h0M356.23 514.39h0M373.87 534.94h0M374.98 534.73h0M379.89 542.67h0M365.8 524.61h0M377.65 539.34h0M361.7 521.2h0M371.56 531.39h0M370.32 532.4h0M376.07 539.42h0M364.59 522.82h0M371.51 534.18h0M361.85 519.57h0M364.82 523.99h0M367.33 528.57h0M369.4 528.81h0M375.04 539.86h0M361.07 517.26h0M377.63 541.59h0M372.55 534.32h0M372.45 532.54h0M359.66 521.75h0M360.18 517.7h0M371.26 533.26h0M376.78 537.44h0M367.65 527.93h0M374.48 536.16h0M370.51 532.98h0M361.44 519.89h0M369.69 528.7h0M365.8 525.81h0M377.45 540.66h0M377.99 540.54h0M373.84 534.37h0M377.62 540.17h0M368.01 529.66h0M372.78 531.34h0M370.9 535.86h0M360.2 515.01h0M363.3 520.19h0M369.18 528.49h0M363.26 521.7h0M369.39 528.37h0M363.34 519.11h0M371.45 534.7h0M374.61 536.85h0M360.74 517.34h0M375.69 537.49h0M360.02 520.6h0M370.7 530.96h0M378.33 542.63h0" stroke="#ff28ff" stroke-width="1.7" stroke-linecap="round" fill="none"/><path d="M388.43 487.23h0M386.1 487.73h0M383.84 485.33h0M382.77 486.53h0M382.46 486.26h0M380.1 486.87h0M385.17 486.05h0M383.04 487.09h0M385.6 485.85h0M388.88 486.09h0M382.95 486.13h0M389.77 485.29h0M384.11 486.9h0M383.07 486.91h0M387.4 487.22h0M378.63 486.72h0M381.15 486.28h0M376.06 485.37h0M381.29 487.51h0M384.83 487.56h0M382.86 488.77h0M382.84 488.64h0M382.69 486.98h0M387.57 485.92h0M384.2 487.64h0M383.19 485.41h0M381.91 485.91h0M376.29 486.82h0M382.96 487.87h0M383.17 486.39h0M382.82 485.71h0M386.51 486.04h0M381.59 485.99h0M387.32 488.37h0M380.7 486.42h0M390.45 487.44h0M387.23 486.1h0M380.45 487.25h0M382.84 486.64h0M391.26 487.83h0" stroke="#8a0c8a" stroke-width="1.6" stroke-linecap="round" fill="none"/></g><g style="mix-blend-mode:screen"><g filter="url(#bl1)" opacity="0.8"><path d="M360.93 517.19h0M360.49 521.5h0M354.78 513.84h0M374.82 543.05h0M359.56 506.78h0M359.87 521.7h0M367.17 533.16h0M362.65 522.4h0M364.3 518.95h0M360.59 515.98h0M372.46 528.19h0M370.06 528.93h0M377.25 540.19h0M358.86 519.54h0M365.35 517.25h0M368.62 524.54h0M369.08 523.35h0M364.99 517.59h0M367.44 521.68h0M359.63 519.04h0M370.81 527.86h0M371.65 535.85h0M376.9 540.82h0M367.52 514.48h0M370.25 529.31h0M360.65 531.08h0M365.21 519.65h0M367.55 522.24h0M367.98 518.87h0M358.96 513.48h0M370.26 535.13h0M362.1 527.26h0M361.11 523.98h0M361.32 524.16h0M372.72 523.15h0M358.7 519.78h0M364.76 522.59h0M362.32 525.14h0M364.38 515.84h0M354.43 526.76h0M354.65 514.78h0M360.8 518.37h0M359.65 517.15h0M358.86 520.78h0M370.91 528.66h0M365.77 516.46h0M372.05 535.33h0M373.04 519.91h0M360.9 527.78h0M377.24 537.2h0M360.27 516.94h0M378.44 536.7h0M376.82 535.41h0M358.75 509.81h0M370.36 526.45h0M370.7 533.08h0M361.21 526.89h0M370.91 526h0M362.25 520.09h0M360.2 530.38h0M367.2 519.34h0M355.83 518.88h0M368.05 517.31h0M360.32 522.4h0M369.23 518.56h0M358.31 525.42h0M364.27 518.17h0M365.66 524.4h0M360.79 525.25h0M359.8 524.24h0M370.58 531.24h0M371.62 530.62h0M363.66 515.25h0M372.3 523.78h0M363.38 516.33h0M352.72 516.51h0M371.82 533.68h0M369.07 531.72h0M362.5 515.54h0M363.09 522.79h0M375.78 537.18h0M371.81 532.26h0M370.08 525.62h0M372.82 515.07h0M356.98 528.48h0M373.44 529.14h0M364.4 521.55h0M364.31 524.2h0M367.99 524.26h0M363.59 524.01h0M366.31 518.93h0M374.59 537.81h0M371.63 531.46h0M375.24 532.17h0M365.18 517.72h0M359.29 525.64h0M372 533.64h0M366.51 520.07h0M377.95 538h0M362.27 519.85h0M372.29 531.09h0M365.43 521.13h0M371.35 520.01h0M375 538.1h0M366.65 525.41h0M361.35 520.72h0M372.05 533.1h0M352.86 516.71h0M366.97 523.36h0M361.17 511.22h0M380 538.98h0M367.29 527.63h0M359.59 516.93h0M365.82 527.89h0M371.48 526.17h0M372.73 528.17h0M358.39 520.01h0M376.5 538.51h0M378.07 539.35h0M363.94 521.3h0M369.71 529.81h0M362.1 516.58h0M366.51 518.94h0M364.29 525.49h0M372.25 534.33h0M360.91 520.24h0M371.04 531.21h0M363.38 514.48h0M376.26 536.13h0M365.36 524.96h0M370.05 535.32h0M374.47 534.88h0M372.52 530.33h0M358.1 516.88h0M364.72 520.06h0M363.17 521.75h0M371.51 532.56h0M374.71 543.53h0M361.95 510.82h0M368.96 525.46h0M376.99 536.78h0M367.08 523h0M370.6 529.64h0M363.38 523.2h0M358.75 519.82h0M364.83 515.58h0M370.17 529.01h0M365.1 511.18h0M366.6 523.88h0M362.15 527.86h0" stroke="#5e5600" stroke-width="2.2" stroke-linecap="round" fill="none"/><path d="M371.77 533.32h0M365.69 526.81h0M370.67 528.28h0M363.93 520.99h0M372.72 531.84h0M373.12 534.09h0M365.61 519.48h0M362.6 523.91h0M358.49 520h0M358.78 524.73h0M359.44 521.31h0M359.39 525.74h0M368.66 516.59h0M368.08 530.96h0M365.34 523.99h0M361.28 518.2h0M373.89 533.66h0M359.41 517.75h0M373.95 535.42h0M362.4 523.61h0M361.55 519.55h0M358.35 519.76h0M371.89 532.74h0M373.06 530.13h0M366 516.89h0M355.63 516.41h0M360.26 519.51h0M373.49 535.9h0M365.81 513.9h0M375.97 538.24h0M376.3 538.21h0M372.62 535.53h0M359.97 518.97h0M377.04 535.05h0M367.26 521.19h0M369.34 518.43h0M364.83 524.02h0M376.85 540.59h0M372.19 528.39h0M373.91 538.47h0M359.75 519.37h0M364.78 519.49h0M370.82 530.24h0M373.62 536.27h0M359.98 515.05h0M375.08 532h0M367.15 517.8h0M375.33 539.33h0M362.04 519.27h0M372.19 535.96h0M364.22 523.46h0M362.33 520.34h0M360.49 522.48h0M373.82 537.5h0M354.92 520.6h0M358.46 521.31h0M372.5 533.67h0M368.16 531.16h0M364.93 524.58h0M365.27 522.69h0M361.92 513.82h0M363.39 514.32h0M373.08 534.91h0M369.33 517.2h0M365.19 520.36h0M374.34 535.36h0M362.78 515.75h0M361.05 514.93h0M362.49 517.47h0M362.32 519.3h0" stroke="#9a8e00" stroke-width="1.8" stroke-linecap="round" fill="none"/><path d="M363.54 519.52h0M360.29 518.48h0M365.9 516.52h0M358.22 518.53h0M358.64 526.08h0M362.89 519.95h0M362.27 524.11h0M358.94 518.03h0M357.37 521.92h0M361.2 523.5h0M360.72 515.04h0M359.69 520.6h0M359.4 518.96h0M359.64 516.03h0M360.03 523.07h0M358.79 519.15h0" stroke="#d8cc10" stroke-width="1.5" stroke-linecap="round" fill="none"/><path d="M321.6 576.2h0M324.48 569.49h0M325.34 580.66h0M323.26 575.21h0M318.59 575.47h0M319.99 561.28h0M321.72 571.9h0M323.75 577.8h0M319.43 567.74h0M329.25 576.87h0M321.84 571.1h0M322.53 582.02h0M318.72 576.06h0M320.54 578.84h0M328.62 565.93h0M321.31 564.23h0M323.32 578.63h0M321.7 567.54h0M322.54 575.41h0M320 568.19h0M318.51 571.17h0M318.46 568.93h0M323.05 578.76h0M320.56 582.6h0M319.08 575.17h0M319.84 561.18h0M319.19 571.49h0M323 581.14h0M321.19 572.06h0M323.03 574.76h0M320.16 567.19h0M320.36 580.57h0M321.9 576.83h0M330.49 577.84h0M327.38 573.58h0M322.46 570.87h0M321.41 579.53h0M320.59 570.13h0M320.25 575.24h0M318.96 574.61h0M319.26 582.54h0M322.53 573.66h0M320.45 576.75h0M324.89 567.96h0M318.4 577.37h0M319.65 580.43h0M320.19 568.81h0M318.82 572.61h0M318.72 580.98h0M321.72 566.81h0M319.9 569.38h0M319.54 575.25h0M320.43 578.63h0M321.82 581.73h0M325.23 577.12h0M323.36 577.75h0M321.23 582.48h0M319.35 570.67h0M324.46 564.19h0M320.74 574.86h0M325.21 575.93h0M323.58 576.14h0M320.18 575.58h0M319.16 576.95h0M324.41 570.73h0M318.96 574.53h0M319.25 568.8h0M324.3 578.95h0M325.49 576.38h0M323.5 579.8h0" stroke="#6a6000" stroke-width="1.7" stroke-linecap="round" fill="none"/><path d="M321.6 576.2h0M324.48 569.49h0M325.34 580.66h0M323.26 575.21h0M318.59 575.47h0M319.99 561.28h0M321.72 571.9h0M323.75 577.8h0M319.43 567.74h0M329.25 576.87h0M321.84 571.1h0M322.53 582.02h0M318.72 576.06h0M320.54 578.84h0M328.62 565.93h0M321.31 564.23h0M323.32 578.63h0M321.7 567.54h0" stroke="#b0a408" stroke-width="1.3" stroke-linecap="round" fill="none"/></g><circle cx="360" cy="514.6" r="3.2" fill="#f4ec20" filter="url(#bl1)" opacity="0.8"/><circle cx="360.2" cy="514.6" r="1.9" fill="#ffff50" filter="url(#bl1)" opacity="0.8"/></g><g style="mix-blend-mode:screen"><ellipse cx="375.4" cy="540.2" rx="6.5" ry="5.2" fill="#0a7a0a" filter="url(#bl3)" opacity="0.8" transform="rotate(40 375.4 540.2)"/><circle cx="370.4" cy="533.2" r="2.2" fill="#0a5a0a" filter="url(#bl2)" opacity="0.7"/><ellipse cx="375.4" cy="540.2" rx="4.2" ry="3.2" fill="#12c812" filter="url(#bl2)" transform="rotate(40 375.4 540.2)"/><ellipse cx="375.8" cy="540.5" rx="2.3" ry="1.8" fill="#28ff28" filter="url(#bl1)" transform="rotate(35 375.4 540.2)"/></g></g>
<text x="221.8" y="396.4" font-size="8.4" fill="#25d025">RIP1</text>
<line x1="296.7" y1="474.5" x2="307" y2="474.5" stroke="#c8c8c8" stroke-width="1.3" />
<text x="323" y="396.4" font-size="8.4" fill="#e425e4">HA-RIP3</text>
<line x1="395.8" y1="476.2" x2="406.1" y2="476.2" stroke="#c8c8c8" stroke-width="1.3" />
<text x="221.8" y="496.4" font-size="8.4" fill="#ece020">MLKL-Flag</text>
<line x1="296.7" y1="573.1" x2="307" y2="573.1" stroke="#c8c8c8" stroke-width="1.3" />
<text x="323" y="496.4" font-size="8.4" fill="#fff">Merge</text>
<line x1="395.8" y1="574.1" x2="406.1" y2="574.1" stroke="#c8c8c8" stroke-width="1.3" />
</g>
<g id="panel_f">
<text x="432.2" y="380.7" font-size="9.5">f</text>
<text x="537.9" y="400.1" font-size="7.6" text-anchor="middle" fill="#111">TNF</text>
<path d="M530.6 404.5H545.2L537.9 413.6Z" fill="#a9a7a7" />
<text x="464.4" y="428" font-size="7.6" fill="#111">TNFR1</text>
<rect x="481.9" y="433.7" width="127.6" height="5" fill="#ddd6c4" />
<path d="M493.8 422.6L493.8 430.1L501.2 438.1L501.2 448.8L505.3 453.8L509.4 448.8L509.4 438.1L516.8 430.1L516.8 422.6L505.3 431.6Z" fill="#a9a7a7" />
<path d="M571.1 422.6L571.1 430.1L578.5 438.1L578.5 453.8L586.7 453.8L586.7 438.1L594.1 430.1L594.1 422.6L582.6 431.6Z" fill="#a9a7a7" />
<path d="M575.2 418.6H590L582.6 428Z" fill="#a9a7a7" />
<path d="M537.9 416.5C538.2 424 541 428 547 428" fill="none" stroke="#231815" stroke-width="1.9" />
<line x1="529.5" y1="428" x2="552" y2="428" stroke="#231815" stroke-width="1.9" />
<path d="M561.2 428L550.6 423.7V432.3Z" fill="#231815" />
<rect x="582.5" y="449.8" width="31" height="11.8" fill="#7fc6ea" rx="5.9" /><text x="598" y="458.44" font-size="7.6" text-anchor="middle" fill="#fff">TRADD</text>
<ellipse cx="569.2" cy="455.5" rx="13" ry="5.3" fill="#f4a56e" /><text x="569.2" y="458.24" font-size="7.6" text-anchor="middle" fill="#fff">RIP1</text>
<ellipse cx="528.9" cy="471.6" rx="13.2" ry="5.3" fill="#f4a56e" /><text x="528.9" y="474.34" font-size="7.6" text-anchor="middle" fill="#fff">RIP1</text>
<ellipse cx="570.3" cy="489.4" rx="13.4" ry="5.6" fill="#f4a56e" /><text x="570.3" y="492.14" font-size="7.6" text-anchor="middle" fill="#fff">RIP1</text>
<rect x="602.7" y="479.5" width="30.4" height="11.4" fill="#7fc6ea" rx="5.7" /><text x="617.9" y="487.94" font-size="7.6" text-anchor="middle" fill="#fff">TRADD</text>
<ellipse cx="520.7" cy="494.8" rx="14.2" ry="6.2" fill="#ef6aad" /><text x="520.7" y="497.54" font-size="7.6" text-anchor="middle" fill="#fff">RIP3</text>
<line x1="544.36" y1="467.75" x2="552.68" y2="462.56" stroke="#231815" stroke-width="1.3" /><path d="M556.24 460.33L553.79 464.34L551.56 460.78Z" fill="#231815" /><line x1="554.44" y1="457.45" x2="546.12" y2="462.64" stroke="#231815" stroke-width="1.3" /><path d="M542.56 464.87L545.01 460.86L547.24 464.42Z" fill="#231815" />
<line x1="603.84" y1="465.54" x2="610.49" y2="474.05" stroke="#231815" stroke-width="1.3" /><path d="M613.08 477.36L608.84 475.34L612.15 472.75Z" fill="#231815" /><line x1="615.76" y1="475.26" x2="609.11" y2="466.75" stroke="#231815" stroke-width="1.3" /><path d="M606.52 463.44L610.76 465.46L607.45 468.05Z" fill="#231815" />
<line x1="569.9" y1="465.6" x2="569.9" y2="471.4" stroke="#231815" stroke-width="2.1" /><path d="M569.9 480L566.9 471.4L572.9 471.4Z" fill="#231815" />
<path d="M520.7 501.2V512.7H570.3V495.2" fill="none" stroke="#231815" stroke-width="1.8" />
<circle cx="544.7" cy="511.9" r="4.5" fill="#fff" stroke="#231815" stroke-width="0.8" />
<line x1="542" y1="511.9" x2="547.4" y2="511.9" stroke="#231815" stroke-width="0.7" /><line x1="544.7" y1="509.2" x2="544.7" y2="514.6" stroke="#231815" stroke-width="0.7" />
<line x1="544.7" y1="516.4" x2="544.7" y2="520" stroke="#231815" stroke-width="1.6" />
<path d="M544.7 523.6L540.8 519.2H548.6Z" fill="#231815" />
<rect x="500" y="527" width="89.6" height="46.4" fill="#fff" stroke="#8cc63f" stroke-width="1.5" rx="7" />
<ellipse cx="518.5" cy="542.6" rx="14.2" ry="5.7" fill="#f4a56e" /><text x="518.5" y="545.48" font-size="8" text-anchor="middle" fill="#fff">RIP1</text>
<ellipse cx="567.4" cy="564.5" rx="14.8" ry="6" fill="#c5a88d" /><text x="567.4" y="567.38" font-size="8" text-anchor="middle" fill="#fff">MLKL</text>
<ellipse cx="567.4" cy="553.4" rx="14.8" ry="6" fill="#c5a88d" /><text x="567.4" y="556.28" font-size="8" text-anchor="middle" fill="#fff">MLKL</text>
<ellipse cx="543.2" cy="559.1" rx="15" ry="6.5" fill="#ef6aad" /><text x="543.2" y="561.98" font-size="8" text-anchor="middle" fill="#fff">RIP3</text>
<ellipse cx="543.2" cy="548.3" rx="15" ry="6.5" fill="#ef6aad" /><text x="543.2" y="551.18" font-size="8" text-anchor="middle" fill="#fff">RIP3</text>
<ellipse cx="543.2" cy="536.9" rx="15" ry="6.5" fill="#ef6aad" /><text x="543.2" y="539.78" font-size="8" text-anchor="middle" fill="#fff">RIP3</text>
<circle cx="506.2" cy="534.7" r="2.1" fill="#fff" stroke="#333" stroke-width="0.5" /><text x="506.2" y="535.95" font-size="3.4" text-anchor="middle" fill="#222">P</text>
<circle cx="557.7" cy="531.2" r="2.1" fill="#fff" stroke="#333" stroke-width="0.5" /><text x="557.7" y="532.45" font-size="3.4" text-anchor="middle" fill="#222">P</text>
<circle cx="558.3" cy="543.5" r="2.1" fill="#fff" stroke="#333" stroke-width="0.5" /><text x="558.3" y="544.75" font-size="3.4" text-anchor="middle" fill="#222">P</text>
<circle cx="527" cy="554.6" r="2.1" fill="#fff" stroke="#333" stroke-width="0.5" /><text x="527" y="555.85" font-size="3.4" text-anchor="middle" fill="#222">P</text>
<circle cx="581.7" cy="549.2" r="2.1" fill="#fff" stroke="#333" stroke-width="0.5" /><text x="581.7" y="550.45" font-size="3.4" text-anchor="middle" fill="#222">P</text>
<circle cx="581.7" cy="560.6" r="2.1" fill="#fff" stroke="#333" stroke-width="0.5" /><text x="581.7" y="561.85" font-size="3.4" text-anchor="middle" fill="#222">P</text>
<line x1="593" y1="549.2" x2="602.5" y2="549.2" stroke="#111" stroke-width="1.1" />
<polyline points="596.2,546.2 599.6,549.2 596.2,552.2" fill="none" stroke="#111" stroke-width="1.1" />
<polyline points="599.8,546.2 603.2,549.2 599.8,552.2" fill="none" stroke="#111" stroke-width="1.1" />
<text x="606.7" y="552.6" font-size="9.4" fill="#111">NECROPTOSIS</text>
</g>
<g id="panel_g">
<text x="0.5" y="620" font-size="9.5">g</text>
<rect x="61" y="621.7" width="47.3" height="126.8" fill="#e7f3e7" />
<rect x="108.3" y="621.7" width="94.6" height="126.8" fill="#e2f2fb" />
<text x="61" y="620.4" font-size="8.1" fill="#e8202a">Amplification</text>
<text x="132" y="620.4" font-size="8.1" fill="#29a9e0">Diminishment</text>
<text x="40" y="640.8" font-size="9.3" text-anchor="middle" fill="#111" font-style="italic">Sim.</text>
<rect x="77.23" y="738.2" width="14.2" height="10.3" fill="#ffc000" stroke="#3a2a00" stroke-width="0.5" />
<rect x="100.96" y="670.49" width="14.2" height="78.01" fill="#ffc000" stroke="#3a2a00" stroke-width="0.5" />
<rect x="124.69" y="689.1" width="14.2" height="59.4" fill="#ffc000" stroke="#3a2a00" stroke-width="0.5" />
<rect x="148.42" y="700.98" width="14.2" height="47.52" fill="#ffc000" stroke="#3a2a00" stroke-width="0.5" />
<rect x="172.15" y="708.9" width="14.2" height="39.6" fill="#ffc000" stroke="#3a2a00" stroke-width="0.5" />
<rect x="195.88" y="714.44" width="14.2" height="34.06" fill="#ffc000" stroke="#3a2a00" stroke-width="0.5" />
<rect x="49.4" y="661.9" width="165.4" height="86.6" fill="none" stroke="#111" stroke-width="0.9" />
<line x1="61" y1="621.7" x2="61" y2="751.6" stroke="#22b35a" stroke-width="1.8" stroke-dasharray="6.4 4.4" stroke-dashoffset="3"/>
<line x1="108.3" y1="621.7" x2="108.3" y2="751.6" stroke="#22b35a" stroke-width="1.8" stroke-dasharray="6.4 4.4" stroke-dashoffset="3"/>
<line x1="202.9" y1="621.7" x2="202.9" y2="751.6" stroke="#22b35a" stroke-width="1.8" stroke-dasharray="6.4 4.4" stroke-dashoffset="3"/>
<ellipse cx="82.8" cy="637.7" rx="16.3" ry="6.6" fill="#f0a060" opacity="0.85"/><text x="82.8" y="640.58" font-size="8" text-anchor="middle" fill="#fff">RIP1</text>
<ellipse cx="82.8" cy="651.4" rx="16.3" ry="7" fill="#ea5fa6" opacity="0.85"/><text x="82.8" y="654.28" font-size="8" text-anchor="middle" fill="#fff">RIP3</text>
<line x1="83.4" y1="659.4" x2="83.4" y2="668.6" stroke="#111" stroke-width="1" stroke-dasharray="1 1.6"/>
<ellipse cx="83.9" cy="676.8" rx="16.3" ry="7" fill="#ea5fa6" opacity="0.85"/><text x="83.9" y="679.68" font-size="8" text-anchor="middle" fill="#fff">RIP3</text>
<ellipse cx="83.9" cy="688.1" rx="16.3" ry="7" fill="#ea5fa6" opacity="0.85"/><text x="83.9" y="690.98" font-size="8" text-anchor="middle" fill="#fff">RIP3</text>
<ellipse cx="147.7" cy="637.7" rx="16.3" ry="7" fill="#ea5fa6" opacity="0.85"/><text x="147.7" y="640.58" font-size="8" text-anchor="middle" fill="#fff">RIP3</text>
<line x1="148" y1="646.3" x2="148" y2="655" stroke="#111" stroke-width="1" stroke-dasharray="1 1.6"/>
<ellipse cx="147.7" cy="662.7" rx="16.3" ry="7" fill="#ea5fa6" opacity="0.85"/><text x="147.7" y="665.58" font-size="8" text-anchor="middle" fill="#fff">RIP3</text>
<ellipse cx="147.7" cy="675" rx="16.3" ry="7" fill="#ea5fa6" opacity="0.85"/><text x="147.7" y="677.88" font-size="8" text-anchor="middle" fill="#fff">RIP3</text>
<ellipse cx="175.3" cy="679.5" rx="15.8" ry="6.6" fill="#c2a184" opacity="0.9"/><text x="175.3" y="682.38" font-size="8" text-anchor="middle" fill="#fff">MLKL</text>
<ellipse cx="175.3" cy="692.1" rx="15.8" ry="6.6" fill="#c2a184" opacity="0.9"/><text x="175.3" y="694.98" font-size="8" text-anchor="middle" fill="#fff">MLKL</text>
<circle cx="99.9" cy="632.2" r="2.1" fill="#fff" stroke="#444" stroke-width="0.5" opacity="0.95"/><text x="99.9" y="633.45" font-size="3.4" text-anchor="middle" fill="#222">P</text>
<circle cx="99.9" cy="645.6" r="2.1" fill="#fff" stroke="#444" stroke-width="0.5" opacity="0.95"/><text x="99.9" y="646.85" font-size="3.4" text-anchor="middle" fill="#222">P</text>
<circle cx="100.4" cy="670.5" r="2.1" fill="#fff" stroke="#444" stroke-width="0.5" opacity="0.95"/><text x="100.4" y="671.75" font-size="3.4" text-anchor="middle" fill="#222">P</text>
<circle cx="100.4" cy="682.4" r="2.1" fill="#fff" stroke="#444" stroke-width="0.5" opacity="0.95"/><text x="100.4" y="683.65" font-size="3.4" text-anchor="middle" fill="#222">P</text>
<circle cx="165.6" cy="632.2" r="2.1" fill="#fff" stroke="#444" stroke-width="0.5" opacity="0.95"/><text x="165.6" y="633.45" font-size="3.4" text-anchor="middle" fill="#222">P</text>
<circle cx="165.6" cy="657.1" r="2.1" fill="#fff" stroke="#444" stroke-width="0.5" opacity="0.95"/><text x="165.6" y="658.35" font-size="3.4" text-anchor="middle" fill="#222">P</text>
<circle cx="165.6" cy="669" r="2.1" fill="#fff" stroke="#444" stroke-width="0.5" opacity="0.95"/><text x="165.6" y="670.25" font-size="3.4" text-anchor="middle" fill="#222">P</text>
<circle cx="191.1" cy="674.2" r="2.1" fill="#fff" stroke="#444" stroke-width="0.5" opacity="0.95"/><text x="191.1" y="675.45" font-size="3.4" text-anchor="middle" fill="#222">P</text>
<circle cx="191.1" cy="686.3" r="2.1" fill="#fff" stroke="#444" stroke-width="0.5" opacity="0.95"/><text x="191.1" y="687.55" font-size="3.4" text-anchor="middle" fill="#222">P</text>
<polyline points="60.2,748.5 84.73,738.2 108.46,670.49 132.19,689.1 155.92,700.98 179.65,708.9 203.38,714.44" fill="none" stroke="#111" stroke-width="1.4" />
<circle cx="84.73" cy="738.2" r="1.3" fill="#fff" stroke="#111" stroke-width="0.5" />
<circle cx="108.46" cy="670.49" r="1.3" fill="#fff" stroke="#111" stroke-width="0.5" />
<circle cx="132.19" cy="689.1" r="1.3" fill="#fff" stroke="#111" stroke-width="0.5" />
<circle cx="155.92" cy="700.98" r="1.3" fill="#fff" stroke="#111" stroke-width="0.5" />
<circle cx="179.65" cy="708.9" r="1.3" fill="#fff" stroke="#111" stroke-width="0.5" />
<circle cx="203.38" cy="714.44" r="1.3" fill="#fff" stroke="#111" stroke-width="0.5" />
<line x1="46.3" y1="748.5" x2="49.4" y2="748.5" stroke="#111" stroke-width="0.8" />
<text x="42.9" y="751.4" font-size="8.1" text-anchor="end" fill="#111">0%</text>
<line x1="46.3" y1="708.9" x2="49.4" y2="708.9" stroke="#111" stroke-width="0.8" />
<text x="42.9" y="711.8" font-size="8.1" text-anchor="end" fill="#111">50%</text>
<line x1="46.3" y1="669.3" x2="49.4" y2="669.3" stroke="#111" stroke-width="0.8" />
<text x="42.9" y="672.2" font-size="8.1" text-anchor="end" fill="#111">100%</text>
<line x1="60.2" y1="748.5" x2="60.2" y2="751.3" stroke="#111" stroke-width="0.8" />
<text x="60.2" y="760.8" font-size="7.8" text-anchor="middle" fill="#111">1</text>
<line x1="83.93" y1="748.5" x2="83.93" y2="751.3" stroke="#111" stroke-width="0.8" />
<text x="83.93" y="760.8" font-size="7.8" text-anchor="middle" fill="#111">2</text>
<line x1="107.66" y1="748.5" x2="107.66" y2="751.3" stroke="#111" stroke-width="0.8" />
<text x="107.66" y="760.8" font-size="7.8" text-anchor="middle" fill="#111">3</text>
<line x1="131.39" y1="748.5" x2="131.39" y2="751.3" stroke="#111" stroke-width="0.8" />
<text x="131.39" y="760.8" font-size="7.8" text-anchor="middle" fill="#111">4</text>
<line x1="155.12" y1="748.5" x2="155.12" y2="751.3" stroke="#111" stroke-width="0.8" />
<text x="155.12" y="760.8" font-size="7.8" text-anchor="middle" fill="#111">5</text>
<line x1="178.85" y1="748.5" x2="178.85" y2="751.3" stroke="#111" stroke-width="0.8" />
<text x="178.85" y="760.8" font-size="7.8" text-anchor="middle" fill="#111">6</text>
<line x1="202.58" y1="748.5" x2="202.58" y2="751.3" stroke="#111" stroke-width="0.8" />
<text x="202.58" y="760.8" font-size="7.8" text-anchor="middle" fill="#111">7</text>
<text x="127" y="775" font-size="8.25" text-anchor="middle" fill="#111">Molecule of RIP3 per subunit</text>
<text x="16.2" y="706.5" font-size="8.1" text-anchor="middle" fill="#111" transform="rotate(-90 16.2 706.5)">p-MLKL</text>
</g>
<g id="panel_i">
<text x="241.1" y="620" font-size="9.5">i</text>
<rect x="253.1" y="622.2" width="132" height="132.6" fill="#000" />
<path d="M331.06 701.06h0M277.61 686.14h0M356.08 667.11h0M317.22 674.31h0M323.94 691.99h0M300.15 710.48h0M343.92 669.62h0M346.74 668.49h0M330.57 667.84h0M293.85 672.64h0M301.04 712.92h0M323.53 697.6h0M293.43 711.81h0M355.44 677.13h0M307.51 669.96h0M302.12 693.57h0M275.3 697.61h0M305.41 677.74h0M348.67 686.96h0M303.42 686.99h0M338.42 664.08h0M342.48 706.62h0M276.63 703.54h0M307.96 692.24h0M291.28 712.58h0M292.69 701.81h0M305.99 680.16h0M322.22 702.88h0M284.72 701.41h0M283.21 679.4h0M329.97 710.58h0M305.6 710.91h0M324.06 677.87h0M303.51 670.58h0M363.8 689.81h0M311.53 673.82h0M328.46 705.62h0M316.01 683.77h0M277.94 687.65h0M350.46 668.05h0M331.74 703.55h0M284.6 684.47h0M288.43 706.62h0M301.53 685.47h0M362.84 685.49h0M318.93 700.39h0M318.11 676.72h0M311.34 668.91h0M308.93 714.37h0M319.94 679.28h0M307.52 703.45h0M344.74 698.51h0M334.76 702.02h0M307.71 699.04h0M300.28 687.23h0M344.28 698.31h0M301.45 712.06h0M333.47 692.36h0M276.04 690.54h0M297.56 697.27h0M316.66 705.1h0M333.27 704.07h0M306.31 695.78h0M341.4 705.72h0M306.5 706.52h0M353.29 698.17h0M321.63 689.58h0M289.96 706.18h0M359.36 686.77h0M337.23 699.86h0M340.73 670.28h0M345.23 692.37h0M334.9 683.72h0M331.14 702.83h0M332.32 699.9h0M314.7 696.11h0M294.71 698.04h0M331.78 663.26h0M317.44 673.22h0M303.56 670.8h0M316.88 681.54h0M330.06 692.87h0M296.41 709.77h0M300.07 683.14h0M285.36 705.89h0M330.22 666.12h0M324.07 679.33h0M327.28 712.75h0M348.67 683.63h0M348.17 695.68h0M308.25 668.67h0M328.63 691.45h0M329.77 679.96h0M284.71 691.55h0M330.37 668.6h0M331.65 709.13h0M308.83 684.31h0M295.37 676.74h0M362.52 681.51h0M328.62 675.03h0M363.29 687.8h0M312.39 678.23h0M363.58 687.55h0M300.78 686.75h0M285.97 694.57h0" stroke="#0a320a" stroke-width="0.9" stroke-linecap="square" fill="none"/>
<path d="M314.91 676.83h0M345.35 705.65h0M276.19 689.76h0M299.64 711.5h0M345.37 674.27h0M299.09 669.36h0M363.99 676.83h0M329.72 686.63h0M333.04 693.61h0M341.91 667.38h0M343.44 677.24h0M323.01 679.15h0M301.71 689.61h0M316.79 680.5h0M342.05 692.9h0M316.01 710.49h0M354.91 690.46h0M276.31 703.03h0M313.5 692.08h0M338.74 695.14h0M318.37 710.23h0M309.69 682.16h0M351.67 671.61h0M301.68 705.82h0M280.94 706.16h0M337.52 684.37h0M300.77 703.16h0M356.96 668.7h0M318.06 690.65h0M319.79 678.86h0M288.82 692.64h0M348.06 664.69h0M295.7 705.26h0M346.26 696.83h0M277.3 700.02h0M338.11 663.64h0M350.79 672.84h0M339.12 668.27h0M301.32 710.57h0M288.48 693.97h0M312.25 669.7h0M331.02 663.35h0M284.74 681.48h0M326.77 701.09h0M354.06 668.25h0" stroke="#125812" stroke-width="0.9" stroke-linecap="square" fill="none"/>
<path d="M285.61 697.1h0M301.2 697.42h0M340.64 669.81h0M311.1 713.57h0M307.78 677.84h0M317.12 676.29h0M340.91 699.77h0M289.7 673.99h0M333.13 684.25h0M280.48 703.08h0M311.92 663.43h0M321.7 679.9h0M355.89 687.52h0M310.76 664.25h0M297.99 683h0M291.14 688.47h0M311.21 689.69h0M282.59 677.95h0M284.72 690.26h0M357.92 693.31h0M352.11 672.58h0M276.57 690.14h0M318.79 691.86h0M308.9 694.76h0M302.68 685.25h0M349.38 673.09h0M285.41 677.83h0M282.89 702.71h0" stroke="#5a205a" stroke-width="1" stroke-linecap="square" fill="none"/>
<path d="M348.75 677.9h0M313.58 692.16h0M338.05 663.59h0M292.99 676.44h0M308.64 666.32h0M312.85 677.95h0M342.71 691.03h0M355.65 696.32h0M343.37 692.04h0M314.8 705.11h0M340.52 698.86h0M299.09 704.85h0" stroke="#c070c0" stroke-width="1" stroke-linecap="round" fill="none"/>
<path d="M313.85 677.99h0M329.02 687.44h0M359.47 681.21h0M280.02 698.65h0M288.6 695.09h0M320.53 710.16h0M324.94 694.53h0M298.69 690.79h0M297.88 701.53h0M321.53 668.22h0M296.1 681.05h0M341.31 670.68h0M339.2 696.37h0M282.67 697.07h0M328.46 673.88h0M353.92 686.95h0M304.1 704.01h0M277.65 700.15h0M348.85 668.55h0M331.23 680.13h0M296.15 679h0M330.24 679.83h0M309.72 668.37h0M349.8 695.99h0M347.41 684.4h0M351.64 688.94h0M328.34 691.96h0M341.61 682.36h0" stroke="#665c18" stroke-width="1" stroke-linecap="square" fill="none"/>
<path d="M355.03 686.97h0M317.32 709.05h0M330.75 684.15h0M316.9 666.39h0M308.72 681.83h0M354.23 669.21h0M297.87 675.98h0M289.54 676.5h0M296.17 687.03h0M308.21 711.65h0M336.89 697.39h0M317.46 712.05h0" stroke="#d8cc50" stroke-width="1" stroke-linecap="round" fill="none"/>
<path d="M309.42 668.03h0M298.63 697.5h0M343.74 691.09h0M286.71 680.29h0M330.08 673.48h0M313.6 680.57h0M327.6 705.65h0M340.41 666.15h0M322.73 670.24h0" stroke="#e8e0c8" stroke-width="1" stroke-linecap="round" fill="none"/>
<text x="255.4" y="632" font-size="8" fill="#fff">HeLa <tspan font-style="italic">RIP1</tspan>-KO</text>
<text x="255.4" y="641.8" font-size="8" fill="#fff">Flag-RIP3+HA-RIP1</text>
<text x="255.4" y="749.6" font-size="8" fill="#fff">TSZ 4 h</text>
<line x1="348.3" y1="750.5" x2="380.2" y2="750.5" stroke="#c4c4c4" stroke-width="1.6" />
<rect x="314.8" y="673" width="6.4" height="6.4" fill="none" stroke="#e0e0e0" stroke-width="0.6" />
<rect x="323.8" y="707.5" width="6.4" height="6.4" fill="none" stroke="#e0e0e0" stroke-width="0.6" />
<text x="310.9" y="672.2" font-size="9" text-anchor="middle" fill="#fff">1</text>
<text x="320.4" y="720" font-size="9" text-anchor="middle" fill="#fff">2</text>
<rect x="386.6" y="622" width="66.4" height="66" fill="#000" />
<rect x="386.6" y="689.1" width="66.4" height="65.7" fill="#000" />
<rect x="454.3" y="622" width="66.3" height="66" fill="#000" />
<rect x="454.3" y="689.1" width="66.3" height="65.7" fill="#000" />
<rect x="521.9" y="622" width="66.1" height="66" fill="#000" />
<rect x="521.9" y="689.1" width="66.1" height="65.7" fill="#000" />
<rect x="589.3" y="622" width="66.5" height="66" fill="#000" />
<rect x="589.3" y="689.1" width="66.5" height="65.7" fill="#000" />
<defs><filter id="bl09" filterUnits="userSpaceOnUse" x="380" y="615" width="290" height="150"><feGaussianBlur stdDeviation="0.85"/></filter></defs>
<g filter="url(#bl09)">
<path d="M420.27 650.48h0M423.51 649.23h0M423.59 647.5h0M419.66 651.68h0M421.33 652.04h0M417.31 658h0M416.89 659.59h0M419.06 651.81h0M419.18 654.89h0M416.91 656.91h0M422.55 650.06h0M419.45 656.28h0M423.04 647.53h0M417.68 657.32h0M416.78 660.18h0M422.57 649.43h0M422.48 649.81h0M422.77 646.91h0M419.87 654.56h0M421.11 652.22h0M419.12 655.51h0M417.73 654.59h0M420.56 654h0M424.11 646.07h0M420.54 651.46h0M420.44 650.52h0M418.49 656.06h0M417.56 654.15h0M421.46 651.51h0M418.06 655.74h0M421.56 647.52h0M423.62 646.09h0M421.95 649.12h0M420.6 652.1h0M424.4 646.37h0M416.03 660.77h0M422.88 649.56h0M420.77 651.37h0M420.63 649.7h0M419.31 654.17h0M418.23 656.68h0M424.77 648.48h0M422.72 649.4h0M421.39 650.34h0M421.52 650.03h0M420.8 651.91h0M416.52 654.67h0M417.9 657.49h0M420.15 651.51h0M416.57 656.72h0M421.81 649.82h0M420.86 651.19h0M419.13 654.44h0M424.73 648.38h0M423.16 648.24h0M417.75 657.61h0M417 657.73h0M422.46 647.75h0M422.68 646.88h0M423.48 645.33h0M417.21 658.95h0M417.02 657.74h0M421.73 649.89h0M418.38 653.89h0M416.43 658.1h0M419.73 650.24h0M426.01 647.53h0M422.07 650.08h0M418.99 654.04h0M423.98 647.7h0M419.5 651.38h0M420.48 652.34h0M423.36 648.07h0M419.37 655.02h0M416.76 659.62h0M420.77 652.92h0M419.31 654.21h0M418.77 654.73h0M422.58 649.23h0M417.19 656.62h0M420.66 652.65h0M424.32 646.91h0M416.51 661.03h0M421.55 650.13h0M419.2 653.41h0M421.8 650.73h0M421.45 650.86h0M421.32 649.92h0M424.02 647.98h0M425.55 644.63h0" stroke="#1fc01f" stroke-width="1.55" stroke-linecap="round" fill="none"/>
<path d="M484.34 660.83h0M491.29 647.19h0M485.54 657.14h0M484.65 658.52h0M483.99 661.26h0M486.64 656.11h0M485.79 660.79h0M490.3 647.13h0M486.13 658.98h0M484.1 664.77h0M484.75 658.52h0M489.12 650.95h0M490.7 646.85h0M483.6 661.8h0M484.33 657.42h0M490.74 648.27h0M483.55 658.97h0M482.97 662.04h0M483.82 663.75h0M485.21 653.95h0M483.65 663.51h0M485.33 657.1h0M483.86 658.98h0M489.58 648.57h0M489.69 650.51h0M490.81 647.4h0M491.01 648.18h0M487.48 650.71h0M489.92 648.81h0M489.61 649.89h0M485.69 654.77h0M486.17 655.83h0M486.37 659.33h0M484.51 660.6h0M488.16 652.17h0M486.4 653.36h0M484.5 661.18h0M486.14 655.7h0M485.31 662.22h0M486.89 653.81h0M487.58 649.5h0M483.49 663.66h0M487.28 650.42h0M484.86 660.02h0M483.75 663.04h0M482.84 663.55h0M489.79 648.12h0M487.57 652.07h0M488.36 651.18h0M483.75 663.77h0M489.52 648.34h0M484.34 662.04h0M485.03 660.82h0M483 663.5h0M487.61 652.62h0M485.82 654.28h0M487.13 653.36h0M483.81 659.26h0M488.89 647.9h0M485.94 654.94h0M485.33 659.08h0M485.7 657.12h0M486.05 651.17h0M484.15 661.58h0M483.04 661.47h0M488.75 654.04h0M484.62 656.09h0M484.14 659.72h0M485.09 663.15h0M485.76 656.31h0M485.68 660.19h0M489.46 649.43h0M483.56 662.78h0M483.2 663.88h0M482.3 662.31h0M490.11 647.66h0M489.23 650.93h0M484.89 662.86h0M485.62 656.95h0M490.31 647.42h0M486.95 654.25h0M487.86 652.22h0M488.56 649.57h0M484.63 663.25h0M486.65 655.42h0M485.94 656.08h0M483.44 659.68h0M487.36 653.41h0M487.78 651.17h0M491.37 647.17h0M482.99 663.15h0M490.06 649.92h0M483.53 662.21h0M486.37 657.91h0M484.15 661.46h0M486.36 652.6h0M490.17 648.38h0M485.39 657.67h0M483.87 657.38h0M483.4 660.97h0M489.94 650.98h0M485.65 657.48h0M486.23 655.36h0M485.04 656.95h0M486.97 650.36h0M484.2 661.38h0M488.95 648.55h0M482.99 663.59h0M484.68 664.13h0M489.51 650.4h0" stroke="#d01cd0" stroke-width="1.55" stroke-linecap="round" fill="none"/>
<path d="M418.69 720.57h0M416.26 725.65h0M418.49 719.16h0M417.48 722.29h0M419.78 719.29h0M419.7 718.61h0M415.59 728.4h0M416.06 726.38h0M421.53 718.6h0M417.82 722.15h0M419.55 721.99h0M419.88 717.07h0M418.8 718.98h0M420.69 720.56h0M424.4 714.92h0M417.45 724.68h0M415.77 726.85h0M417.1 724.24h0M418.12 725.23h0M422.53 715.62h0M416.55 723.67h0M414.39 727.49h0M420.71 718.33h0M421.99 716.92h0M420.29 718.22h0M420.46 718.95h0M417.83 723.51h0M415.84 724.14h0M414.71 725.62h0M417.88 724.5h0M417.4 724.45h0M416.07 727.83h0M416.75 726.72h0M424.1 714.56h0M423.58 715.85h0M416.55 727.56h0M419.43 718.42h0M418.54 722.28h0M418.74 722.25h0M417.8 722.44h0M416.72 724.54h0M418.57 722.65h0M419.92 721.39h0M416.68 724.71h0M420.64 718.94h0M415.55 726.5h0M420.31 719.47h0M414.81 727h0M417.93 723.39h0M418.64 723.29h0M416.26 725.7h0M417.22 724.45h0M414.75 728.23h0M415.47 727.23h0M419.52 719.47h0M421.69 717.61h0M417.84 722.57h0M416.14 726.13h0M420.95 717.21h0M418.65 721.19h0M417.07 721.91h0M416.95 723.58h0M418.01 722.51h0M416.23 723.33h0M414.89 726.49h0M416.63 727.87h0M423.18 716.07h0M419 721.3h0M415.21 727.22h0M416.51 723.51h0M422.67 715.86h0M422.39 717.59h0M416.49 724.25h0M421.68 717.2h0M424.2 715.09h0M422.55 716.68h0M420.52 717.55h0M416.87 725.69h0M422.86 715.86h0M418.21 720.73h0M417.62 722.93h0M421.29 716.81h0M417.26 721.67h0M422.94 715.37h0M416.52 723.98h0M424.21 715.75h0M416.27 725.02h0M417.57 725.5h0M416.05 725.68h0M416.63 728.57h0" stroke="#d8cc18" stroke-width="1.55" stroke-linecap="round" fill="none"/>
<path d="M546.89 650.01h0M547.01 647.85h0M553.19 651.4h0M546.83 649.88h0M545.77 648.89h0M549.2 650.97h0M552.56 651.37h0M551.57 651.54h0M546.73 649.82h0M544.78 648.28h0M546.1 648.36h0M548.45 649.77h0M551.43 651.29h0M546.29 650.27h0M550.68 650.35h0M546.83 649.62h0M549.17 651.58h0M546.9 650.24h0M549.17 651.49h0M551.08 654.38h0M544.12 647.12h0M548.47 652.38h0M549.4 651.34h0M544.7 648.87h0M545.21 646.83h0M546.32 650.55h0M545.54 649.07h0M549.48 652.6h0M547.02 649.93h0M544.33 648.54h0M547.83 650.05h0M543.91 647.02h0M544.74 647.71h0M547.94 650.09h0M546.73 648.63h0M544.85 647.82h0M551.33 653.1h0M547.69 650.9h0M549.69 650.79h0M549.07 648.72h0M550.55 651.96h0M549.11 653.22h0M546.3 649.15h0M551.32 651.22h0M550.07 651.42h0M549.16 651.4h0M550.87 653.46h0M548.33 649.45h0M549.16 650.37h0M549.88 651.33h0M550.73 652.02h0M550.19 651.39h0M551.39 652.02h0M547.15 649.86h0M553.29 651.23h0M543.07 648.44h0M552.59 652.07h0M549.39 652.08h0M550.67 650.58h0M551.63 653.08h0M549.51 651.75h0M552.19 654.07h0M545.73 649.37h0M546.07 651.11h0M545.7 647.95h0M551.18 652.96h0M546.47 649.23h0M545.95 648.68h0M551.7 652.04h0M546.03 650.5h0M562.51 656.58h0M559.74 656.53h0M555.05 655.15h0M563.15 655.37h0M570.09 656.17h0M561.64 655.75h0M568.53 654.09h0M567.12 655.94h0M563.17 654.76h0M558.23 654.71h0M560.09 655.88h0M561.55 656.13h0M567.51 655.76h0M565.92 656.89h0M556.69 657.63h0M562.37 655.79h0M563.56 655.89h0M557.51 654.87h0M562.02 655.78h0M559.8 656.29h0M562.34 657.57h0M562.11 656.01h0" stroke="#1cae1c" stroke-width="1.55" stroke-linecap="round" fill="none"/>
<path d="M633.1 655.23h0M629.89 656.32h0M634.75 654.99h0M621.92 653.74h0M616.66 651.56h0M624.08 655.85h0M634.25 655.02h0M631.56 656.98h0M631.59 655.74h0M619.08 652.73h0M635.23 654.04h0M629.49 656.18h0M627.94 655.4h0M612.84 648.22h0M615.95 651.35h0M620.2 654.44h0M634.34 654.5h0M635.96 655.42h0M614.6 649.99h0M629.23 655.5h0M628.57 656.14h0M616.98 651.63h0M635.83 654.86h0M621 655.31h0M623.69 656.13h0M635.27 655.4h0M616.53 651.12h0M618.31 653.58h0M622.45 655.19h0M623.24 654.67h0M631.56 655.52h0M625.72 654.74h0M616 651.23h0M612.6 646.83h0M617.75 652.15h0M627.2 656.42h0M628.49 655.42h0M617.24 651.5h0M624.97 655.23h0M632.77 654.87h0M615.4 649.55h0M626.17 655.25h0M617.05 653.75h0M626.47 656.03h0M627.16 656.13h0M613.85 648.96h0M635.2 654h0M635.69 654.74h0M621.88 655.59h0M626.21 656.63h0M623.91 654.54h0M625.2 655.52h0M614.93 649.27h0M615.36 648.87h0M629.8 656.14h0M630.12 656.81h0M628.24 655.99h0M625.71 654.89h0M636.37 655.71h0M621.28 654.28h0M616.31 651.47h0M633.52 654.91h0M626.63 655.43h0M617.64 651.78h0M613.4 648.22h0M627.6 655.36h0M631.21 656.3h0M629.43 655.38h0M634.24 655.59h0M632.92 655.36h0M629.85 655.55h0M618.81 652.5h0M636.1 655.2h0M614.78 649.48h0M632.62 655.99h0M634.24 655.06h0M619.67 654.05h0M636.66 655.98h0M633.13 655.08h0M629.81 655.51h0M615.71 650.58h0M625.76 655.99h0M626.56 655.83h0M620.26 654.54h0M613 648.24h0M618.36 652.72h0M629.97 655.49h0M624.96 655.28h0M615.41 648.62h0M613.2 646.49h0M632.4 655.09h0M614.74 648.52h0M622.48 655.42h0M634.44 655.25h0M636.67 654.68h0M616.3 650.53h0M622.45 654.45h0M625.73 656.09h0M623.25 655.98h0M615.66 649.84h0M619.99 653.76h0M635.4 655.65h0M635.88 654.46h0M621.86 654.88h0M619.86 654.12h0M623.71 655.71h0M615.72 650.48h0M613.41 648.54h0M630.14 657.09h0M635.5 654.9h0M633.41 655.43h0M621.96 654.68h0M629.03 656.86h0M628.4 656.03h0M617.42 652.64h0M625.99 655.65h0M634.48 655.18h0M626.17 654.57h0M630.07 656.06h0M634.17 654.87h0M618.43 652.35h0M637.05 655.09h0M635.49 655.1h0M619.85 652.71h0M618.03 652.43h0M615.54 650.53h0M616.72 651.77h0M615.43 649.06h0M633.04 654.57h0M617.38 652.61h0" stroke="#c81ac8" stroke-width="1.55" stroke-linecap="round" fill="none"/>
<path d="M548.35 718.45h0M548.42 717.83h0M549.65 716.93h0M550.19 718.35h0M550.06 716.56h0M549.9 718.08h0M548.99 717.44h0M551 716.64h0M549.75 718.01h0M549.37 717.17h0M549.64 717.41h0M548.9 715.7h0M550.88 716.48h0M549.04 717.96h0M549.37 717.01h0M548.88 716.94h0M550.22 718.12h0M550.56 716.1h0M549.58 717.78h0M549.12 716.37h0M549.6 718.17h0M548.85 717.9h0M550.53 716.6h0M548.78 716.93h0M549.57 716.62h0M549.94 719.23h0M550.73 718.28h0M549.83 718.24h0M563.47 724.9h0M565.11 726.72h0M564.58 724.82h0M564.04 723.84h0M564.63 726.17h0M564.71 724.63h0M563.86 723.83h0M565.31 724.68h0M565.15 723.89h0M564.76 725.42h0M563.96 724.2h0M566.45 726.15h0M565.26 724.1h0M565.39 725.24h0M565.67 724.59h0M563.89 723.75h0M562.71 723.18h0M563.75 724.7h0M553.64 718.59h0M562.39 723.84h0M558.6 722.39h0M553.88 718.35h0M559.08 722.65h0M555.23 720.49h0" stroke="#e0d418" stroke-width="1.55" stroke-linecap="round" fill="none"/>
<path d="M484.34 726.53h0M491.29 712.89h0M485.54 722.84h0M484.65 724.22h0M483.99 726.96h0M486.64 721.81h0M485.79 726.49h0M490.3 712.83h0M486.13 724.68h0M484.1 730.47h0M484.75 724.22h0M489.12 716.65h0M490.7 712.55h0M483.6 727.5h0M484.33 723.12h0M490.74 713.97h0M483.55 724.67h0M482.97 727.74h0M483.82 729.45h0M485.21 719.65h0M483.65 729.21h0M485.33 722.8h0M483.86 724.68h0M489.58 714.27h0M489.69 716.21h0M490.81 713.1h0M491.01 713.88h0M487.48 716.41h0M489.92 714.51h0M489.61 715.59h0M485.69 720.47h0M486.17 721.53h0M486.37 725.03h0M484.51 726.3h0M488.16 717.87h0M486.4 719.06h0M484.5 726.88h0M486.14 721.4h0M485.31 727.92h0M486.89 719.51h0M487.58 715.2h0M483.49 729.36h0M487.28 716.12h0M484.86 725.72h0M483.75 728.74h0M482.84 729.25h0M489.79 713.82h0M487.57 717.77h0M488.36 716.88h0M483.75 729.47h0M489.52 714.04h0M484.34 727.74h0M485.03 726.52h0M483 729.2h0M487.61 718.32h0M485.82 719.98h0M487.13 719.06h0M483.81 724.96h0M488.89 713.6h0M485.94 720.64h0M485.33 724.78h0M485.7 722.82h0M486.05 716.87h0M484.15 727.28h0M483.04 727.17h0M488.75 719.74h0M484.62 721.79h0M484.14 725.42h0M485.09 728.85h0M485.76 722.01h0M485.68 725.89h0M489.46 715.13h0M483.56 728.48h0M483.2 729.58h0M482.3 728.01h0M490.11 713.36h0M489.23 716.63h0M484.89 728.56h0M485.62 722.65h0M490.31 713.12h0M486.95 719.95h0M487.86 717.92h0M488.56 715.27h0M484.63 728.95h0M486.65 721.12h0M485.94 721.78h0M483.44 725.38h0M487.36 719.11h0M487.78 716.87h0M491.37 712.87h0M482.99 728.85h0M490.06 715.62h0M483.53 727.91h0M486.37 723.61h0M484.15 727.16h0M486.36 718.3h0M490.17 714.08h0M485.39 723.37h0M483.87 723.08h0M483.4 726.67h0M489.94 716.68h0M485.65 723.18h0M486.23 721.06h0M485.04 722.65h0M486.97 716.06h0M484.2 727.08h0M488.95 714.25h0M482.99 729.29h0M484.68 729.83h0M489.51 716.1h0" stroke="#d01cd0" stroke-width="1.55" stroke-linecap="round" fill="none"/>
<path d="M489.67 716.88h0M492.91 715.63h0M492.99 713.9h0M489.06 718.08h0M490.73 718.44h0M486.71 724.4h0M486.29 725.99h0M488.46 718.21h0M488.58 721.29h0M486.31 723.31h0M491.95 716.46h0M488.85 722.68h0M492.44 713.93h0M487.08 723.72h0M486.18 726.58h0M491.97 715.83h0M491.88 716.21h0M492.17 713.31h0M489.27 720.96h0M490.51 718.62h0M488.52 721.91h0M487.13 720.99h0M489.96 720.4h0M493.51 712.47h0M489.94 717.86h0M489.84 716.92h0M487.89 722.46h0M486.96 720.55h0M490.86 717.91h0M487.46 722.14h0M490.96 713.92h0M493.02 712.49h0M491.35 715.52h0M490 718.5h0M493.8 712.77h0M485.43 727.17h0M492.28 715.96h0M490.17 717.77h0M490.03 716.1h0M488.71 720.57h0M487.63 723.08h0M494.17 714.88h0M492.12 715.8h0M490.79 716.74h0M490.92 716.43h0M490.2 718.31h0M485.92 721.07h0M487.3 723.89h0M489.55 717.91h0M485.97 723.12h0M491.21 716.22h0M490.26 717.59h0M488.53 720.84h0M494.13 714.78h0M492.56 714.64h0M487.15 724.01h0M486.4 724.13h0M491.86 714.15h0M492.08 713.28h0M492.88 711.73h0M486.61 725.35h0M486.42 724.14h0M491.13 716.29h0M487.78 720.29h0M485.83 724.5h0M489.13 716.64h0M495.41 713.93h0M491.47 716.48h0M488.39 720.44h0M493.38 714.1h0M488.9 717.78h0M489.88 718.74h0M492.76 714.47h0M488.77 721.42h0M486.16 726.02h0M490.17 719.32h0M488.71 720.61h0M488.17 721.13h0M491.98 715.63h0M486.59 723.02h0M490.06 719.05h0M493.72 713.31h0M485.91 727.43h0M490.95 716.53h0M488.6 719.81h0M491.2 717.13h0M490.85 717.26h0M490.72 716.32h0M493.42 714.38h0M494.95 711.03h0" stroke="#1fc01f" stroke-width="1.55" stroke-linecap="round" fill="none"/>
<path d="M486.59 720.07h0M484.16 725.15h0M486.39 718.66h0M485.38 721.79h0M487.68 718.79h0M487.6 718.11h0M483.49 727.9h0M483.96 725.88h0M489.43 718.1h0M485.72 721.65h0M487.45 721.49h0M487.78 716.57h0M486.7 718.48h0M488.59 720.06h0M492.3 714.42h0M485.35 724.18h0M483.67 726.35h0M485 723.74h0M486.02 724.73h0M490.43 715.12h0M484.45 723.17h0M482.29 726.99h0M488.61 717.83h0M489.89 716.42h0M488.19 717.72h0M488.36 718.45h0M485.73 723.01h0M483.74 723.64h0M482.61 725.12h0M485.78 724h0M485.3 723.95h0M483.97 727.33h0M484.65 726.22h0M492 714.06h0M491.48 715.35h0M484.45 727.06h0M487.33 717.92h0M486.44 721.78h0M486.64 721.75h0M485.7 721.94h0M484.62 724.04h0M486.47 722.15h0M487.82 720.89h0M484.58 724.21h0M488.54 718.44h0M483.45 726h0M488.21 718.97h0M482.71 726.5h0M485.83 722.89h0M486.54 722.79h0M484.16 725.2h0M485.12 723.95h0M482.65 727.73h0M483.37 726.73h0M487.42 718.97h0M489.59 717.11h0M485.74 722.07h0M484.04 725.63h0M488.85 716.71h0M486.55 720.69h0M484.97 721.41h0M484.85 723.08h0M485.91 722.01h0M484.13 722.83h0M482.79 725.99h0M484.53 727.37h0M491.08 715.57h0M486.9 720.8h0M483.11 726.72h0M484.41 723.01h0M490.57 715.36h0M490.29 717.09h0M484.39 723.75h0M489.58 716.7h0M492.1 714.59h0M490.45 716.18h0M488.42 717.05h0M484.77 725.19h0M490.76 715.36h0M486.11 720.23h0M485.52 722.43h0M489.19 716.31h0M485.16 721.17h0M490.84 714.87h0M484.42 723.48h0M492.11 715.25h0M484.17 724.52h0M485.47 725h0M483.95 725.18h0M484.53 728.07h0" stroke="#f0e080" stroke-width="1.55" stroke-linecap="round" fill="none"/>
<path d="M633.1 722.13h0M629.89 723.22h0M634.75 721.89h0M621.92 720.64h0M616.66 718.46h0M624.08 722.75h0M634.25 721.92h0M631.56 723.88h0M631.59 722.64h0M619.08 719.63h0M635.23 720.94h0M629.49 723.08h0M627.94 722.3h0M612.84 715.12h0M615.95 718.25h0M620.2 721.34h0M634.34 721.4h0M635.96 722.32h0M614.6 716.89h0M629.23 722.4h0M628.57 723.04h0M616.98 718.53h0M635.83 721.76h0M621 722.21h0M623.69 723.03h0M635.27 722.3h0M616.53 718.02h0M618.31 720.48h0M622.45 722.09h0M623.24 721.57h0M631.56 722.42h0M625.72 721.64h0M616 718.13h0M612.6 713.73h0M617.75 719.05h0M627.2 723.32h0M628.49 722.32h0M617.24 718.4h0M624.97 722.13h0M632.77 721.77h0M615.4 716.45h0M626.17 722.15h0M617.05 720.65h0M626.47 722.93h0M627.16 723.03h0M613.85 715.86h0M635.2 720.9h0M635.69 721.64h0M621.88 722.49h0M626.21 723.53h0M623.91 721.44h0M625.2 722.42h0M614.93 716.17h0M615.36 715.77h0M629.8 723.04h0M630.12 723.71h0M628.24 722.89h0M625.71 721.79h0M636.37 722.61h0M621.28 721.18h0M616.31 718.37h0M633.52 721.81h0M626.63 722.33h0M617.64 718.68h0M613.4 715.12h0M627.6 722.26h0M631.21 723.2h0M629.43 722.28h0M634.24 722.49h0M632.92 722.26h0M629.85 722.45h0M618.81 719.4h0M636.1 722.1h0M614.78 716.38h0M632.62 722.89h0M634.24 721.96h0M619.67 720.95h0M636.66 722.88h0M633.13 721.98h0M629.81 722.41h0M615.71 717.48h0M625.76 722.89h0M626.56 722.73h0M620.26 721.44h0M613 715.14h0M618.36 719.62h0M629.97 722.39h0M624.96 722.18h0M615.41 715.52h0M613.2 713.39h0M632.4 721.99h0M614.74 715.42h0M622.48 722.32h0M634.44 722.15h0M636.67 721.58h0M616.3 717.43h0M622.45 721.35h0M625.73 722.99h0M623.25 722.88h0M615.66 716.74h0M619.99 720.66h0M635.4 722.55h0M635.88 721.36h0M621.86 721.78h0M619.86 721.02h0M623.71 722.61h0M615.72 717.38h0M613.41 715.44h0M630.14 723.99h0M635.5 721.8h0M633.41 722.33h0M621.96 721.58h0M629.03 723.76h0M628.4 722.93h0M617.42 719.54h0M625.99 722.55h0M634.48 722.08h0M626.17 721.47h0M630.07 722.96h0M634.17 721.77h0M618.43 719.25h0M637.05 721.99h0M635.49 722h0M619.85 719.61h0M618.03 719.33h0M615.54 717.43h0M616.72 718.67h0M615.43 715.96h0M633.04 721.47h0M617.38 719.51h0" stroke="#c81ac8" stroke-width="1.55" stroke-linecap="round" fill="none"/>
<path d="M614.69 716.91h0M614.81 714.75h0M620.99 718.3h0M614.63 716.78h0M613.57 715.79h0M617 717.87h0M620.36 718.27h0M619.37 718.44h0M614.53 716.72h0M612.58 715.18h0M613.9 715.26h0M616.25 716.67h0M619.23 718.19h0M614.09 717.17h0M618.48 717.25h0M614.63 716.52h0M616.97 718.48h0M614.7 717.14h0M616.97 718.39h0M618.88 721.28h0M611.92 714.02h0M616.27 719.28h0M617.2 718.24h0M612.5 715.77h0M613.01 713.73h0M614.12 717.45h0M613.34 715.97h0M617.28 719.5h0M614.82 716.83h0M612.13 715.44h0M615.63 716.95h0M611.71 713.92h0M612.54 714.61h0M615.74 716.99h0M614.53 715.53h0M612.65 714.72h0M619.13 720h0M615.49 717.8h0M617.49 717.69h0M616.87 715.62h0M618.35 718.86h0M616.91 720.12h0M614.1 716.05h0M619.12 718.12h0M617.87 718.32h0M616.96 718.3h0M618.67 720.36h0M616.13 716.35h0M616.96 717.27h0M617.68 718.23h0M618.53 718.92h0M617.99 718.29h0M619.19 718.92h0M614.95 716.76h0M621.09 718.13h0M610.87 715.34h0M620.39 718.97h0M617.19 718.98h0M618.47 717.48h0M619.43 719.98h0M617.31 718.65h0M619.99 720.97h0M613.53 716.27h0M613.87 718.01h0M613.5 714.85h0M618.98 719.86h0M614.27 716.13h0M613.75 715.58h0M619.5 718.94h0M613.83 717.4h0M630.31 723.48h0M627.54 723.43h0M622.85 722.05h0M630.95 722.27h0M637.89 723.07h0M629.44 722.65h0M636.33 720.99h0M634.92 722.84h0M630.97 721.66h0M626.03 721.61h0M627.89 722.78h0M629.35 723.03h0M635.31 722.66h0M633.72 723.79h0M624.49 724.53h0M630.17 722.69h0M631.36 722.79h0M625.31 721.77h0M629.82 722.68h0M627.6 723.19h0M630.14 724.47h0M629.91 722.91h0" stroke="#30c030" stroke-width="1.55" stroke-linecap="round" fill="none"/>
<path d="M617.15 719.15h0M617.22 718.53h0M618.45 717.63h0M618.99 719.05h0M618.86 717.26h0M618.7 718.78h0M617.79 718.14h0M619.8 717.34h0M618.55 718.71h0M618.17 717.87h0M618.44 718.11h0M617.7 716.4h0M619.68 717.18h0M617.84 718.66h0M618.17 717.71h0M617.68 717.64h0M619.02 718.82h0M619.36 716.8h0M618.38 718.48h0M617.92 717.07h0M618.4 718.87h0M617.65 718.6h0M619.33 717.3h0M617.58 717.63h0M618.37 717.32h0M618.74 719.93h0M619.53 718.98h0M618.63 718.94h0M632.27 725.6h0M633.91 727.42h0M633.38 725.52h0M632.84 724.54h0M633.43 726.87h0M633.51 725.33h0M632.66 724.53h0M634.11 725.38h0M633.95 724.59h0M633.56 726.12h0M632.76 724.9h0M635.25 726.85h0M634.06 724.8h0M634.19 725.94h0M634.47 725.29h0M632.69 724.45h0M631.51 723.88h0M632.55 725.4h0M622.44 719.29h0M631.19 724.54h0M627.4 723.09h0M622.68 719.05h0M627.88 723.35h0M624.03 721.19h0" stroke="#f0e440" stroke-width="1.55" stroke-linecap="round" fill="none"/>
</g>
<path d="M420.27 650.48h0M423.51 649.23h0M423.59 647.5h0M419.66 651.68h0M421.33 652.04h0M417.31 658h0M416.89 659.59h0M419.06 651.81h0M419.18 654.89h0M416.91 656.91h0M422.55 650.06h0M419.45 656.28h0M423.04 647.53h0M417.68 657.32h0M416.78 660.18h0M422.57 649.43h0M422.48 649.81h0M422.77 646.91h0M419.87 654.56h0M421.11 652.22h0M419.12 655.51h0M417.73 654.59h0M420.56 654h0M424.11 646.07h0M420.54 651.46h0M420.44 650.52h0M418.49 656.06h0M417.56 654.15h0M421.46 651.51h0M418.06 655.74h0M421.56 647.52h0M423.62 646.09h0M421.95 649.12h0M420.6 652.1h0M424.4 646.37h0M416.03 660.77h0M422.88 649.56h0M420.77 651.37h0M420.63 649.7h0M419.31 654.17h0" stroke="#58f058" stroke-width="0.8" stroke-linecap="round" fill="none" opacity="0.6"/>
<path d="M484.34 660.83h0M491.29 647.19h0M485.54 657.14h0M484.65 658.52h0M483.99 661.26h0M486.64 656.11h0M485.79 660.79h0M490.3 647.13h0M486.13 658.98h0M484.1 664.77h0M484.75 658.52h0M489.12 650.95h0M490.7 646.85h0M483.6 661.8h0M484.33 657.42h0M490.74 648.27h0M483.55 658.97h0M482.97 662.04h0M483.82 663.75h0M485.21 653.95h0M483.65 663.51h0M485.33 657.1h0M483.86 658.98h0M489.58 648.57h0M489.69 650.51h0M490.81 647.4h0M491.01 648.18h0M487.48 650.71h0M489.92 648.81h0M489.61 649.89h0M485.69 654.77h0M486.17 655.83h0M486.37 659.33h0M484.51 660.6h0M488.16 652.17h0M486.4 653.36h0M484.5 661.18h0M486.14 655.7h0M485.31 662.22h0M486.89 653.81h0M487.58 649.5h0M483.49 663.66h0M487.28 650.42h0M484.86 660.02h0M483.75 663.04h0M482.84 663.55h0M489.79 648.12h0M487.57 652.07h0M488.36 651.18h0" stroke="#f860f8" stroke-width="0.8" stroke-linecap="round" fill="none" opacity="0.6"/>
<path d="M418.69 720.57h0M416.26 725.65h0M418.49 719.16h0M417.48 722.29h0M419.78 719.29h0M419.7 718.61h0M415.59 728.4h0M416.06 726.38h0M421.53 718.6h0M417.82 722.15h0M419.55 721.99h0M419.88 717.07h0M418.8 718.98h0M420.69 720.56h0M424.4 714.92h0M417.45 724.68h0M415.77 726.85h0M417.1 724.24h0M418.12 725.23h0M422.53 715.62h0M416.55 723.67h0M414.39 727.49h0M420.71 718.33h0M421.99 716.92h0M420.29 718.22h0M420.46 718.95h0M417.83 723.51h0M415.84 724.14h0M414.71 725.62h0M417.88 724.5h0M417.4 724.45h0M416.07 727.83h0M416.75 726.72h0M424.1 714.56h0M423.58 715.85h0M416.55 727.56h0M419.43 718.42h0M418.54 722.28h0M418.74 722.25h0M417.8 722.44h0" stroke="#fff250" stroke-width="0.8" stroke-linecap="round" fill="none" opacity="0.6"/>
<path d="M546.89 650.01h0M547.01 647.85h0M553.19 651.4h0M546.83 649.88h0M545.77 648.89h0M549.2 650.97h0M552.56 651.37h0M551.57 651.54h0M546.73 649.82h0M544.78 648.28h0M546.1 648.36h0M548.45 649.77h0M551.43 651.29h0M546.29 650.27h0M550.68 650.35h0M546.83 649.62h0M549.17 651.58h0M546.9 650.24h0M549.17 651.49h0M551.08 654.38h0M544.12 647.12h0M548.47 652.38h0M549.4 651.34h0M544.7 648.87h0M545.21 646.83h0M546.32 650.55h0M545.54 649.07h0M549.48 652.6h0M547.02 649.93h0M544.33 648.54h0M547.83 650.05h0M543.91 647.02h0M544.74 647.71h0M547.94 650.09h0M546.73 648.63h0M544.85 647.82h0M551.33 653.1h0M547.69 650.9h0M549.69 650.79h0M549.07 648.72h0M550.55 651.96h0" stroke="#50e850" stroke-width="0.8" stroke-linecap="round" fill="none" opacity="0.6"/>
<path d="M633.1 655.23h0M629.89 656.32h0M634.75 654.99h0M621.92 653.74h0M616.66 651.56h0M624.08 655.85h0M634.25 655.02h0M631.56 656.98h0M631.59 655.74h0M619.08 652.73h0M635.23 654.04h0M629.49 656.18h0M627.94 655.4h0M612.84 648.22h0M615.95 651.35h0M620.2 654.44h0M634.34 654.5h0M635.96 655.42h0M614.6 649.99h0M629.23 655.5h0M628.57 656.14h0M616.98 651.63h0M635.83 654.86h0M621 655.31h0M623.69 656.13h0M635.27 655.4h0M616.53 651.12h0M618.31 653.58h0M622.45 655.19h0M623.24 654.67h0M631.56 655.52h0M625.72 654.74h0M616 651.23h0M612.6 646.83h0M617.75 652.15h0M627.2 656.42h0M628.49 655.42h0M617.24 651.5h0M624.97 655.23h0M632.77 654.87h0M615.4 649.55h0M626.17 655.25h0M617.05 653.75h0M626.47 656.03h0M627.16 656.13h0M613.85 648.96h0M635.2 654h0M635.69 654.74h0M621.88 655.59h0M626.21 656.63h0M623.91 654.54h0M625.2 655.52h0M614.93 649.27h0M615.36 648.87h0M629.8 656.14h0M630.12 656.81h0M628.24 655.99h0M625.71 654.89h0" stroke="#f050f0" stroke-width="0.8" stroke-linecap="round" fill="none" opacity="0.6"/>
<path d="M548.35 718.45h0M548.42 717.83h0M549.65 716.93h0M550.19 718.35h0M550.06 716.56h0M549.9 718.08h0M548.99 717.44h0M551 716.64h0M549.75 718.01h0M549.37 717.17h0M549.64 717.41h0M548.9 715.7h0M550.88 716.48h0M549.04 717.96h0M549.37 717.01h0M548.88 716.94h0M550.22 718.12h0M550.56 716.1h0M549.58 717.78h0M549.12 716.37h0M549.6 718.17h0M548.85 717.9h0M550.53 716.6h0" stroke="#fff250" stroke-width="0.8" stroke-linecap="round" fill="none" opacity="0.6"/>
<path d="M484.34 726.53h0M491.29 712.89h0M485.54 722.84h0M484.65 724.22h0M483.99 726.96h0M486.64 721.81h0M485.79 726.49h0M490.3 712.83h0M486.13 724.68h0M484.1 730.47h0M484.75 724.22h0M489.12 716.65h0M490.7 712.55h0M483.6 727.5h0M484.33 723.12h0M490.74 713.97h0M483.55 724.67h0M482.97 727.74h0M483.82 729.45h0M485.21 719.65h0M483.65 729.21h0M485.33 722.8h0M483.86 724.68h0M489.58 714.27h0M489.69 716.21h0M490.81 713.1h0M491.01 713.88h0M487.48 716.41h0M489.92 714.51h0M489.61 715.59h0M485.69 720.47h0M486.17 721.53h0M486.37 725.03h0M484.51 726.3h0M488.16 717.87h0M486.4 719.06h0M484.5 726.88h0M486.14 721.4h0M485.31 727.92h0M486.89 719.51h0M487.58 715.2h0M483.49 729.36h0M487.28 716.12h0M484.86 725.72h0M483.75 728.74h0M482.84 729.25h0M489.79 713.82h0M487.57 717.77h0M488.36 716.88h0" stroke="#f860f8" stroke-width="0.8" stroke-linecap="round" fill="none" opacity="0.6"/>
<path d="M489.67 716.88h0M492.91 715.63h0M492.99 713.9h0M489.06 718.08h0M490.73 718.44h0M486.71 724.4h0M486.29 725.99h0M488.46 718.21h0M488.58 721.29h0M486.31 723.31h0M491.95 716.46h0M488.85 722.68h0M492.44 713.93h0M487.08 723.72h0M486.18 726.58h0M491.97 715.83h0M491.88 716.21h0M492.17 713.31h0M489.27 720.96h0M490.51 718.62h0M488.52 721.91h0M487.13 720.99h0M489.96 720.4h0M493.51 712.47h0M489.94 717.86h0M489.84 716.92h0M487.89 722.46h0M486.96 720.55h0M490.86 717.91h0M487.46 722.14h0M490.96 713.92h0M493.02 712.49h0M491.35 715.52h0M490 718.5h0M493.8 712.77h0M485.43 727.17h0M492.28 715.96h0M490.17 717.77h0M490.03 716.1h0M488.71 720.57h0" stroke="#58f058" stroke-width="0.8" stroke-linecap="round" fill="none" opacity="0.6"/>
<path d="M486.59 720.07h0M484.16 725.15h0M486.39 718.66h0M485.38 721.79h0M487.68 718.79h0M487.6 718.11h0M483.49 727.9h0M483.96 725.88h0M489.43 718.1h0M485.72 721.65h0M487.45 721.49h0M487.78 716.57h0M486.7 718.48h0M488.59 720.06h0M492.3 714.42h0M485.35 724.18h0M483.67 726.35h0M485 723.74h0M486.02 724.73h0M490.43 715.12h0M484.45 723.17h0M482.29 726.99h0M488.61 717.83h0M489.89 716.42h0M488.19 717.72h0M488.36 718.45h0M485.73 723.01h0M483.74 723.64h0M482.61 725.12h0M485.78 724h0M485.3 723.95h0M483.97 727.33h0M484.65 726.22h0M492 714.06h0M491.48 715.35h0M484.45 727.06h0M487.33 717.92h0M486.44 721.78h0M486.64 721.75h0M485.7 721.94h0" stroke="#fff8d0" stroke-width="0.8" stroke-linecap="round" fill="none" opacity="0.6"/>
<path d="M633.1 722.13h0M629.89 723.22h0M634.75 721.89h0M621.92 720.64h0M616.66 718.46h0M624.08 722.75h0M634.25 721.92h0M631.56 723.88h0M631.59 722.64h0M619.08 719.63h0M635.23 720.94h0M629.49 723.08h0M627.94 722.3h0M612.84 715.12h0M615.95 718.25h0M620.2 721.34h0M634.34 721.4h0M635.96 722.32h0M614.6 716.89h0M629.23 722.4h0M628.57 723.04h0M616.98 718.53h0M635.83 721.76h0M621 722.21h0M623.69 723.03h0M635.27 722.3h0M616.53 718.02h0M618.31 720.48h0M622.45 722.09h0M623.24 721.57h0M631.56 722.42h0M625.72 721.64h0M616 718.13h0M612.6 713.73h0M617.75 719.05h0M627.2 723.32h0M628.49 722.32h0M617.24 718.4h0M624.97 722.13h0M632.77 721.77h0M615.4 716.45h0M626.17 722.15h0M617.05 720.65h0M626.47 722.93h0M627.16 723.03h0M613.85 715.86h0M635.2 720.9h0M635.69 721.64h0M621.88 722.49h0M626.21 723.53h0M623.91 721.44h0M625.2 722.42h0M614.93 716.17h0M615.36 715.77h0M629.8 723.04h0M630.12 723.71h0M628.24 722.89h0M625.71 721.79h0" stroke="#f050f0" stroke-width="0.8" stroke-linecap="round" fill="none" opacity="0.6"/>
<path d="M614.69 716.91h0M614.81 714.75h0M620.99 718.3h0M614.63 716.78h0M613.57 715.79h0M617 717.87h0M620.36 718.27h0M619.37 718.44h0M614.53 716.72h0M612.58 715.18h0M613.9 715.26h0M616.25 716.67h0M619.23 718.19h0M614.09 717.17h0M618.48 717.25h0M614.63 716.52h0M616.97 718.48h0M614.7 717.14h0M616.97 718.39h0M618.88 721.28h0M611.92 714.02h0M616.27 719.28h0M617.2 718.24h0M612.5 715.77h0M613.01 713.73h0M614.12 717.45h0M613.34 715.97h0M617.28 719.5h0M614.82 716.83h0M612.13 715.44h0M615.63 716.95h0M611.71 713.92h0M612.54 714.61h0M615.74 716.99h0M614.53 715.53h0M612.65 714.72h0M619.13 720h0M615.49 717.8h0M617.49 717.69h0M616.87 715.62h0M618.35 718.86h0" stroke="#60f060" stroke-width="0.8" stroke-linecap="round" fill="none" opacity="0.6"/>
<path d="M617.15 719.15h0M617.22 718.53h0M618.45 717.63h0M618.99 719.05h0M618.86 717.26h0M618.7 718.78h0M617.79 718.14h0M619.8 717.34h0M618.55 718.71h0M618.17 717.87h0M618.44 718.11h0M617.7 716.4h0M619.68 717.18h0M617.84 718.66h0M618.17 717.71h0M617.68 717.64h0M619.02 718.82h0M619.36 716.8h0M618.38 718.48h0M617.92 717.07h0M618.4 718.87h0M617.65 718.6h0M619.33 717.3h0" stroke="#fff8a0" stroke-width="0.8" stroke-linecap="round" fill="none" opacity="0.6"/>
<text x="389.5" y="632.6" font-size="8.05" fill="#25d025">HA-RIP1</text>
<text x="457.2" y="632.6" font-size="8.05" fill="#e425e4">Flag-RIP3</text>
<text x="524.8" y="632.6" font-size="8.05" fill="#25d025">HA-RIP1</text>
<text x="592.2" y="632.6" font-size="8.05" fill="#e425e4">Flag-RIP3</text>
<text x="389.5" y="698.6" font-size="8.05" fill="#ece020">p-MLKL</text>
<text x="458.7" y="698.6" font-size="8.05" fill="#fff">Merge</text>
<text x="524.8" y="698.6" font-size="8.05" fill="#ece020">p-MLKL</text>
<text x="593.7" y="698.6" font-size="8.05" fill="#fff">Merge</text>
<line x1="430.4" y1="683.4" x2="447.7" y2="683.4" stroke="#e0e0e0" stroke-width="1.2" />
<line x1="499.2" y1="683.4" x2="516.5" y2="683.4" stroke="#e0e0e0" stroke-width="1.2" />
<line x1="565.8" y1="683.4" x2="583.2" y2="683.4" stroke="#e0e0e0" stroke-width="1.2" />
<line x1="632.5" y1="683.4" x2="649.8" y2="683.4" stroke="#e0e0e0" stroke-width="1.2" />
<line x1="429.5" y1="749.8" x2="446.8" y2="749.8" stroke="#e0e0e0" stroke-width="1.2" />
<line x1="500.2" y1="749.8" x2="516.5" y2="749.8" stroke="#e0e0e0" stroke-width="1.2" />
<line x1="564.7" y1="749.8" x2="582.1" y2="749.8" stroke="#e0e0e0" stroke-width="1.2" />
<line x1="635.2" y1="749.8" x2="649.4" y2="749.8" stroke="#e0e0e0" stroke-width="1.2" />
<text x="456.6" y="739.5" font-size="6.7" fill="#fff">RIP3/RIP1 = 3.024</text>
<text x="456.6" y="749.4" font-size="6.7" fill="#fff">p-MLKL = 575</text>
<text x="591.6" y="739.5" font-size="6.7" fill="#fff">RIP3/RIP1 = 4.603</text>
<text x="591.6" y="749.4" font-size="6.7" fill="#fff">p-MLKL = 109</text>
<text x="388.5" y="752.2" font-size="7.6" fill="#fff">1</text>
<text x="523.9" y="752.2" font-size="7.6" fill="#fff">2</text>
</g>
<g id="panel_h">
<text x="0.1" y="800" font-size="9.5">h</text>
<rect x="54.4" y="809.5" width="151.1" height="80.6" fill="#fff" stroke="#111" stroke-width="0.9" />
<line x1="51.8" y1="821.6" x2="54.4" y2="821.6" stroke="#111" stroke-width="0.8" />
<text x="46.2" y="824" font-size="6.6" text-anchor="end" fill="#111">100%</text>
<line x1="51.8" y1="862.3" x2="54.4" y2="862.3" stroke="#111" stroke-width="0.8" />
<text x="46.2" y="864.7" font-size="6.6" text-anchor="end" fill="#111">50%</text>
<line x1="52.8" y1="841.95" x2="54.4" y2="841.95" stroke="#111" stroke-width="0.7" />
<line x1="52.8" y1="882.65" x2="54.4" y2="882.65" stroke="#111" stroke-width="0.7" />
<line x1="65.4" y1="890.1" x2="65.4" y2="892.7" stroke="#111" stroke-width="0.8" />
<text x="65.4" y="903.2" font-size="6.8" text-anchor="middle" fill="#111">1</text>
<line x1="86.87" y1="890.1" x2="86.87" y2="892.7" stroke="#111" stroke-width="0.8" />
<text x="86.87" y="903.2" font-size="6.8" text-anchor="middle" fill="#111">2</text>
<line x1="108.34" y1="890.1" x2="108.34" y2="892.7" stroke="#111" stroke-width="0.8" />
<text x="108.34" y="903.2" font-size="6.8" text-anchor="middle" fill="#111">3</text>
<line x1="129.81" y1="890.1" x2="129.81" y2="892.7" stroke="#111" stroke-width="0.8" />
<text x="129.81" y="903.2" font-size="6.8" text-anchor="middle" fill="#111">4</text>
<line x1="151.28" y1="890.1" x2="151.28" y2="892.7" stroke="#111" stroke-width="0.8" />
<text x="151.28" y="903.2" font-size="6.8" text-anchor="middle" fill="#111">5</text>
<line x1="172.75" y1="890.1" x2="172.75" y2="892.7" stroke="#111" stroke-width="0.8" />
<text x="172.75" y="903.2" font-size="6.8" text-anchor="middle" fill="#111">6</text>
<line x1="194.22" y1="890.1" x2="194.22" y2="892.7" stroke="#111" stroke-width="0.8" />
<text x="194.22" y="903.2" font-size="6.8" text-anchor="middle" fill="#111">7</text>
<text x="129.3" y="913.6" font-size="8.1" text-anchor="middle" fill="#111">Molecule of RIP3 per subunit</text>
<text x="25.2" y="856.6" font-size="8.5" text-anchor="middle" fill="#111" transform="rotate(-90 25.2 856.6)">p-MLKL</text>
<text x="194.1" y="804" font-size="9.3" text-anchor="middle" fill="#111" font-style="italic">Sim.</text>
<text x="201.1" y="817.3" font-size="6.3" text-anchor="end" fill="#111">time = 4h</text>
<path d="M64.65 855.24h0M66.19 825.67h0M65.37 864.09h0M65.98 848.33h0M65.11 848.68h0M65.05 870.61h0M65.26 861.19h0M65.14 855.1h0M66 839.74h0M64.72 871.21h0M64.26 873.58h0M66.28 867.05h0M65.77 827.46h0M65.82 846.43h0M64.61 838.86h0M65.36 856.47h0M64.64 866.11h0M63.73 877.5h0M66.72 831.13h0M63.81 853.87h0M65.91 833.82h0M64.49 840.72h0M66.62 877.43h0M66.16 843.35h0M65.57 862.02h0M65.23 824.52h0M67.05 840.53h0M63.87 868.95h0M65.24 841.12h0M65.28 851.12h0M66.95 830.75h0M65.82 867.75h0M64.46 843.16h0M65.64 855.36h0M66.29 857.53h0M65.05 860.55h0M66.36 847.89h0M65.27 839.15h0M66.5 856.31h0M65.54 825.36h0M65.08 848.11h0M64.73 863.33h0M64.48 840.63h0M63.56 852.58h0M64.95 848.46h0M65.92 856.79h0M65.43 850.19h0M65.21 861h0M65.6 845.52h0M64.84 851.94h0M65.08 827.7h0M66.05 846.55h0M64.8 831.48h0M66.39 847.26h0M64.89 842.45h0M65.3 868.95h0M65.8 847.21h0M64.33 841.34h0M65.57 847.62h0M64.79 851.39h0M65.81 851.17h0M65.18 867.29h0M63.61 877.27h0M66.19 834.44h0M64.9 868.86h0M64.57 849.1h0M64.84 840.86h0M65.05 824.52h0M66.91 860.85h0M64.62 854.31h0M65.72 861.31h0M66 851.4h0M64.84 867.16h0M64.93 864.82h0M65.08 862.43h0M65.83 863.47h0M66.68 862.71h0M64.72 822.42h0M66.01 870.3h0M65.6 854.72h0M65.41 853.08h0M65.35 842.63h0M66.95 840.87h0M65.15 853.96h0M64.71 848.3h0M66.33 849.7h0M66.13 848.73h0M66.11 843.29h0M64.64 844.19h0M66.18 843.29h0M64.7 856.88h0M65.72 860.03h0M64.82 859.76h0M65.55 859.79h0M63.93 851.63h0M66.14 842.96h0M65.33 866.29h0M66.29 863.36h0M65.71 871.69h0M64.25 853.58h0M65.85 856.55h0M65.41 824.48h0M65.77 841.8h0M65.06 864.21h0M64.7 864.29h0M64.05 854.43h0M65.5 824.03h0M64.45 827.98h0M66.06 874.34h0M65.67 863.81h0M65.4 844.23h0M66.51 844.05h0M64.91 850.78h0M66.07 853.91h0M65.39 845.12h0M64.93 864.34h0M64.26 850.96h0M65.52 830.36h0M66.24 861.39h0M64.92 860.51h0M65.73 846.87h0M66.41 845.82h0M65.04 875.39h0M66.6 864.58h0M65.43 846.87h0M65.57 850.36h0M64.8 849.69h0M66.64 868.73h0M63.91 856.89h0M65.7 853.2h0M65.9 860.57h0M64.77 875.77h0M65.52 845.73h0M66.67 875.69h0M65.63 835.56h0M65.97 860.08h0M65.35 872.39h0M67 851.58h0M66.67 826.81h0M66.23 849.57h0M66.12 859.2h0M65.43 853.47h0M66.17 856.47h0M65.18 842.4h0M66.67 858.9h0M66.49 827.43h0M65.59 842.96h0M64.07 859.21h0M65.27 867.14h0M66.73 859.68h0M64.66 842.22h0M65.43 860h0M64.71 844.3h0M64.5 865.68h0M65.8 828.9h0M65.22 860.56h0M64.87 855.56h0M64.69 844.13h0M65.43 860.42h0M64.4 842.12h0M65.56 850.38h0M65.23 846.27h0M65 841.83h0M66.11 862.11h0M65.88 864.38h0M65.81 842.2h0M65.61 862.73h0M65.88 861.25h0M65.02 863.93h0M65.15 844.65h0M65.58 855.96h0M65.98 823.68h0M66.15 871.91h0M65.15 856.41h0M65.14 876.71h0M64.78 849.11h0M66.77 862.7h0M65.42 849.54h0M65.74 852.71h0M66.32 853.91h0M63.55 846.88h0M64.59 829.59h0M66.12 856.9h0M65.64 841.15h0M64.68 866.88h0M66.85 829.52h0M66.54 855.66h0M64.84 841.24h0M65.95 874.18h0M64.74 849.16h0M65.87 840.09h0M65.65 853.81h0M64.38 852.1h0M65.94 852.83h0M66.12 844.48h0M66.95 842.55h0M64.93 854.79h0M65.08 845.11h0M64.89 830.03h0M65.53 843.96h0M65.78 843.88h0M65.47 853.61h0M64.62 839.48h0M65.66 824.86h0M67.45 850.78h0M65.75 841.65h0M64.87 843.78h0M64.89 840.37h0M65.61 837.4h0M64.53 838.83h0M65.85 846.83h0M64.36 841.63h0M65.34 876.28h0M65.36 841.53h0M66.5 839.91h0M65.79 833.24h0M65.99 848.71h0M63.71 823.92h0M65.72 857.13h0M65.29 864.47h0M64.79 850.57h0M66.44 831.78h0M65.92 863.1h0M64.53 842.32h0M65.57 845.73h0M64.5 843.93h0M65.21 855.92h0M64.63 843.45h0M64.08 823.29h0M65.68 827.44h0M64.37 864.28h0M64.12 847.19h0M65.01 863.04h0M66.07 850.86h0M65.05 827.88h0M65.24 858.4h0M66.06 840.27h0M66.34 839.15h0M65.59 868.01h0M66.41 862.39h0M64.9 866.16h0M65.29 841.19h0M67.46 828.3h0M65.71 865.78h0M65.66 852.85h0M66.88 857.94h0M64.78 870.82h0M66.3 842.15h0M65.62 855.29h0M64.9 852.82h0M64.88 826.33h0M66.16 855.49h0M64.75 845.68h0M64.52 849.39h0M65.1 840.77h0M65.54 843.79h0M67.06 862.68h0M63.74 874.16h0M67.04 851.45h0M64.85 849.11h0M67.2 844.79h0M65.37 867.01h0M65.28 841.7h0M64.74 858.11h0M65.26 861.3h0M66.24 861.21h0M65.94 838.09h0M65.81 841.14h0M64.73 861.83h0M63.32 871.06h0M65.06 843.67h0M66.23 855.17h0M65.2 864.55h0M66.27 867.2h0M65.44 846.13h0M65.29 854.83h0M65.91 843.81h0M65.57 848.08h0M65.61 865.99h0M65.37 839.2h0M66.35 849.02h0M65.72 848.21h0M64.86 863.02h0M65.71 851.77h0M66.64 859.81h0M64.64 842.9h0M63.89 866.21h0M65.32 847.24h0M64.34 839.31h0M64.06 848.18h0M65.83 874h0M64.4 854.46h0M64.39 844.33h0M63.12 851.13h0M65.69 852.54h0M64.57 830.7h0M64.07 854.56h0M66.22 874.15h0M64.5 823.71h0M64.94 847.25h0M66.35 873.05h0M66.11 854.35h0M65.07 875.78h0M64.99 832.14h0M65.14 863.81h0M65.98 874.85h0M65.32 850.65h0M65.82 868.4h0M65.5 845.74h0M65.71 861.24h0M65.43 857.34h0M65.32 867.83h0M64.77 846.88h0M65.47 840.22h0M66.47 867.72h0M66.77 868.78h0M65.57 858.23h0M65.61 831.86h0M65.58 863.65h0M65.22 851.94h0M63.58 842.03h0M66.91 842.77h0M64.33 842.63h0M66.82 844.6h0M66 877.83h0M65.32 867.52h0M65.34 860.04h0M65.55 861.39h0M64.43 853.86h0M65.62 854.94h0M63.86 833.23h0M64.36 832.05h0M65.71 869.04h0M65.95 840.4h0M65.67 844.92h0M65.12 865.07h0M65.01 877.53h0M64.5 827.18h0M66.06 852.12h0M66.26 854.09h0M64.72 848.41h0M66.24 874.42h0M64.9 868.77h0M67.54 842.52h0M64.78 860.91h0M66.37 868h0M63.8 853.23h0M65.08 851.59h0M66.16 857.46h0M65.76 865.53h0M63.72 864.61h0M66.9 845.28h0M63.94 865.49h0M66.07 842.25h0M64.78 854.06h0M65.86 871.01h0M65.54 843.22h0M66.16 829.81h0M65.36 848.48h0M65.59 866.62h0M66.12 861.07h0M64.06 846.72h0M65.97 828.76h0M64.87 865.69h0M65.88 844.54h0M64.43 839.65h0M65.65 839.03h0M64.96 850.54h0M64.59 851.86h0M64.55 841.73h0M66.15 860.71h0M65.83 877.54h0M64.57 839.09h0M65.51 868.28h0M63.96 851.45h0M64.57 850.63h0M67.24 858.17h0M65.71 856.13h0M63.85 845.81h0M65.71 847.4h0M64.87 859.04h0M65.3 865.98h0M64.85 854.85h0M64.89 872.96h0M65.48 863.33h0M65.67 848.23h0M65.71 865.12h0M66.85 828.7h0M65.52 844.24h0M65.9 853.86h0M65.54 864.51h0M65.16 850.55h0M65.3 846.37h0M66.63 842.16h0M64.85 852.15h0M65.16 834.06h0M66 856.12h0M66.59 855.09h0M65.15 857.77h0M65.5 870.14h0M65.2 856.29h0M67.1 834.43h0M63.91 877.22h0M67.57 844.2h0M65.28 840.98h0M64.35 854.75h0M63.85 848.76h0M65.01 853.68h0M65.5 863.68h0M65.74 852.94h0M66.15 865.74h0M64.74 868.81h0M66.6 838.31h0M65.48 841.64h0M65.4 855.93h0M66.64 850.44h0M64.86 855.53h0M66.56 850.71h0M65.06 851.13h0M65.22 853.36h0" stroke="#0c2a0c" stroke-width="1.5" stroke-linecap="round" fill="none"/>
<rect x="59.9" y="838.8" width="11" height="30.2" fill="none" stroke="#0c220c" stroke-width="1" />
<line x1="58.2" y1="852.9" x2="72.6" y2="852.9" stroke="#111" stroke-width="1.3" />
<path d="M87.05 835.22h0M87.19 844.75h0M86.63 841.02h0M87.05 830.86h0M87.73 826.32h0M86.58 829.68h0M86.01 828.87h0M86.46 828.78h0M86.69 851.18h0M85.15 839.74h0M84.78 830.32h0M87.45 841.08h0M86.75 838.91h0M87.82 843.54h0M86.55 840.6h0M86.09 831.5h0M86.68 837.05h0M87.03 838.3h0M84.89 840.99h0M86.81 848.84h0M85.63 824.69h0M86.41 829.48h0M86.81 846.05h0M85.95 827.51h0M86.49 838.94h0M86.58 837.95h0M87.2 827.1h0M86.88 836.42h0M86.39 846.36h0M86.47 822.07h0M86.97 839.63h0M87.05 831.17h0M87.13 825.75h0M86.12 838.42h0M87.01 834.05h0M87.74 834.74h0M87.44 833.18h0M87.26 836.14h0M87.05 830.31h0M86.9 828.18h0M86.95 829.75h0M85.79 849.14h0M86.77 833.43h0M87.14 840.45h0M85.9 844.83h0M86.32 826.58h0M84.83 828.21h0M89.15 835.09h0M87.61 829.35h0M86.49 834.5h0M88.05 839.85h0M85.6 839.1h0M86.66 834.48h0M87.52 837.97h0M88.86 845.68h0M87.43 825.6h0M86.98 841.59h0M85.92 825.05h0M86.96 840.91h0M86.85 839.12h0M86.62 837.56h0M85.87 834.31h0M86.42 823.07h0M88.1 834.49h0M86.1 831.85h0M85.8 839.59h0M87.42 831.38h0M87.08 837.63h0M87.28 827.84h0M87.16 829.52h0M86.41 842.84h0M87.59 840.41h0M86.77 835.42h0M86.24 828.9h0M86.06 837.51h0M85.86 841.17h0M86.02 832.33h0M86.85 832.71h0M87.32 848.39h0M86.6 851.53h0M87.77 858.14h0M87.93 826.5h0M86.45 845.29h0M88.39 838.06h0M87.27 828.61h0M86.14 833.8h0M88.81 831.37h0M87.09 832.49h0M88.31 832.4h0M87.73 828.75h0M87.46 830.46h0M86.45 828.62h0M86.11 836.47h0M87.44 842.8h0M87 849.79h0M86.59 828.34h0M88.34 845.78h0M85.88 826.36h0M87.39 824.98h0M86.52 845.26h0M86.43 844.74h0M87.97 844.18h0M86.26 831.57h0M85.98 826.53h0M87.38 824.26h0M86.34 831.18h0M86.08 830.92h0M86.65 830.33h0M85.61 841.45h0M87.39 826.44h0M86.09 843.03h0M86.97 842.99h0M86.79 831.94h0M86.96 834.62h0M85.62 834h0M87.09 846.08h0M87.52 843.45h0M88.14 825.48h0M87.79 842.83h0M85.52 823.96h0M86.9 826.14h0M85.99 851.36h0M87.58 846.98h0M86.16 844.02h0M87.18 825.66h0M86.3 823.06h0M87.8 840.02h0M87.09 829.91h0M85.88 849.45h0M85.94 822.53h0M87.42 835.93h0M86.76 826.63h0M85.69 838.43h0M86.71 840.32h0M86.76 853.72h0M87.44 844.21h0M85.64 832.59h0M86.71 831.37h0M86.78 850.66h0M87.17 848.93h0M87.69 832.93h0M86.65 825.99h0M85.59 837.4h0M88.33 838.91h0M86.18 844.2h0M86.24 834.9h0M87.02 829.08h0M86.21 824.69h0M86.74 833.8h0M86.35 826.73h0M87.37 836.85h0M86.87 845.52h0M86.58 836.59h0M88.01 846.77h0M86.63 833.72h0M86.89 833.77h0M86.06 837.96h0M86.39 841.15h0M86.15 825.17h0M86.62 831.62h0M87.06 824.56h0M87.17 843.43h0M86.68 839.9h0M86.66 830.44h0M86.73 827.24h0M87.46 852.21h0M85.75 827.1h0M87.41 844.7h0M86.52 856.38h0M85.82 831.85h0M87.48 826.51h0M88.17 840.67h0M86.94 843.71h0M85.65 823.57h0M85.79 832.1h0M87.38 849.31h0M86.28 847.68h0M87.62 852.07h0M86.44 831.8h0M86.49 822h0M87.22 839.92h0M87.85 845.64h0M88.02 843.64h0M85.67 842.56h0M86.92 858.56h0M86.07 838.58h0M85.53 840.97h0M86.2 830.61h0M86.13 846.45h0M87.58 838.36h0M88.52 830.21h0M86.66 832.27h0M87.38 840.37h0M85.82 840.12h0M86.13 832.21h0M86.41 849.74h0M85.13 826.1h0M86.04 843.39h0M87.17 823.16h0M85.79 830.78h0M86.26 826.63h0M86.77 851.69h0M86.14 840.91h0M87.52 843.26h0M88.15 850.04h0M87.61 836.59h0M85.4 825.05h0M87.66 833.6h0M87.52 835.11h0M86.38 845.86h0M86.92 829.47h0M86.48 843.29h0M86.95 831.64h0M85.38 837.99h0M89 832.99h0M86.76 828.17h0M87.02 841.78h0M87.33 828.23h0M88.06 838.8h0M85.99 841.61h0M88.07 828.77h0M87.23 830.61h0M86.55 829.27h0M86.99 843.87h0M86.97 827.2h0M88.02 843.93h0M85.8 843.51h0M85.84 825.28h0M87.25 837.99h0M86.93 854.4h0M85.33 852.9h0M86.32 842.57h0M87.38 824.26h0M87.19 826.46h0M86.77 843.27h0M85.18 843.9h0M87.88 831.87h0M87.89 851.46h0M87.31 837.43h0M87.25 840.68h0M88.95 844.86h0M87.26 842.37h0M85.65 857.22h0M87.1 842.69h0M86.63 843.85h0M86.71 833.66h0M87.51 829.61h0M86.98 858.48h0M87.43 853.51h0M85.73 829.44h0M87.24 836.17h0M88.13 836.91h0M87.22 838.02h0M87.38 829.87h0M85.3 857.61h0M88.18 856.85h0M86.65 840.86h0M86.39 836.94h0M88.07 838.75h0M86.1 827.29h0M86.92 845.15h0M86.85 845.94h0M86.19 839.79h0M86.43 836.52h0M87.04 841.68h0M86.21 844.31h0M88.7 854.45h0M87.87 831.59h0M87.05 825.91h0M88.39 853.97h0M86.19 826.17h0M87.51 833.01h0M86.53 843.56h0M88.24 837.2h0M85.91 824.67h0M87 835.85h0M86.91 850.94h0M86.93 837.17h0M86.72 827.75h0M86.4 839.13h0M88.22 838.6h0M86.42 845.09h0M86.24 838.3h0M86.01 840.83h0M87.08 839.97h0M86.84 846.18h0M86.6 842.35h0M86.72 822.28h0M88.39 833.16h0M86.08 832.89h0M87.13 840.98h0M87.05 843.28h0M85.91 831.06h0M87.21 845.29h0M87.26 834.55h0M86.41 842.77h0M87.21 844.04h0M86.18 826.01h0M86.6 838.33h0M87.29 843.62h0M86.18 836.34h0M86.19 832.76h0M87.69 842.42h0M86.25 844.5h0M85.81 827.6h0M85.8 826.2h0M85.55 827.76h0M88.85 849.89h0M86.77 843.12h0M86.94 856.33h0M87.46 834.05h0M86.45 841.46h0M87.85 846.46h0M85.63 829.19h0M85.84 843.35h0M86.98 828.21h0M88.59 835.54h0M88.22 839.11h0M86.12 827.1h0M88.19 844.5h0M87.24 844.15h0M87.65 827.09h0M86.33 832.02h0M86.74 831.04h0M85.51 824.98h0M87.66 829.53h0M86.97 826h0M86.98 843.28h0M86.97 830.21h0M86.56 838.83h0M87.54 835.72h0M87.73 838.72h0M86.79 837.91h0M86.61 832.29h0M86.53 829.94h0M86.35 834.98h0M87.26 825.49h0M87.27 837.37h0M88.2 845.58h0M86.59 831.16h0M86.55 829.59h0M87.32 840.79h0M85.78 838.44h0M87.07 822.84h0M85.77 839.07h0M88.56 834.93h0M86.15 833.67h0M87.16 836.85h0M86.21 841.07h0M86.75 838.52h0M87.67 830.08h0M87.15 856.7h0M86.91 827.69h0M87.41 838.25h0M85.82 834.86h0M87.4 836.64h0M85.78 832.04h0M87.19 835.42h0M86.88 827.88h0M88.36 828.09h0M86.27 835.58h0M87.31 828.64h0M87.78 837.38h0M87.44 846.01h0M86.63 826.84h0M86.18 843.66h0M85.43 851.03h0M85.2 839.11h0M87.29 853.71h0M86.33 836.15h0M87.87 831.75h0M85.68 841.75h0M87.02 829.2h0M86.48 845.08h0M86.15 828.04h0M86.35 825.61h0M85.65 837.83h0M87.35 838.42h0M87.47 834.32h0M86.99 826.43h0M86.18 843.04h0M87.57 840.07h0M88.42 841.26h0M86.88 837.96h0M86.1 840.78h0M87.63 842.68h0M86.95 829.42h0M84.96 828.04h0M87.82 857.53h0M87.88 831.72h0M87.09 832.97h0M85.94 826.54h0M86.81 847.85h0M87.1 829.62h0M87.93 849.45h0M86.06 832.5h0M88.35 853.42h0M86.79 850.16h0M87.55 837.84h0M87.01 829.92h0M86.87 829.97h0M87.23 835.47h0M87.42 845.2h0M87.13 844.91h0M86.89 846.23h0M86.82 834.26h0M86.85 836.9h0M86.19 829.39h0M87.29 838.83h0M87.49 832.19h0M85.95 842.92h0M85.76 843.53h0M87.21 841.55h0M86.92 854.01h0M86.49 840.74h0M86.77 846.5h0M87.56 837.62h0M85.93 829.12h0M87.45 856.23h0M86.31 851.94h0" stroke="#104410" stroke-width="1.5" stroke-linecap="round" fill="none"/>
<rect x="81.37" y="823.7" width="11" height="22.8" fill="none" stroke="#103c10" stroke-width="1" />
<line x1="79.67" y1="835.4" x2="94.07" y2="835.4" stroke="#111" stroke-width="1.3" />
<path d="M107.94 835.86h0M108.69 835.37h0M108.99 823.15h0M108.61 835.48h0M107.64 833.12h0M108.11 833.72h0M107.92 834.43h0M108.63 842.15h0M107.84 831.69h0M107.89 832.47h0M109.11 824.65h0M108.25 842.62h0M110.04 827.13h0M106.9 837.66h0M109.01 836.29h0M106.98 837.02h0M108.86 837.4h0M108.37 833.39h0M108.2 839.2h0M107.9 835.14h0M108.26 846.17h0M109.28 824.41h0M108.26 826.62h0M107.64 844.17h0M107.8 823.07h0M107.01 845.16h0M109.01 838.45h0M107.59 828.29h0M106.74 831.02h0M108.63 843.19h0M108.81 831.88h0M108.59 832.35h0M108.09 824.86h0M108.06 824.13h0M109.05 826.03h0M108.06 833.85h0M108.19 837.22h0M109.29 848.64h0M106.44 823.38h0M108.88 831.89h0M108.36 828.03h0M107.84 829.12h0M108.39 840.59h0M109.31 829.21h0M108.97 833.8h0M108.17 831.86h0M108.8 831.54h0M108.06 831.29h0M107.6 831.02h0M108.57 848.43h0M106.98 827.85h0M109.75 825.14h0M107.49 839.16h0M108.31 837.93h0M109.22 840.43h0M107.8 826.59h0M108.17 826.11h0M108.52 838.15h0M107.82 843.84h0M109.04 836.38h0M106.88 831.95h0M107.87 823.75h0M108.85 837.93h0M109.34 828.06h0M107.32 824.75h0M108.64 835.87h0M108.43 829.48h0M107 833.22h0M108.11 835.61h0M107.75 841.05h0M107.94 838.13h0M109.27 833.41h0M109.08 834.46h0M109 834.89h0M108.56 848.38h0M110.08 831.82h0M108.43 837.54h0M108.98 827.47h0M107.6 828.34h0M108.18 847h0M107.81 832.06h0M107.15 832.7h0M107.93 835.9h0M107.72 823.8h0M108.73 846.08h0M108.27 842.95h0M108.55 833.52h0M108.86 828.23h0M108.96 837.72h0M106.31 837.34h0M108.09 839.4h0M108.77 829.7h0M107.93 834.56h0M107.88 831.73h0M107.26 839.83h0M107.02 833.85h0M108.08 839.82h0M108.75 835.26h0M108.04 830.15h0M108.26 830.93h0M110.3 845.07h0M109.01 839.22h0M108.22 827.95h0M108.77 842.28h0M107.46 843.62h0M109.4 829.01h0M107.92 834.97h0M109.28 836.49h0M107.5 830.47h0M108.04 824.88h0M107.01 824.32h0M109.15 833.94h0M108.19 844.01h0M108.89 827.39h0M107.35 824.98h0M109.15 826.1h0M109.24 827.19h0M107.7 836.27h0M110.19 827.85h0M109.05 825.01h0M106.77 836.39h0M107.46 828.95h0M108.1 834.27h0M107.82 831.89h0M108.09 836.65h0M107.96 833.23h0M108.57 830.62h0M107.49 828.26h0M108.23 839.91h0M108.3 823.73h0M108.36 826.55h0M109.02 828.26h0M106.53 825.86h0M107.62 847.57h0M108.45 834.34h0M110.21 835.33h0M109.52 825.55h0M109.2 833.63h0M108.73 824.09h0M107.17 834.61h0M108.28 822.19h0M106.13 845.69h0M109.41 833.47h0M109.27 832.86h0M106.87 826.58h0M109.38 837.64h0M108.4 827.78h0M109 831.88h0M106.79 834.67h0M108.88 844.3h0M106.07 830.06h0M109.04 837.2h0M109.03 824.86h0M107.48 826.4h0M108.27 835.11h0M108.96 831.68h0M107.46 824.71h0M109.23 823.95h0M108.39 826.84h0M107.77 829.73h0M107.38 824.01h0M108.39 839.92h0M108.88 824.55h0M108.07 826.49h0M108.09 834.24h0M108.9 833.26h0M108.42 825.21h0M109.67 825.66h0M108.19 841.21h0M107.65 833.84h0M108.59 848.33h0M107.91 827.07h0M107.46 837.95h0M108.1 831.7h0M106.95 835.38h0M109.15 845.27h0M106.99 826.62h0M109.07 832.92h0M107.96 836.98h0M109 824.39h0M107.97 830.54h0M108.47 836.08h0M108.43 846.71h0M108.04 830.91h0M108.09 836.27h0M109.71 829.15h0M108.38 830.94h0M108.45 827.37h0M108.3 836.37h0M107.52 835.99h0M108.37 825.32h0M106.6 832.47h0M108.07 835.93h0M108.72 838.06h0M108.02 826.87h0M107.93 832.09h0M109.24 836.32h0M108.85 823.24h0M107.95 828.04h0M106.18 837.53h0M106.88 829.32h0M108.86 831.85h0M107.4 825.97h0M108.58 834.85h0M107.98 831.33h0M108.43 847.71h0M107.74 830.31h0M108.98 828.07h0M108.61 831.82h0M109.48 829.39h0M108.25 836.89h0M108.59 822.31h0M109.09 831.93h0M108.28 828.29h0M109.12 826.04h0M107.77 829.41h0M108.58 846.45h0M110.32 835.26h0M109.07 834.43h0M108 838.58h0M108.92 823.42h0M109.14 824.63h0M108.97 830.74h0M107.91 830.52h0M107.78 846.24h0M108.11 827.92h0M110.19 823.82h0M108.55 828.53h0M108.86 823.09h0M107.37 833.52h0M108.21 836.84h0M108.63 838.47h0M107.95 824.73h0M108.17 836.15h0M109.81 830.49h0M107.67 822.98h0M109.71 837.02h0M110.23 839.56h0M107.26 824.96h0M108.53 836.86h0M107.48 835.38h0M110.14 840.49h0M108.21 838.42h0M108.87 836.29h0M107.86 831.28h0M107.97 830.24h0M108.62 840.18h0M109.48 840.85h0M109.59 824.38h0M108.23 835.64h0M107.59 833.84h0M109.26 829.89h0M108.76 835.56h0M107.83 827.76h0M109.88 831.54h0M108.44 824.79h0M109.21 835.61h0M107.1 845.64h0M107.18 836.72h0M108.38 833.77h0M108.79 837.56h0M109.28 844.17h0M110.44 833.4h0M109.33 837.62h0M107.37 830.8h0M108.08 837.74h0M109.64 832.27h0M109.22 829.57h0M109.46 829.2h0M107.47 830.61h0M107.87 835.69h0M107.79 833.23h0M108.51 831.42h0M107.81 827.44h0M108.13 824.56h0M109.21 839.73h0M108.26 829.99h0M107.9 836.96h0M108.92 824.98h0M109.74 830.61h0M108.85 838.05h0M108.47 834.04h0M108.07 830.7h0M108.22 824.68h0M108.93 822.3h0M109.27 832.95h0M107.66 839.65h0M108.03 831.44h0M108.07 841.19h0M107.41 832.71h0M108.57 839.08h0M107.46 842.66h0M108.38 830.14h0M107.57 832.35h0M108.94 827.91h0M108.29 822.16h0M107.6 832h0M110.11 829.98h0M108.61 838.52h0M107.41 823.86h0M107.64 840.36h0M108.49 829.67h0M107.72 833.56h0M108.71 834.34h0M108.5 826.93h0M107.2 825.88h0M108.6 825.98h0M108.58 832.15h0M107.44 828.22h0M108.23 837.36h0M108.08 829.33h0M108.9 833.52h0M108.71 834.34h0M107.74 829.58h0M107.81 824.46h0M108.78 837.13h0M109.5 835.08h0M108.91 837.9h0M108.35 828.43h0M107.27 836.5h0M109.4 826.01h0M108.64 826.24h0M108.05 836.15h0M109.9 843.93h0M107.23 838.88h0M107.26 830.53h0M108.25 838.14h0M108.69 832.65h0M109.14 838.94h0M108.39 838.28h0M109.8 839.42h0M106.83 838.15h0M108.45 832.24h0M108.94 830.76h0M109.05 825.07h0M108.25 829.31h0M109.35 836.26h0M107.93 831.83h0M108.75 829.14h0M108.25 836.06h0M107.73 824.75h0M109 827.45h0M108.77 828.33h0M109.19 826.79h0M107.62 845.76h0M109.01 824.01h0M109.12 838.92h0M108.76 822.28h0M108.38 827.92h0M106.85 842.92h0M107.71 834.28h0M108.09 831.31h0M108.89 830.25h0M108.17 825.89h0M107.62 833.88h0M108.9 827.24h0M109.03 826.79h0M107.33 840.63h0M109.8 823.87h0M109.14 839.37h0M107.42 829.9h0M107.09 831.48h0M109.78 827.53h0M107.37 825.94h0M108.32 834.44h0M107.51 835.71h0M108.7 838.79h0M108.98 827.24h0M108.55 824.46h0M108.53 831.99h0M107.93 835.82h0M107.49 848h0M108.16 836.17h0M107.86 822.95h0M107.62 846.27h0M107.33 833.01h0M107.79 829.78h0M109.7 847.98h0M108.47 838.09h0M108.25 825.24h0M108.2 830.83h0M107.86 831.49h0M108.4 825.69h0M108.46 839.6h0M107.39 835.86h0M107.07 823.66h0M107.38 837.12h0M107.09 837.21h0M107.69 836.38h0M107.97 824.11h0M107.65 845.42h0M107.41 833.78h0M109.94 834.15h0M108.18 826.41h0M106.76 828.22h0M107.66 837.66h0M108.13 826.53h0M110.6 839.48h0M108.52 828.05h0M108.37 826.97h0M108.41 837.47h0M108.68 823.91h0M108.66 829.11h0M108.82 825.44h0M108.12 836.13h0M109.45 834.92h0M108.78 828.05h0M107.84 827.66h0M108.13 830.53h0M108.4 830.51h0M108.97 835.91h0M107.81 836.11h0M107.79 835.72h0M107.86 837.5h0M109.8 830.04h0M108.99 836.61h0M107.32 842.67h0M109.57 832.91h0M108.43 825.24h0M109.04 833.69h0" stroke="#146414" stroke-width="1.5" stroke-linecap="round" fill="none"/>
<rect x="102.84" y="823.7" width="11" height="16.1" fill="none" stroke="#145a14" stroke-width="1" />
<line x1="101.14" y1="832" x2="115.54" y2="832" stroke="#111" stroke-width="1.3" />
<path d="M129.75 840.3h0M129.71 839.84h0M129.22 836.92h0M129.06 838.26h0M128.88 845.13h0M129.64 839.6h0M128.59 846.16h0M129.83 840.3h0M131.35 831.81h0M129.91 841.15h0M128.07 834.74h0M129.99 832.1h0M130.84 833.41h0M128.65 838.2h0M129.79 833.21h0M130.54 835.55h0M128.74 844.96h0M130.83 834.94h0M132.04 832.81h0M130.95 836.14h0M128.81 845.47h0M130.86 840.16h0M130.11 835.94h0M129.84 833.67h0M129.49 847.15h0M131.11 837.9h0M130.03 839.06h0M129.4 839.76h0M130.89 834.62h0M129.44 836.91h0M130.14 841.4h0M131.67 843.74h0M128.83 842.03h0M131.78 833.99h0M131.35 838.15h0M130.43 836.24h0M128.37 837.09h0M129.46 845.39h0M130.34 837.74h0M129.59 837.44h0M130.26 837.47h0M130.21 836.31h0M129.79 839.55h0M130.33 834.47h0M130.58 839.77h0M130.79 836.26h0M132.06 837.29h0M129.08 835.91h0M128.78 838.01h0M129.75 833.02h0M128.85 837.66h0M130.16 845.49h0M130.81 838.01h0M129.83 838.96h0M129.19 839.89h0M128.15 835.29h0M130.23 839.11h0M129.81 841.6h0M129.82 839.02h0M129.56 834.15h0M129.07 838.68h0M129.86 838h0M131.25 845.32h0M129.71 835.68h0M129.36 845.96h0M131.14 833.16h0M128.37 840.25h0M129.5 844h0M130.63 840.35h0M130.29 835.92h0M130.83 844.24h0M129.76 834.09h0M128.97 840.32h0M131.14 839.43h0M130.05 840.79h0M130.03 839.23h0M129.69 837.81h0M129.28 835.13h0M130.04 833.06h0M130.78 836.69h0M129.86 836.63h0M129.69 845.61h0M130.25 838.05h0M129.76 836.96h0M128.96 839.87h0M129.89 840.06h0M131.1 838.21h0M130.65 839.41h0M127.81 838.02h0M129.7 837h0M130.49 834.8h0M129.55 834.45h0M128.14 845.67h0M128.71 840.14h0M130.51 834.78h0M130.27 836.81h0M129.79 835.01h0M130.53 836.41h0M130.66 834.99h0M130.79 839.91h0M131.35 834.98h0M129.9 839.03h0M130.2 838.5h0M131.04 837.66h0M130.13 840.82h0M130.31 839.67h0M129.17 837.59h0M129.42 835.36h0M129.35 837.29h0M130.83 833.64h0M129.37 839.64h0M130.29 837.77h0M129.58 837.18h0M129.79 839.6h0M130.63 839h0M130.23 838.16h0M128.34 833.73h0M130.83 839.93h0M131.23 840.99h0M130.57 834.54h0M131.68 836.21h0M129.75 835.29h0M129.57 836.4h0M130.32 834.92h0M129.09 833.63h0M131.64 841.15h0M130.02 846.23h0M129.95 837.17h0M129.37 831.83h0M128.46 839.14h0M129.32 832.87h0M129.05 833.76h0M130.64 831.58h0M129.99 836.33h0M129 841.06h0M130.29 840.1h0M130.4 840.52h0M131.33 837.73h0M130.06 839.57h0M131.19 845.59h0M130.5 844.07h0M131.11 839.51h0M131.22 833.57h0M130.17 838.4h0M128.28 846.28h0M129.63 843.58h0M128.3 840.4h0M130.63 836.78h0M130.6 833.59h0M129.43 838.89h0M130.24 839.67h0M130.36 833.88h0M128.32 832.36h0M129.18 833.7h0M129.5 838.64h0M130.01 838.29h0M130.38 835.13h0M129.59 831.81h0M129.69 833.12h0M128.78 844.27h0" stroke="#189818" stroke-width="1.5" stroke-linecap="round" fill="none"/>
<rect x="124.31" y="832.7" width="11" height="8.4" fill="none" stroke="#189018" stroke-width="1" />
<line x1="122.61" y1="837.1" x2="137.01" y2="837.1" stroke="#111" stroke-width="1.3" />
<path d="M151.08 838.81h0M151.33 841.33h0M152.37 842.64h0M151.22 842.55h0M149.42 839.82h0M151.83 846.39h0M151.7 839.5h0M150.94 841.45h0M150.17 841.25h0M152.36 847.18h0M150.86 839.36h0M150.44 842.16h0M151.29 840.85h0M152.71 845.92h0M151.98 841.22h0M153.38 841.6h0M150.93 839.69h0M151.08 840.02h0M150.49 840.69h0M149.64 840.85h0M151 840.76h0M152 841.2h0M151.04 839.18h0M151.9 839.48h0M149.94 842.3h0M149.17 840.11h0M152.31 840.92h0M152.29 838.98h0M151.52 840.65h0M151.92 847.18h0M151.97 840.22h0M151.42 840.62h0M152.23 840h0M152.86 844.61h0M151.23 843.14h0M150.42 845.77h0M150.72 845.29h0M150.8 846.23h0M151.88 839.51h0M151.31 839.67h0M152.27 840.16h0M153.06 838.86h0M151.27 841.39h0M150.58 838.96h0M150.69 838.27h0M151.49 841.34h0M149.11 839.81h0M150.74 842.9h0M149.17 842.59h0M153.01 840.21h0M149.99 839.37h0M151.05 839.05h0M151.34 839.57h0M150.38 842.5h0M153.2 839.93h0M149.85 842.99h0M150.76 842.21h0M150.98 840.17h0M150.21 841.77h0M151.8 839.16h0M151.32 842.52h0M151.91 839.33h0M151.61 840.65h0M152.52 842.19h0M152.53 839.35h0M151.34 840.76h0M150.89 842.09h0M150.14 840.09h0M150.77 843.69h0M152.38 840.57h0M150.09 845.38h0M150.44 841.46h0M152.09 842.84h0M151.6 841.11h0M150.47 838.13h0M151.3 846.25h0M150.74 838.37h0M151.99 842.49h0M151.51 840.35h0M152.25 838.85h0M152.02 840.08h0M151.59 843.57h0M152.45 844.41h0M150.73 846.25h0M150.98 844.9h0M151.86 838.04h0M151.03 842.4h0M152.18 841.55h0M149.95 838.36h0M152.13 843h0M152.03 840.97h0M152.71 842.35h0M151.46 840.27h0M151.04 845.17h0M150.76 841.27h0M152.01 842.06h0M152.13 838.99h0M151.6 842.82h0M149.63 842.62h0M150.45 838.91h0M151.47 843.96h0M151.81 842.67h0M150.62 841.86h0M150.96 839.59h0M150.94 838.03h0M151.23 842.07h0M152.5 842.59h0M150.99 841.41h0M151.28 839.22h0M150.51 840.22h0M152.19 839.71h0M150.86 839.08h0M151.58 838.87h0M150.92 845.91h0M150.94 841.32h0M150.46 842.6h0M152.32 841.23h0M151.33 841.52h0M150.71 840.87h0M151.84 840.86h0M150.33 841.15h0M150.74 840.08h0M151.24 840.14h0M151.78 839.69h0M150.72 841.53h0M151.43 841.75h0M150.53 839.12h0M149.39 842.65h0M151.71 842.17h0M151.64 838.81h0M150.43 841.09h0M152.27 842.49h0M151.93 843h0M150.6 845.74h0M150.7 840.58h0M151.63 841.19h0M150.68 840.89h0M151.06 839.02h0M149.93 841.45h0M150.4 839.99h0M151.61 841.58h0M152.18 840.31h0M150.55 839.16h0M151.01 839.3h0M151.41 839.21h0M151.65 844.68h0M151.79 842.35h0M149.76 842.01h0M151.11 842.22h0M151.85 846.59h0M152.58 845.62h0M151.74 840.07h0M152.41 841.71h0M150.59 841.31h0M152.27 839.78h0M151.64 840.24h0M151.11 842.66h0M152.31 844.88h0M151.49 839.93h0M151.04 841.96h0" stroke="#1fb81f" stroke-width="1.5" stroke-linecap="round" fill="none"/>
<rect x="145.78" y="838.8" width="11" height="4.3" fill="none" stroke="#1fb01f" stroke-width="1" />
<line x1="144.08" y1="841.1" x2="158.48" y2="841.1" stroke="#111" stroke-width="1.3" />
<path d="M172.21 844.43h0M171.63 845.28h0M172.39 842.5h0M173.52 850.1h0M172.94 843.96h0M172.93 845.96h0M171.94 843.06h0M171.95 845.63h0M174.07 843.51h0M173.91 845.39h0M173.05 845.66h0M171.17 847.38h0M173.74 845.47h0M173.91 844.13h0M171.98 841.26h0M174 845.84h0M172 843.32h0M172.78 847.83h0M173.07 842.78h0M172.36 848.86h0M172.4 842.69h0M172.64 843.27h0M172.75 844.64h0M171.89 841.88h0M171.59 843.69h0M172.47 844.07h0M174 843.76h0M173.21 844.06h0M172.34 844.05h0M171.38 847.01h0M173.74 842.54h0M174.09 843.9h0M172.98 843.74h0M173.36 844.19h0M173.64 842.91h0M172.9 849.39h0M172.97 844.74h0M171.78 843.05h0M172.37 847.96h0M173.86 842.9h0M172.29 844.52h0M173.14 847.71h0M172.36 842.76h0M170.98 847.57h0M173.4 847.66h0M173.38 844.64h0M172.57 844.82h0M172.14 844.4h0M173.62 845.55h0M172.53 842.75h0M172.83 842.07h0M171.82 844.01h0M171.97 846.22h0M173.2 844.18h0M172.66 845h0M173.15 843.17h0M171.66 843.14h0M174.13 843.52h0M174.13 844.2h0M173.22 846.17h0M173.14 843.47h0M172.71 843.03h0M173.11 842.99h0M172.49 843.03h0M172.31 842.84h0M173.23 850.41h0M171.01 844.22h0M171.17 844.93h0M172.38 844.36h0M171.58 845.51h0M172.93 843.36h0M173.25 849.22h0M173.01 844.69h0M172.88 846.37h0M172 844.11h0M172.97 845.96h0M173.09 844.68h0M173.43 843.03h0M171.8 841.5h0M173.31 842.88h0M173.28 843.71h0M171.24 845.4h0M172.4 846.12h0M171.1 845.07h0M173.2 847.66h0M172.39 844.58h0M173.53 846.08h0M172.27 846.91h0M173.45 846.32h0M175.13 842.92h0M173.12 847.27h0M172.33 848.92h0M172.82 841.35h0M171.98 843.71h0M171.07 844.13h0M173.14 844.66h0M171.5 844.53h0M172.45 842.9h0M172.3 848.65h0M172.75 845.69h0M172.28 843.68h0M171.52 844.88h0M173.91 843.34h0M173.13 845.75h0M172.86 843.76h0M172.59 844.26h0M173.18 843.74h0M173.18 844.58h0M172.98 846.19h0M173.05 842.5h0M173.86 842.65h0M172.86 842.94h0M173.59 843.18h0M173.2 843.78h0M171.94 846.17h0M172.1 844.21h0M174.13 845.63h0M172.1 845.16h0M173.22 845.43h0M172.6 846.18h0M173.58 845.41h0M171.57 843.43h0M172.68 845.73h0M172.19 845.45h0M172.56 841.41h0M173.09 842.56h0M174.74 843.13h0M173.48 845.93h0M172.2 844.43h0M173.29 844.63h0M172.23 844.68h0M172.78 843.88h0M172.67 847.89h0M171.7 844.07h0M171.34 841.78h0M172.16 844.29h0M172.25 848.49h0M173.71 846.93h0M172.11 846.19h0M173.72 845.02h0M172.77 845.86h0M172.92 844.09h0M172.95 844.08h0M171.2 846.15h0M174 843.46h0M173.46 843.69h0M172.83 846.07h0M172.14 845.89h0M172.48 845.7h0M172.6 845.48h0M172.61 843.23h0M172.69 845.29h0M173.65 844.34h0M172.37 841.81h0M171.84 844.46h0M172.85 844.78h0M172.69 845.1h0M174.51 845.58h0M172.15 843.55h0M173.01 843.84h0" stroke="#22d422" stroke-width="1.5" stroke-linecap="round" fill="none"/>
<rect x="167.25" y="842.5" width="11" height="3.7" fill="none" stroke="#22cc22" stroke-width="1" />
<line x1="165.55" y1="844.5" x2="179.95" y2="844.5" stroke="#111" stroke-width="1.3" />
<path d="M195.16 848.79h0M194.03 848.21h0M192.78 848.11h0M194.19 846.86h0M195.07 847.36h0M194.36 846.62h0M193.21 846.53h0M195.25 846.25h0M194.39 847.53h0M194.81 846.39h0M193.95 847.46h0M195.16 846.94h0M195.39 851.1h0M193.62 850.05h0M194.5 848.45h0M194.92 847.18h0M195.86 850.09h0M194.39 846.14h0M194.54 845.57h0M193.05 850.12h0M193.76 846.26h0M195.25 846.13h0M194.37 847.64h0M195.47 846.64h0M194.88 848.64h0M194.39 848.91h0M193.23 847.17h0M194.4 846.05h0M194.47 847.36h0M193.54 846.65h0M193.77 852.95h0M195.6 845.51h0M195.53 846.74h0M194.83 852.65h0M193.56 846.7h0M193.89 846.72h0M193.44 847.13h0M194.52 847.76h0M194.99 847.09h0M193.06 852.57h0M194.41 848.26h0M193.49 848.72h0M194.16 846.03h0M193.5 847.23h0M195.02 853h0M193.35 847.29h0M194.8 847.57h0M193.84 848.71h0M195.86 846.9h0M193.32 847.81h0M195.62 845.79h0M193.39 846.36h0M195.21 848.21h0M193 847.75h0M193.89 845.96h0M194.21 846.93h0M193.27 846.57h0M194.31 846.27h0M192.51 845.57h0M193.97 848.41h0M194.39 846.99h0M193.37 848.53h0M193.92 846.95h0M195.11 847.78h0M195.55 848.56h0M193.81 851.42h0M193.55 847.55h0M194.45 847.75h0M194.14 845.42h0M195.12 845.89h0M195.06 846.78h0M195.14 849.83h0M195.41 846.96h0M193.47 849.19h0M193.38 847.06h0M194.96 846.16h0M194.75 845.96h0M195.07 848.21h0M193.7 849.34h0M193.56 847.77h0M194.26 848.93h0M195.05 844.77h0M193.57 851.02h0M194.21 846.64h0M193.44 849.99h0M194.22 845.97h0M196.13 847.78h0M194.43 846.97h0M194.14 847.27h0M195.3 848.46h0M194.08 852.08h0M193.81 849.52h0M194.37 848.51h0M193.55 846.01h0M194.54 847.34h0M194.58 851.53h0M194.24 845.67h0M194.16 848.19h0M193.36 845.55h0M192.84 848.39h0M193.76 846.57h0M194.44 848.98h0M194.66 847.6h0M194.82 847.45h0M194.06 848.34h0M196.17 845.72h0M192.88 849.86h0M193.74 848.37h0M192.51 848.35h0M194.25 851.46h0M194.96 847.02h0M193.77 847.04h0M194.12 845.75h0M194.16 846.54h0M193.16 847.64h0M194.64 847.08h0M194.9 846.82h0M192.43 851.45h0M193.7 846.91h0M194.8 847.74h0M195.47 847.45h0M194.68 850.31h0M194.79 853.03h0M193.88 848.69h0M194.93 846.9h0M194.3 848.42h0M193.18 845h0M192.94 850.22h0M194.05 846.78h0M194.52 846.19h0M193.33 846.73h0M196.55 846.78h0M195.2 847.67h0M194.53 848.13h0M193.1 846.6h0M194.14 845.71h0M195.56 846.68h0M193.64 845.76h0M193.33 845.56h0M193.71 847.63h0M193.86 852.11h0M193.34 848.89h0M194.87 848.44h0M194.62 848.33h0M195.89 849.26h0M194.1 848.26h0M193.73 848.41h0M192.54 848.65h0M195.51 846.45h0M193.75 846.66h0M193.83 847.58h0M193.2 845.71h0M194.13 848.56h0M193.15 846.8h0M194.17 846.18h0M194.34 846.55h0M194.4 846.87h0M193.26 849.41h0M194.03 846.98h0M193.8 852.89h0" stroke="#2eea2e" stroke-width="1.5" stroke-linecap="round" fill="none"/>
<rect x="188.72" y="845.5" width="11" height="3.3" fill="none" stroke="#2ee42e" stroke-width="1" />
<line x1="187.02" y1="847.5" x2="201.42" y2="847.5" stroke="#111" stroke-width="1.3" />
<polyline points="65.4,852.9 86.87,835.4 108.34,832 129.81,837.1 151.28,841.1 172.75,844.5 194.22,847.5" fill="none" stroke="#ee1c24" stroke-width="1.3" stroke-dasharray="4.4 1.6 1.4 1.6"/>
<rect x="262" y="809.5" width="151.1" height="80.6" fill="#fff" stroke="#111" stroke-width="0.9" />
<line x1="259.4" y1="822" x2="262" y2="822" stroke="#111" stroke-width="0.8" />
<text x="253.8" y="824.4" font-size="6.6" text-anchor="end" fill="#111">100%</text>
<line x1="259.4" y1="853.05" x2="262" y2="853.05" stroke="#111" stroke-width="0.8" />
<text x="253.8" y="855.45" font-size="6.6" text-anchor="end" fill="#111">75%</text>
<line x1="259.4" y1="884.1" x2="262" y2="884.1" stroke="#111" stroke-width="0.8" />
<text x="253.8" y="886.5" font-size="6.6" text-anchor="end" fill="#111">50%</text>
<line x1="260.4" y1="837.52" x2="262" y2="837.52" stroke="#111" stroke-width="0.7" />
<line x1="260.4" y1="868.58" x2="262" y2="868.58" stroke="#111" stroke-width="0.7" />
<line x1="272.8" y1="890.1" x2="272.8" y2="892.7" stroke="#111" stroke-width="0.8" />
<text x="272.8" y="903.2" font-size="6.8" text-anchor="middle" fill="#111">1</text>
<line x1="294.4" y1="890.1" x2="294.4" y2="892.7" stroke="#111" stroke-width="0.8" />
<text x="294.4" y="903.2" font-size="6.8" text-anchor="middle" fill="#111">2</text>
<line x1="316" y1="890.1" x2="316" y2="892.7" stroke="#111" stroke-width="0.8" />
<text x="316" y="903.2" font-size="6.8" text-anchor="middle" fill="#111">3</text>
<line x1="337.6" y1="890.1" x2="337.6" y2="892.7" stroke="#111" stroke-width="0.8" />
<text x="337.6" y="903.2" font-size="6.8" text-anchor="middle" fill="#111">4</text>
<line x1="359.2" y1="890.1" x2="359.2" y2="892.7" stroke="#111" stroke-width="0.8" />
<text x="359.2" y="903.2" font-size="6.8" text-anchor="middle" fill="#111">5</text>
<line x1="380.8" y1="890.1" x2="380.8" y2="892.7" stroke="#111" stroke-width="0.8" />
<text x="380.8" y="903.2" font-size="6.8" text-anchor="middle" fill="#111">6</text>
<line x1="402.4" y1="890.1" x2="402.4" y2="892.7" stroke="#111" stroke-width="0.8" />
<text x="402.4" y="903.2" font-size="6.8" text-anchor="middle" fill="#111">7</text>
<text x="337.6" y="913.6" font-size="8.1" text-anchor="middle" fill="#111">Molecule of RIP3 per subunit</text>
<text x="232.8" y="856.6" font-size="8.5" text-anchor="middle" fill="#111" transform="rotate(-90 232.8 856.6)">p-MLKL</text>
<text x="400.7" y="804" font-size="9.3" text-anchor="middle" fill="#111" font-style="italic">Sim.</text>
<text x="408.7" y="817.3" font-size="6.3" text-anchor="end" fill="#111">time = 6h</text>
<path d="M272.86 863.56h0M272.69 849.77h0M273.98 849.93h0M273.14 849.51h0M272.9 867.14h0M273.8 847.09h0M273.65 839.35h0M272.02 851.57h0M272.87 850.85h0M272.26 851.39h0M273.4 881.04h0M273.94 852.11h0M272.59 860.92h0M272.86 830.6h0M271.87 832.53h0M273.08 855.02h0M271.35 841.21h0M271.57 863.93h0M273.41 859.96h0M272.98 853.43h0M273.12 865.44h0M272.74 847.65h0M272.2 851.64h0M273.53 847.77h0M273.24 849.36h0M273.84 859.78h0M272.91 859.64h0M273.62 861.52h0M272.1 862.05h0M272.78 860.78h0M273.29 855.53h0M273.07 863.75h0M272.62 853.23h0M273.15 858.26h0M271.73 851.62h0M272.63 863.66h0M271.2 860.9h0M272.1 853.95h0M271.21 856.85h0M271.87 845.67h0M272.52 869.44h0M272.28 855.56h0M272.31 871.91h0M271.98 829.46h0M271.92 878.22h0M272.06 862.19h0M272.95 862.65h0M272.23 841.81h0M271.41 849.38h0M272.86 867.71h0M273.64 848.02h0M273.36 854.86h0M272.85 857.64h0M271.97 858.06h0M273.33 856.76h0M273.23 852.9h0M272.6 863.62h0M274.24 834.55h0M271.81 859.22h0M272.34 831.4h0M272.4 867.02h0M273.83 842.39h0M272.71 867.58h0M273.14 838.66h0M273.23 836.9h0M272.77 845.15h0M273.51 869.33h0M273.51 845.85h0M272.33 865.13h0M274.41 850.09h0M273.46 842.11h0M272 850.66h0M274.35 843.96h0M273.46 847.11h0M274.99 857.81h0M272.43 865.47h0M272.85 843.68h0M272.58 874.88h0M274.71 846.41h0M272.6 879.85h0M272.95 850.54h0M272.59 842.98h0M271.3 866.94h0M272.87 850.8h0M272.81 880.2h0M273.27 865.43h0M272.46 846.24h0M273.6 853.17h0M273.14 850.83h0M272.14 844.58h0M273.27 843.92h0M272.22 861.5h0M273.41 864.26h0M271.91 863h0M273.02 864.68h0M272.58 866.8h0M271.3 836.11h0M273.62 843.07h0M272.3 845.41h0M272.14 857.68h0M270.92 828.88h0M271.68 827.2h0M273.43 844.54h0M272.76 846.31h0M271.74 827.07h0M272.62 847.13h0M273.66 827.64h0M271.37 860.73h0M272.82 852.22h0M273.43 840.32h0M274.02 857.86h0M272.52 842.01h0M272.81 855.7h0M271.91 865.62h0M273.97 832.57h0M271.41 854.74h0M273.37 848.77h0M274.6 837.12h0M273.56 829.46h0M273.12 877.9h0M272.06 846.89h0M273.09 850.57h0M272.5 846.71h0M272.69 844.21h0M271.69 839.98h0M272.61 865.55h0M272.09 852.97h0M271.9 824.8h0M273.41 840.75h0M273.27 860.7h0M271.95 857.82h0M272.62 844.95h0M272.37 842.18h0M272.37 842.01h0M272.92 837.87h0M273.65 866.4h0M274.16 839.56h0M273.59 865.55h0M271.8 864.78h0M274.24 849.3h0M271.02 850.17h0M273.33 862.92h0M272.48 856.65h0M272.55 859.1h0M273.23 844.01h0M273.52 849.96h0M272.74 852.61h0M271.24 852.05h0M272.31 847.63h0M272.93 861.45h0M273.11 860.39h0M273.17 861.91h0M272.14 844.91h0M272.24 839.58h0M271.99 858.94h0M273.34 865.45h0M272.53 836.94h0M273.11 830.08h0M271.71 844.76h0M272.92 855.4h0M273.58 836.05h0M272.7 866.06h0M272.81 838.86h0M273.16 864.67h0M272.22 832.36h0M273.31 846.31h0M271.86 865.2h0M273.09 856.03h0M272.1 859.37h0M272.67 827.51h0M272.3 843.41h0M272.77 848.74h0M273.66 841.3h0M273.46 859.56h0M272.67 822.96h0M272.72 856.58h0M273.45 849.11h0M273.01 843.76h0M272.21 837.57h0M272.77 828.27h0M272.76 832h0M273.66 841.26h0M272.77 825.21h0M272.93 849.51h0M272.1 838.87h0M273.04 880.83h0M273.77 859.06h0M273.05 874.48h0M273.8 868.2h0M272.42 858.22h0M273.21 864.16h0M274.34 861.4h0M270.42 852.14h0M272.46 867.07h0M272.1 848.11h0M272.07 847.87h0M273.37 841.25h0M272.59 843.1h0M272.25 839.95h0M272.82 860.72h0M272.43 825.66h0M271.15 871.27h0M273.31 851.98h0M272.96 845.62h0M272.28 858.61h0M273.15 865.12h0M272.5 860.06h0M272.13 853.11h0M273.01 855.74h0M273.64 838.68h0M272.2 860.73h0M271.93 858.06h0M273.53 829.06h0M274.33 861.56h0M272.32 864.32h0M272.49 853.56h0M273.5 867.06h0M272.94 875.31h0M273.41 866.06h0M273.23 830.7h0M272.02 850.31h0M272.77 851.8h0M272.97 857.25h0M272.94 860.1h0M273.21 860.85h0M272.96 853.27h0M273.15 860.23h0M274.87 836.17h0M272.72 852.81h0M273.23 853.61h0M272.25 864.91h0M273.69 868.44h0M271.92 875.26h0M271.57 834.59h0M272.49 866.91h0M272.01 855.42h0M272.06 875.45h0M272.24 844.32h0M272.19 823.65h0M273.05 867.17h0M272.76 859.75h0M272.53 846.89h0M273.59 849.82h0M270.67 851.61h0M272.16 847.61h0M272.57 851.23h0M272.16 854.99h0M272.29 850.04h0M272.07 840.22h0M271.91 864.5h0M271.01 872.89h0M273.67 853.99h0M270.86 847.44h0M273.08 859.9h0M272.5 854.15h0M271.88 870.21h0M272.67 845.59h0M271.56 840.16h0M271.52 847.88h0M272.67 857.2h0M273.15 844.46h0M272.34 836.22h0M272.09 849.18h0M274.14 861.13h0M272.62 840.64h0M273.34 839.27h0M272.52 853.04h0M272.1 863.26h0M272.24 872.66h0M273.06 826.86h0M272.2 842.15h0M274.57 852.57h0M274.11 853.42h0M271.92 846.2h0M272.06 840.36h0M273.52 860.49h0M271.54 838.06h0M272.68 853.66h0M271.35 862.61h0M271.99 830.27h0M271.94 851.82h0M272.47 850.63h0M273.02 863.4h0M273.53 838.89h0M273.83 852.07h0M272.73 839.94h0M272.29 865.85h0M274.26 827.78h0M274.43 848.86h0M273.17 827.5h0M273.03 850.96h0M273.89 861.9h0M272.46 866.65h0M272.48 878.7h0M272.53 881.4h0M272.74 862.83h0M272.61 881.86h0M272.48 827.12h0M273.16 850.89h0M273.41 831.07h0M273.95 834.03h0M274.23 838.96h0M270.91 853.26h0M272 854.78h0M272.28 834.53h0M272.35 824.67h0M273.79 859.77h0M273.42 857.31h0M273.24 864.4h0M272.6 847.59h0M273.36 849.45h0M272.72 839.85h0M270.96 847.25h0M272.48 856.65h0M273.56 865.37h0M272.74 832.52h0M272.59 850.08h0M273.29 845.08h0M272.94 858.98h0M273.84 852.7h0M273.26 845.84h0M273.26 864h0M271.06 840.13h0M271.93 854.45h0M273.09 851.95h0M272.7 865.48h0M271.98 865.19h0M272.49 880.48h0M273.48 845.35h0M273.07 848.71h0M273.65 823.6h0M272.97 850.64h0M273.11 856.27h0M272.89 860.22h0M271.5 872.57h0M273.23 840.95h0M271.65 860.42h0M272.67 846.66h0M271.82 853.13h0M273.01 859.88h0M273.08 864.32h0M273.58 839.09h0M272.37 838.83h0M272.8 856.41h0M272.52 836.48h0M274.02 872.23h0M273.74 873.35h0M272.86 877.22h0M273.27 847.12h0M273.05 851.76h0M273.47 862.68h0M273.67 847.19h0M273.02 850.88h0M271.83 845.03h0M273.83 862.79h0M273.33 854.52h0M272.36 845.37h0M271.73 848.19h0M273.65 825.09h0M272.1 865.32h0M272.37 857.03h0M272.88 843.04h0M273.3 878.87h0M272.99 855.08h0M273.21 857.96h0M272.78 852.54h0M271.14 867.68h0M272.8 875.99h0M271.54 866.9h0M272.15 823.11h0M272.12 870.45h0M271.77 854.62h0M272.11 847.21h0M273.22 848.42h0M272.34 860.52h0M271.09 822.12h0M272.37 865.68h0M272.07 827.06h0M274.31 834.88h0M273.05 822.47h0M273.53 879.5h0M272.07 870.73h0M273.03 864.63h0M273.28 863.55h0M270.58 847.6h0M272.89 866.74h0M273.13 849.32h0M273.17 842.55h0M275 852.68h0M273.17 878.4h0M273.07 856.38h0M271.52 861.91h0M272.81 863.45h0M272.28 857.9h0M273.78 859.04h0M273.72 839.21h0M272.07 860.77h0M273.43 840.57h0M272.76 851.53h0M272.21 862.27h0M273.33 823.24h0M274.15 847.55h0M272.7 864.13h0M272.63 866.79h0M272.22 857.97h0M271.64 863.28h0M272.81 851.87h0M272.97 852.45h0M271.44 845.95h0M273.53 862.11h0M273.44 838.2h0M272.58 864.63h0M272.23 860.13h0M272.8 848.82h0M273.33 850.35h0M272.83 851.83h0M272.99 860.72h0M274.46 855.86h0M272.62 864.22h0M272.58 862.97h0" stroke="#0c2a0c" stroke-width="1.5" stroke-linecap="round" fill="none"/>
<rect x="267.3" y="838.8" width="11" height="28.5" fill="none" stroke="#0c220c" stroke-width="1" />
<line x1="265.6" y1="852.9" x2="280" y2="852.9" stroke="#111" stroke-width="1.3" />
<path d="M294.17 841.87h0M296.08 831.15h0M294.62 832.58h0M295.47 841.33h0M294.71 846.41h0M292.48 826.47h0M293.74 827.19h0M295.02 829.75h0M294.28 827.02h0M296.72 842.27h0M294.04 823.89h0M295.63 826.32h0M294.59 832.16h0M294.06 836.45h0M294.16 823.2h0M292.48 827.95h0M293.61 834.92h0M294.01 828.85h0M295.64 827.34h0M293.4 831.31h0M293.91 826.97h0M295.3 831.21h0M295.89 831.52h0M292.35 831.28h0M295.13 831.62h0M294.64 838.46h0M294.77 824.66h0M293.43 833.53h0M293.22 839h0M294.97 825.52h0M294.37 832.97h0M294.51 832.39h0M293.77 830.52h0M294.91 834.65h0M294.74 834.16h0M293.5 846.28h0M294.08 830.12h0M295.64 833.41h0M294.28 825.98h0M294.19 823.71h0M295.89 833.46h0M295.27 825.22h0M293.54 842.18h0M294.6 844.74h0M296.02 830.52h0M293.94 834.95h0M292.45 844.97h0M296.17 827.68h0M294.19 823.1h0M293.36 829.83h0M293.76 827.88h0M294.63 826.82h0M295.03 838.49h0M294.39 825.74h0M295.69 824.1h0M295.24 843.98h0M294.34 828.26h0M295.86 825.38h0M294.43 843.52h0M294.95 827.85h0M294.82 845.61h0M294.64 825.19h0M295.5 834.53h0M293.83 825.62h0M294.98 828.42h0M294.16 826.77h0M293.97 839.56h0M294.12 836.05h0M293.82 830.8h0M295.8 834.39h0M293.79 841.63h0M294.62 830.31h0M294.95 834.53h0M293.86 843.62h0M295.91 846.06h0M294.43 845.74h0M293.66 826.68h0M293.63 824.77h0M294.85 838.86h0M295.09 835.27h0M294.13 828.79h0M296.09 829.79h0M295.36 825.09h0M294.55 833.98h0M295.44 827.2h0M293.86 841.22h0M293.75 842.29h0M295.14 833.39h0M294.29 827.6h0M294.17 833.82h0M293.68 830.26h0M294.93 830.76h0M294.85 825.65h0M293.21 825.92h0M296.4 824.24h0M293.71 831.16h0M292.97 833.22h0M295.13 832.64h0M294.51 835.11h0M294.81 828.73h0M293.29 824.54h0M295.24 831.29h0M294.47 830.31h0M294.41 824.04h0M293.73 845.51h0M294.22 832.5h0M293.81 833.84h0M293.62 826.55h0M295.69 823.57h0M293.66 826.46h0M293.23 829.8h0M294.77 835.01h0M295.51 827.37h0M295.81 838.14h0M295.22 826.71h0M294.45 828.22h0M294.51 827.99h0M294.8 846.98h0M294.73 825.82h0M295.13 834.21h0M294.74 826.21h0M294.16 846.11h0M293.06 826.83h0M294.02 825.86h0M294.14 840.73h0M293.96 826.57h0M295.03 834.48h0M294.35 823.26h0M293.88 823.35h0M292.51 826.29h0M294.15 825.43h0M294.76 827.87h0M293.68 831.66h0M294.75 829.71h0M294.74 825.57h0M294.28 846.96h0M293.44 829.91h0M293.2 831.57h0M293.65 822.83h0M292.81 827.79h0M293.44 835.05h0M293.3 822.5h0M294.05 846.71h0M293.97 835.08h0M295.63 826.12h0M294.01 827.81h0M295.08 823.94h0M293.21 846.72h0M294.37 834.8h0M294.26 832.25h0M295.26 826.35h0M294.2 829.65h0M294.33 826.99h0M294.26 824.92h0M295.73 828.48h0M295.44 823.71h0M294.39 830.98h0M295.45 825.57h0M293.27 835.06h0M295.06 823.72h0M295.32 842.18h0M293.89 830.7h0M296.04 842.92h0M292.93 834.42h0M293.93 845.52h0M293.33 834h0M294.89 845.65h0M295.38 838.52h0M295.03 831.27h0M294.66 841.15h0M295.1 836.75h0M294.06 832.23h0M295 824.67h0M295.21 827.62h0M295.35 842.11h0M294.8 825.78h0M294.65 824.46h0M292.65 833.63h0M294.85 823.44h0M293.74 827.79h0M295.23 826.26h0M294.96 822.41h0M293.9 834.85h0M294.45 832.63h0M294.28 829.31h0M296.1 832.05h0M295.44 829.93h0M294.5 825.97h0M293.77 830.97h0M292.9 846.28h0M293.68 822.68h0M294.31 835.12h0M294.34 847.08h0M293.67 825.58h0M294.04 828.92h0M293.59 826.95h0M294.28 834.37h0M294.51 836.24h0M294.58 829.22h0M293.8 830.92h0M294.29 844.66h0M295.24 835.35h0M294.06 832.82h0M294.29 827.82h0M294.36 834.61h0M294.66 831.2h0M293.78 833.9h0M294.54 824.2h0M295.31 833.4h0M293.46 844.9h0M294.18 824.35h0M294.24 823.51h0M295.07 822.85h0M292.72 828.78h0M295.13 825.77h0M294.82 828.93h0M295.85 835.97h0M294.24 829.82h0M296.05 843.25h0M294.39 835.05h0M295.4 833.51h0M294.78 845.62h0M293.31 830.66h0M294.66 826.8h0M294.36 827.89h0M294.13 823.69h0M296.31 824.97h0M294.46 825.31h0M293.98 824.49h0M295.19 830.51h0M294.56 831.53h0M295.46 826.86h0M294.06 838.21h0M295.12 835.3h0M294.93 823.07h0M293.56 825.82h0M295.14 834.89h0M293.58 825.78h0M293.53 829.09h0M294.74 845.14h0M295.08 842.27h0M295.13 824.19h0M295.27 833.73h0M294.4 829.58h0M295.24 828.1h0M295.08 826.43h0M294.47 825.81h0M292.82 824.06h0M295.33 826.49h0M295.35 831.47h0M293.63 835.11h0M293.76 846.03h0M293.87 829.42h0M292.98 823.26h0M293.76 832.96h0M296.02 829.37h0M293.41 823.05h0M294.93 825.81h0M294.08 830.08h0M294.11 833.11h0M295.82 825.87h0M294.87 828.49h0M293.51 830.65h0M293.64 846.92h0M293.69 823.76h0M294.26 829.37h0M296.18 835.13h0M294.26 833.49h0M294.09 823h0M293.02 830.93h0M293.43 827.77h0M295.57 826.55h0M295.28 826.82h0M293.12 829.32h0M294.48 827.04h0M294.02 831.65h0M294.47 828.43h0M295.13 834.03h0M293.25 840.82h0M294.08 834.61h0M294.5 843.04h0M293.38 828.35h0M295.29 843.57h0M295.98 827.85h0M292.99 822.91h0M294.85 824.58h0M295.82 841.87h0M293.91 825.69h0M295.03 832.25h0M293.91 842.21h0M293.25 832.13h0M295.61 838.53h0M293.19 827.44h0M293.23 831.81h0M293.84 835.46h0M294.96 834.48h0M293.8 824.41h0M293.05 826.54h0M293.97 845.84h0M293.6 833.17h0M293.81 835.46h0M293.06 833.33h0M293.3 834.95h0M294.92 824.7h0M295.32 828.79h0M293.93 830.35h0M294.17 832.82h0M295.17 827.85h0M293.88 828.09h0M295.51 830.94h0M294.96 832.33h0M294.07 834.69h0M294.16 824.27h0M295.21 822.74h0M293.88 822.94h0M294.86 830.27h0M294.17 832h0M294.22 834.79h0M294.94 844.8h0M295.79 831.78h0M293.93 841.59h0M294.51 823.68h0M294.02 833.29h0M295.22 843.02h0M293.95 840.38h0M295.44 826h0M295.02 829.22h0M296.13 823.09h0M295.87 829.02h0M294.57 825.48h0M292.58 824.53h0M293.01 823.34h0M293.26 842.23h0M294.82 832.91h0M293.81 826.54h0M294.81 823.9h0M293.93 822.72h0M294.17 834.51h0M295.45 827.07h0M294.84 828.56h0M293.46 830.23h0M294.59 830.9h0M294.81 826.92h0M294.71 827.99h0M295.16 833.65h0M292.38 822.5h0M295.49 843.51h0M293.54 837.17h0M293.82 827.91h0M293.48 823.69h0M293.98 832.66h0M293.69 825.04h0M294.37 841.51h0M295.09 832.34h0M295.84 834.61h0M294.24 831.93h0M295.27 822.37h0M295.13 825.63h0M295.01 832.51h0M293.59 831.99h0M294.75 830.85h0M295.04 824.66h0M293.69 841.11h0M294.44 829.83h0M294.93 832.16h0M295.08 830.26h0M294.76 826.54h0M293.24 829.43h0M295.22 835.13h0M294.87 823.05h0M293.42 836.21h0M295.5 827.08h0M293.08 842.47h0M294.36 831.7h0M292.79 833.2h0M294.11 828.46h0M293.69 830.03h0M294.61 831.64h0M295.16 823.58h0M294.5 834.15h0M293.98 846.28h0M295.9 843.81h0M294.69 825.28h0M294.19 824.9h0M293.16 834.97h0M293.26 827.51h0M294.58 846.42h0M292.78 841.23h0M294.91 841.33h0M294.42 825.65h0M293.83 843.88h0M294.25 823.24h0M294.82 825.91h0M293.86 830.29h0M294.28 839.78h0M295.29 825.48h0M293.72 836.29h0M295.32 830.21h0M293.82 845.33h0M294.27 846.99h0M294.73 826.74h0M295.05 836.15h0M294.93 825.32h0M295.4 825.52h0M295.04 832.75h0M293.88 827.05h0M293.41 827.41h0M293.68 827.76h0M295.04 824.99h0M295.26 843.22h0M294.34 835.95h0M296.22 847.09h0M295.04 824.88h0M295.9 828.34h0M296.08 827.17h0M294.03 835.05h0M294.88 824.42h0M293.79 825.79h0M294.79 826.18h0M294.33 828.09h0" stroke="#104410" stroke-width="1.5" stroke-linecap="round" fill="none"/>
<rect x="288.9" y="822.6" width="11" height="12.8" fill="none" stroke="#103c10" stroke-width="1" />
<line x1="287.2" y1="829.7" x2="301.6" y2="829.7" stroke="#111" stroke-width="1.3" />
<path d="M315.85 830.37h0M315.46 831.47h0M315.19 837.02h0M316.69 837.51h0M316.21 827.69h0M315.59 832.11h0M315.1 822.54h0M316.29 831.36h0M316.78 826.71h0M314.39 823.92h0M312.94 825.62h0M317.66 826.85h0M316.53 826.4h0M315.13 826.83h0M315.63 824.15h0M315.97 830.11h0M315.66 828.64h0M315.97 830.46h0M316.91 831.9h0M315.29 828.84h0M316.04 825.79h0M316.55 826.87h0M317.26 823.05h0M316.29 827.3h0M315.72 826.6h0M315.76 824.12h0M315.23 833.93h0M316.12 827.21h0M316.3 838.25h0M314.32 828.65h0M314.82 824.38h0M315.63 831.64h0M317.78 835.75h0M315.95 831.28h0M315.23 823.87h0M315.22 829.69h0M315.05 837.78h0M316.21 829.56h0M316.06 823.24h0M315.55 824.53h0M316.66 822.38h0M315.74 828.69h0M315.4 834.06h0M316.44 826.32h0M316.86 828.8h0M316.72 836.73h0M314.99 828.64h0M316.45 826.88h0M316.92 826.59h0M315.73 826.21h0M315.82 829.32h0M316.25 829.94h0M315.19 823.74h0M316.55 825.8h0M314.96 827.46h0M313.78 824.75h0M314.8 824.19h0M315.84 826.18h0M315.52 824.38h0M316.67 832.96h0M315.18 826.82h0M315.66 827.02h0M316.49 830.59h0M315.48 829.48h0M314.96 830.96h0M317.09 823.29h0M313.99 825.49h0M315.82 830.87h0M317.59 826.33h0M316.06 829.06h0M316.48 827.83h0M315.1 824.92h0M316.7 838.59h0M315.91 831.23h0M316.6 833.44h0M316.15 825.61h0M315.13 825.63h0M312.95 824.31h0M315.44 838.26h0M317.97 830.42h0M315.62 827.84h0M315.54 832.97h0M316.09 838.78h0M316.87 829.41h0M316.47 823.13h0M316.33 829.89h0M315.13 832.46h0M316.73 823.95h0M315.07 827.18h0M315.16 822.9h0M314.62 824.88h0M316.39 830.93h0M315.76 826.82h0M315.59 826.92h0M314.29 826.96h0M315.65 830.4h0M315.55 832.32h0M315 830.87h0M315.26 829.69h0M316.03 833.35h0M315.32 827.79h0M315.61 822.94h0M315.17 830.09h0M316.24 833.33h0M316.47 835.06h0M317.09 825.04h0M316.47 835.85h0M315.78 824.53h0M316.17 828.64h0M316.02 827.27h0M315.85 826.36h0M316.94 835.32h0M315.32 826.36h0M317.02 838.67h0M317.31 825.46h0M315.49 827.11h0M316.56 828.79h0M316.02 825.12h0M315.16 829.25h0M317.16 826.55h0M316.49 828.21h0M315.7 829.5h0M316.71 837.81h0M316.62 826.19h0M316.48 825.64h0M316.3 833.38h0M315.26 826.2h0M317.37 830.09h0M315.37 827.53h0M314.82 838.42h0M314.97 830.83h0M316.19 828.3h0M315.63 830.04h0M316.46 826.08h0M315.31 831.29h0M316.13 828.3h0M315.44 826.4h0M314.92 834.57h0M315.66 825.5h0M315.82 836.67h0M315.82 823.75h0M315.28 831.03h0M314.97 824.3h0M316.47 823.51h0M316.27 824.31h0M316.28 834.72h0M315.42 825.44h0M315.28 827.3h0M316.03 825.5h0M316.42 822.51h0M315.75 828.99h0M316.08 829.2h0M314.41 834.52h0M317.39 828.18h0M314.87 824.5h0M315.89 830.38h0M315.41 825.72h0M316.95 822.54h0M316.78 827.05h0M315.36 827.91h0M316.13 825.55h0M316.39 825.78h0M316.28 828.36h0M316.44 827.79h0M316.15 829.16h0M315.93 834.31h0M315.57 828.22h0M316.5 831.06h0M317.08 827.15h0M317.24 825.77h0M316.5 830.24h0M316.6 826.81h0M316.96 837.94h0M317.32 830.53h0M316.46 824.41h0M315.69 825.3h0M316.75 836.24h0M317.53 829.84h0M315.49 828.22h0M316.07 831.36h0M315.39 831.03h0M316.37 833.04h0M315.79 826.07h0M315.61 830.88h0M316.55 827.8h0M315.83 828.58h0M317.04 834.93h0M315.89 834.22h0M316.38 831.02h0M316.43 830.05h0M316.3 831.46h0M316.14 825.56h0M315.56 830.98h0M315.99 827.84h0M315.3 824.07h0M316.88 831.3h0M316.75 833.75h0M315.51 825.16h0M315.38 823.85h0M316.52 828.41h0M315.8 824.51h0M316.26 824.48h0M316.47 827.19h0M316.2 826.24h0M315.68 827.28h0M315.61 824.34h0M317.34 824.91h0M317.55 824.29h0M315.44 824.87h0M315.78 830.77h0M315 827.1h0M315.29 834.31h0M315.55 837.52h0M315.28 835.95h0M316.83 829.42h0M315.35 824.65h0M316.08 826.65h0M316.35 835.68h0M315.38 825.73h0M316.82 824.85h0M316.9 837.62h0M316.2 827.9h0M315.72 822.72h0M315.42 833.05h0M315.83 834.15h0M316.37 836.3h0M315.38 826.5h0M315.72 834.64h0M316.33 824h0M316.89 834.91h0M315.43 830.1h0M317.25 823.05h0M315.99 829.07h0M316.55 832.36h0M314.65 825.06h0M316.31 828.69h0M315.71 824.82h0M314.25 829.19h0M315.96 830.09h0M316.11 834.28h0M314.1 824.71h0M315.68 828.75h0M316.36 837.32h0M315.95 828.73h0M317 833.52h0M315.17 828.05h0M315 828.53h0M316.67 827.54h0M315.99 829.45h0M315.83 835.36h0M315.8 829.66h0M315.4 825.4h0M316.16 835.44h0M316.91 825.22h0M316.08 831.09h0M315.91 828.36h0M315.97 827.8h0M314.4 822.83h0M316.21 824.84h0M317.02 837.84h0M316.85 823.15h0M316.51 836.5h0M314.07 834.33h0M316.06 832.17h0M317.82 829.05h0M317.17 826.31h0M314.25 824.14h0M316.98 826.9h0M316.83 829.26h0M316.54 827.36h0M316.95 836.82h0M316.69 835.88h0M316.29 836.75h0M317.41 826.16h0M316.31 826.17h0M314.93 822.34h0M316.86 834.59h0M316.16 825.31h0M315.94 831.24h0M315.98 829.42h0M315.99 829.72h0M315.4 831.36h0M316.23 830.66h0M314.3 826.91h0M316.1 825.95h0M315.19 826.84h0M316.26 831.2h0M315.9 832.6h0M315.31 826.98h0M316.48 827.09h0M316.6 835.59h0M315.67 829.08h0M314.47 825.07h0M315.72 823.79h0M317.02 831.27h0M315.79 830.99h0M314.71 838.51h0M315.28 825.38h0M316.28 825.15h0M315.15 830.83h0M315.52 826.81h0M315.36 823.89h0M315.98 824.91h0M315.89 828.42h0M317.65 825.09h0M314.7 828h0M314.77 830.87h0M317.45 824.58h0M314.92 824.72h0M314.74 823.35h0M316.63 827.8h0M318.21 822.17h0M315.94 827.61h0M315.54 830.14h0M316.1 829.85h0M316.96 830.53h0M315.94 825.03h0M315.22 824.94h0M316.59 829.2h0M316.7 831.25h0M314.87 824.86h0M316.39 824.28h0M316.33 831.03h0M315.32 825.62h0M316.02 823.68h0M316.09 830.93h0M318.23 825.5h0M316.31 827.77h0M316.91 828.49h0M315.6 830.81h0M316.65 827.39h0M315.5 830.36h0M315.42 834.09h0M316.22 830.68h0M316.46 826.8h0M315.61 827.04h0M315.81 830.63h0M316.64 830.81h0M317.61 828.5h0M315.78 831.35h0M315.63 824.27h0M316.64 825.71h0M314.27 826.29h0M316.48 826.2h0M317.16 825.26h0M316.15 826.37h0M316.19 824.68h0M316.26 832.59h0M315.66 823.84h0M315.87 838.43h0M316.85 826.35h0M317.48 827.1h0M316.83 825.75h0M315.65 825.06h0M315.82 827.72h0M315.45 825.43h0M315.62 835.51h0M315.98 823.71h0M315.05 824.19h0M315.16 826.42h0M316.35 826.04h0M315.87 830.87h0M316.88 835.96h0M316.35 828.09h0M316.81 830.45h0M315.82 825.48h0M316.65 823.7h0M316.13 832.76h0M316.53 823.92h0M317.21 822.46h0M315.64 832.16h0M318.25 833.83h0M316.93 826.96h0M315.01 827.05h0M317.35 834.8h0M314.75 824.42h0M316.55 824.73h0M315.71 826.51h0M316.16 826.78h0M316.15 837.99h0M315.38 826.43h0M315.85 823.41h0M315.75 836.54h0M316.54 838.2h0M315.24 824.57h0M316.74 832.57h0M316.16 835.48h0M315.79 823.85h0M316.38 829.8h0M316.03 824.06h0M316.04 825.82h0M316.15 825.59h0M317.4 824.77h0M315.75 828.26h0M316.87 830.47h0M314.69 826.64h0M314.68 827.54h0M317.23 829.9h0M316.96 830.2h0M316.42 831.23h0M315.92 823.98h0M317.18 822.04h0M315.32 828.18h0M318.17 826.23h0M316.3 837.47h0M315.51 827.89h0M316.47 826.58h0M314.86 830.48h0M316.55 830.02h0M316.34 836.49h0M316.48 832.16h0M316.88 825.07h0M315.41 837.57h0M315.64 822.04h0M316.95 833.04h0M316.15 828.34h0M316.34 824.64h0M315.74 825.2h0M314.89 830.29h0M314.99 828.2h0" stroke="#146414" stroke-width="1.5" stroke-linecap="round" fill="none"/>
<rect x="310.5" y="823.7" width="11" height="7.7" fill="none" stroke="#145a14" stroke-width="1" />
<line x1="308.8" y1="827.7" x2="323.2" y2="827.7" stroke="#111" stroke-width="1.3" />
<path d="M337.2 840.03h0M338.03 840.77h0M337.87 844.89h0M339.17 839.8h0M338.69 839.22h0M336.12 841.95h0M337.84 839.59h0M338.5 841.16h0M337.49 839.98h0M337.06 837.86h0M338.54 840.5h0M339.24 842.08h0M338.7 840.98h0M337.79 843.16h0M336.83 841.02h0M337.46 839.77h0M337.23 838.83h0M338.12 842.4h0M337.91 839.69h0M337.57 841.41h0M338.99 841.92h0M338.03 845.34h0M336.95 838.96h0M337.53 842.9h0M338.79 841.42h0M337.25 838.3h0M336.85 839.82h0M338.69 843.47h0M337.77 843.23h0M337.86 841.36h0M337.28 842.03h0M337.21 837.59h0M337.78 839.88h0M335.47 841.38h0M336.78 838.93h0M338.6 838.81h0M336.18 840.15h0M336.79 837.97h0M335.88 840.81h0M338.8 841.46h0M338.03 840.91h0M336.94 839.08h0M338.82 839.51h0M337.44 842.54h0M337.22 841.46h0M337.31 841.16h0M337.86 841.66h0M336.88 840.81h0M338.36 841.77h0M339 837.91h0M337.69 840.75h0M335.77 844.28h0M338.54 842h0M336.81 839.06h0M337.79 841.99h0M336.56 843.99h0M337.19 841.03h0M338.55 840.94h0M336.74 842.25h0M336.73 838.84h0M337.02 841.01h0M338.03 839.39h0M338.25 845.45h0M338.2 839.61h0M337.18 840.05h0M338.21 840.5h0M337.82 840.27h0M336.19 840.32h0M338.68 841.92h0M337.09 839.79h0M337.08 838.8h0M336.93 838.93h0M337.13 840.72h0M337.03 841.44h0M339.31 838.83h0M337.34 838.94h0M337.68 843.55h0M338.19 839.07h0M337.72 839.49h0M338.75 841.22h0M337.51 837.94h0M337.66 843.35h0M338.82 844.35h0M337.69 841.88h0M337.36 839.51h0M337.17 841.73h0M338.27 840.94h0M338.2 841.84h0M338.39 841.66h0M338.75 839.1h0M339 839.58h0M337.1 844.03h0M337.87 838.9h0M337.72 841.52h0M336.6 840.84h0M338.42 841.66h0M337.73 838.81h0M337.24 841.96h0M337.78 840.43h0M336.57 839.71h0M339.2 841.41h0M337.6 843.43h0M335.97 837.37h0M337.46 844.5h0M338.25 839.49h0M338.28 841.93h0M337.1 839.49h0M336.97 839.42h0M337.32 841.75h0M337.02 837.86h0M339.07 838.98h0M336.61 840.58h0M336.53 842.36h0M340.05 840.75h0M336.9 840.37h0M337.08 840.56h0M337.87 842.84h0M335.63 843.77h0M337.4 845.44h0M337.41 839.31h0M337.69 844.02h0M337.26 841.6h0M336.33 839.42h0M335.67 837.17h0M336.87 842.06h0M337.93 840.69h0M337.8 840.79h0M336.84 839.08h0M337.02 838.98h0M337.65 841.56h0M337.12 838.25h0M337.05 840.19h0M336.97 838.86h0M336.64 841.41h0M337.78 844.94h0M337.79 841.06h0M336.9 843.11h0M337.91 841.74h0M338.15 838.39h0M337.7 841.23h0M337.92 841.78h0M336.66 839.75h0M336.41 841.52h0M338.49 841.25h0M337.67 839.36h0M336.99 839.78h0M337.17 839.46h0M338.38 840.19h0M336.89 840.42h0M338.12 839.15h0M337.62 840.87h0M335.9 840.76h0M337.84 837.49h0M336.75 837.11h0M336.97 839.4h0M338.52 840.74h0M335.99 842.54h0M337.86 840.68h0M336.89 841.55h0M337.72 839.64h0" stroke="#189818" stroke-width="1.5" stroke-linecap="round" fill="none"/>
<rect x="332.1" y="838.8" width="11" height="3.3" fill="none" stroke="#189018" stroke-width="1" />
<line x1="330.4" y1="840.4" x2="344.8" y2="840.4" stroke="#111" stroke-width="1.3" />
<path d="M359.62 847.63h0M359.2 847.4h0M360.42 847.01h0M358.06 847.11h0M359.44 848.8h0M359.74 851.43h0M360.1 849.11h0M358.85 848.63h0M357.68 848.17h0M358.89 847.68h0M359.47 849.68h0M360.13 848.15h0M358.97 846.35h0M359.11 846.44h0M358.5 847.01h0M358.7 849.23h0M359.08 848.66h0M357.92 849.12h0M358.78 848.15h0M357.15 849.03h0M358.82 846.95h0M358.52 848.73h0M359.27 846.88h0M359.87 850.68h0M359.04 848.33h0M358.33 850.91h0M361.35 849.13h0M359.43 847.41h0M361 850.85h0M358.99 848.88h0M358.96 848.5h0M358.11 848.23h0M359.38 850.25h0M359.19 848.87h0M359.04 847.61h0M358.31 847.07h0M358.32 847.4h0M359.66 847.17h0M359.41 847.58h0M359.33 847.06h0M358 847.31h0M358.04 847.71h0M358.67 847.41h0M360.08 847.26h0M359.55 848.78h0M358.48 847.7h0M359.33 848.1h0M359.51 848.67h0M360.7 847.48h0M358.8 848.92h0M358.99 847.44h0M358.71 848.22h0M357.64 848.26h0M359.88 847.37h0M359.12 848.38h0M359.2 848.51h0M359.4 847.21h0M358.1 847.8h0M358.81 847.27h0M360.25 848.96h0M360.57 848.68h0M359.49 848.91h0M358.73 850.08h0M359.25 849.68h0M358.31 847.41h0M360.07 849.25h0M360.19 847.22h0M361.47 848.8h0M359.13 848.94h0M360.84 847.46h0M360.43 848.84h0M360.32 848.2h0M359.53 849.04h0M358.82 850.11h0M359.18 848.07h0M358.1 849.26h0M359.64 849.55h0M358.69 848.36h0M357.96 846.76h0M359.13 848.16h0M358.92 848.32h0M358.68 847.87h0M358.91 849.88h0M359.74 848.46h0M358.96 848.11h0M360.58 847.37h0M359.22 849.3h0M359.1 846.78h0M358.83 847.01h0M359.47 848.56h0M359.45 847.68h0M359.19 850.16h0M359.03 848.06h0M358.25 849.13h0M358.38 848.6h0M357.59 848.33h0M357.41 849.38h0M359.65 847.45h0M359.24 847.04h0M360.35 847.85h0M359.27 847.96h0M359.26 848.84h0M359.31 848.3h0M360.07 848.15h0M360.23 851.79h0M359.84 849.16h0M357.52 850.7h0M359.99 847.34h0M358.74 848.32h0M359.93 851.6h0M359.78 848.32h0M358.13 846.8h0M360.42 847.64h0M359.74 847.09h0M358.05 848.99h0M359.43 847.34h0M359.59 848.12h0M359.35 848.69h0M360 847.01h0M360.24 847.95h0M359.46 848.8h0M358.53 850.77h0M359.39 848.24h0M358.64 851.77h0M359.69 848.71h0M359.75 847.89h0M358.01 849.05h0M359.32 847.06h0M358.51 851.75h0M359.1 851.54h0M358.79 847.61h0M358.72 849.14h0M359.28 849.1h0M360.39 847.94h0M358.94 846.79h0M359.19 847.58h0M357.06 848.05h0M358.22 848.8h0M359.28 850.77h0M359.45 847.83h0M359.76 848.69h0M358.47 848.55h0M360.05 849.45h0M359.53 846.4h0M358.37 847.93h0M359.13 849.31h0M358.52 847.08h0M358.78 851.5h0M358.68 849.39h0M358.39 848.95h0M359.31 847.77h0M359.84 847.8h0M358.66 851.56h0M357.71 847.02h0M359.89 847.24h0M360.97 847.88h0M359.83 847.48h0M360.59 851.96h0M359.96 848.52h0M359.3 847.64h0" stroke="#1fb81f" stroke-width="1.5" stroke-linecap="round" fill="none"/>
<rect x="353.7" y="847" width="11" height="2.4" fill="none" stroke="#1fb01f" stroke-width="1" />
<line x1="352" y1="848.2" x2="366.4" y2="848.2" stroke="#111" stroke-width="1.3" />
<path d="M379.94 853.62h0M380.64 854.13h0M380.17 854.74h0M379.6 854.53h0M379.37 854.95h0M381.19 855h0M382.69 854.55h0M380.68 855.23h0M381.08 856.15h0M380.3 853.58h0M381.11 854.43h0M381.98 855.21h0M380.85 853.9h0M381.2 854.69h0M381.86 855.4h0M379.72 854.53h0M380.13 854.44h0M380.89 852.99h0M380.97 856.15h0M378.76 854.56h0M381.58 854.83h0M381.2 854.93h0M380.91 854.49h0M381.61 855.72h0M379.44 853.8h0M379.98 855.22h0M382.28 853.09h0M380.08 854.67h0M380.36 855.38h0M380.41 856.76h0M382.28 853.79h0M382.05 853.92h0M379.56 856.98h0M381.09 854.08h0M382.82 854.73h0M381.74 854.4h0M379.57 852.74h0M381.34 854.57h0M380.34 855.28h0M379.94 853.28h0M381.7 854.99h0M379.78 855.02h0M381.29 853.75h0M379.8 854.62h0M380.56 854.94h0M381.52 854.88h0M381.46 855.69h0M379.41 854.78h0M381.58 854.48h0M381.18 853.63h0M381.04 853.51h0M380.58 853.16h0M380.33 853.31h0M380 854.73h0M380.62 856.32h0M381.22 852.44h0M380.54 854.44h0M380.63 857.01h0M381.88 852.56h0M380.39 854.43h0M380.2 854.88h0M381.35 856.83h0M379.61 853.61h0M380.33 853.55h0M379.79 852.93h0M381.23 853.75h0M380.98 856.01h0M380.56 853.79h0M380.16 854.85h0M379.8 855.22h0M380.46 854.69h0M379.97 855.18h0M380.77 853.54h0M380.75 853.09h0M381.45 855.09h0M380.14 853.42h0M381.88 855.48h0M380.43 852.75h0M379.56 854.86h0M380.25 856.71h0M381.58 855.55h0M381.51 852.3h0M381.12 854.66h0M381.68 856.95h0M382.46 854.94h0M380.45 854.01h0M380.91 855.02h0M380.21 855.38h0M380.92 853.5h0M380.06 856.3h0M381 856.46h0M380.94 855.31h0M381.01 854.25h0M380.37 857.15h0M378.95 855.14h0M379.55 856.88h0M379.26 852.22h0M382.23 854.77h0M379.65 853.56h0M379.97 853.71h0M381.05 853.8h0M380.74 854.87h0M381.86 852.83h0M380.54 854.17h0M378.79 855.13h0M379.11 856.96h0M382.03 854.71h0M380.89 856.7h0M381.94 852.22h0M381.21 852.92h0M380.8 856.82h0M378.93 853.55h0M381.35 854.13h0M380.95 855.48h0M381.07 853.55h0M380.47 854.64h0M381.34 854.7h0M381.95 855.18h0M381.47 855.24h0M380.18 853.92h0M381.43 854.34h0M382.24 855.35h0M381.1 852.46h0M381.41 854.73h0M380.62 854.79h0M380.84 855.26h0M380.78 854.8h0M381.85 855.29h0M380.3 853.61h0M380.49 854.26h0M380.92 854.16h0M380.56 856.55h0M380.3 856.91h0M380.82 853.8h0M380.06 855.02h0M381.87 854.91h0M381.85 854.05h0M379.59 854.03h0M380.13 853.76h0M381.86 853.77h0M381.32 853.82h0M379.77 854.41h0M380.57 853.95h0M379.55 854.91h0M381.32 853.59h0M379.89 856.01h0M381.36 852.75h0M379.79 856.71h0M380.34 854.56h0M379.7 853.38h0M381.87 855.88h0M380.73 854.25h0M380.51 853.91h0M380.13 854.31h0M379.51 856.77h0M380.51 856.46h0M381.34 853.68h0M381.06 853.47h0M380.79 857.13h0M380.95 853.99h0" stroke="#22d422" stroke-width="1.5" stroke-linecap="round" fill="none"/>
<rect x="375.3" y="853.5" width="11" height="2" fill="none" stroke="#22cc22" stroke-width="1" />
<line x1="373.6" y1="854.5" x2="388" y2="854.5" stroke="#111" stroke-width="1.3" />
<path d="M401.52 858.96h0M402.23 858.32h0M402.64 859.67h0M402.55 858.42h0M402.98 858.12h0M403.37 860.08h0M401.61 860.32h0M402.25 860.26h0M402.63 860.89h0M403.26 860.34h0M401.63 859.43h0M402.85 859.56h0M400.88 858.23h0M402.05 859.67h0M402.42 859.51h0M402.51 859.96h0M402.22 860.31h0M402.8 857.2h0M403.19 859.36h0M401.51 859.18h0M403.11 857.16h0M403.52 857.35h0M402.62 859.14h0M402.93 859.56h0M402.46 858.5h0M404.07 858.17h0M402.34 859.12h0M402.23 858.2h0M402.67 858.85h0M402.45 858.68h0M401.96 861.01h0M401.88 860.96h0M403.78 858.61h0M401.6 858.42h0M401.54 858.73h0M402.45 859.09h0M401.13 861.19h0M402.3 857.09h0M402 858.13h0M403.28 858.72h0M402.87 858.74h0M402.25 858.57h0M401.41 859.95h0M402.07 860.57h0M401.25 858.65h0M403.66 858.57h0M403.08 858.42h0M401.86 860.13h0M400.74 859.18h0M401.45 858.78h0M402.64 858.94h0M402.46 859.04h0M402.13 860.15h0M404.07 859.02h0M403.19 859.19h0M403.17 858.24h0M401.79 858.35h0M401.65 859.08h0M400.95 859.18h0M401.63 859.55h0M402.18 859.57h0M402.23 859.44h0M402.84 858.24h0M403.94 858.86h0M401.65 857.77h0M402.6 859.62h0M401.88 858.17h0M402.66 858.24h0M402.89 859.46h0M400.54 858.13h0M402.08 858.25h0M401.79 859.47h0M402.15 859.87h0M401.35 860.44h0M402.49 858.88h0M401.21 859.62h0M403.67 858.95h0M403.68 859.04h0M402.6 858.36h0M403.32 858.21h0M403.14 858.66h0M402.95 858.48h0M403.36 859.56h0M402.18 860.81h0M401.98 858.79h0M403.77 859.67h0M403.17 857.73h0M401.94 859.31h0M403.25 859.51h0M402.59 858.7h0M401.65 858.37h0M403.51 858.57h0M402.94 858.15h0M403.58 859.05h0M401.73 859.54h0M402.64 858.2h0M402.91 858.72h0M403.22 859.24h0M402.55 860.02h0M403.31 859.65h0M402.35 859.29h0M403.01 857.18h0M402.36 860.49h0M403.25 858.99h0M401.88 858.41h0M403.43 859.41h0M402.61 858.5h0M403.02 858.46h0M402.62 858.79h0M403.06 860.71h0M403.21 858.4h0M403.12 857.48h0M402.94 858.96h0M402.38 858.8h0M401.95 858.45h0M402.39 858.06h0M402.68 859.28h0M403.05 860.08h0M403.26 859.03h0M404.19 858.16h0M402.05 859.25h0M402.59 859.52h0M402.61 858.29h0M402.09 858.01h0M401.56 857.81h0M402.42 857.08h0M402.46 859.46h0M402.53 858.53h0M402.46 858.4h0M401.62 859.37h0M402.32 858.78h0M402.24 860.07h0M400.87 858.84h0M401.95 857.85h0M401.81 858.36h0M402.4 859.58h0M401.74 859.33h0M403.84 859.84h0M402.28 858.92h0M403.72 859.35h0M402.79 859.43h0M401.67 859.22h0M403.84 859.33h0M402.86 858.33h0M401.96 858.71h0M403.5 860.77h0M402.75 858.56h0M401.75 858.48h0M402.66 858.43h0M401.92 860.12h0M401.68 860.11h0M401.08 861.1h0M401.57 858.36h0M400.98 857.57h0M402.99 857.54h0M401.14 858.15h0M402.83 858.21h0M401.9 859.23h0M403.89 859.69h0M402.24 860.19h0" stroke="#2eea2e" stroke-width="1.5" stroke-linecap="round" fill="none"/>
<rect x="396.9" y="858.1" width="11" height="1.6" fill="none" stroke="#2ee42e" stroke-width="1" />
<line x1="395.2" y1="858.9" x2="409.6" y2="858.9" stroke="#111" stroke-width="1.3" />
<polyline points="272.8,852.9 294.4,829.7 316,827.7 337.6,840.4 359.2,848.2 380.8,854.5 402.4,858.9" fill="none" stroke="#ee1c24" stroke-width="1.3" stroke-dasharray="4.4 1.6 1.4 1.6"/>
</g>
<g id="panel_j">
<text x="438.9" y="800" font-size="9.5">j</text>
<line x1="495.4" y1="798.1" x2="495.4" y2="889.6" stroke="#111" stroke-width="1.1" />
<line x1="494.9" y1="889.1" x2="616.5" y2="889.1" stroke="#111" stroke-width="1.1" />
<line x1="492.6" y1="889.1" x2="495.4" y2="889.1" stroke="#111" stroke-width="0.9" />
<text x="487" y="892.4" font-size="6.8" text-anchor="end" fill="#111">0</text>
<line x1="492.6" y1="858.93" x2="495.4" y2="858.93" stroke="#111" stroke-width="0.9" />
<text x="487" y="862.23" font-size="6.8" text-anchor="end" fill="#111">400</text>
<line x1="492.6" y1="828.76" x2="495.4" y2="828.76" stroke="#111" stroke-width="0.9" />
<text x="487" y="832.06" font-size="6.8" text-anchor="end" fill="#111">800</text>
<line x1="492.6" y1="798.59" x2="495.4" y2="798.59" stroke="#111" stroke-width="0.9" />
<text x="487" y="801.89" font-size="6.8" text-anchor="end" fill="#111">1200</text>
<line x1="495.4" y1="889.1" x2="495.4" y2="892" stroke="#111" stroke-width="0.9" />
<text x="495.4" y="902.3" font-size="6.8" text-anchor="middle" fill="#111">0</text>
<line x1="519.52" y1="889.1" x2="519.52" y2="892" stroke="#111" stroke-width="0.9" />
<text x="519.52" y="902.3" font-size="6.8" text-anchor="middle" fill="#111">2</text>
<line x1="543.64" y1="889.1" x2="543.64" y2="892" stroke="#111" stroke-width="0.9" />
<text x="543.64" y="902.3" font-size="6.8" text-anchor="middle" fill="#111">4</text>
<line x1="567.76" y1="889.1" x2="567.76" y2="892" stroke="#111" stroke-width="0.9" />
<text x="567.76" y="902.3" font-size="6.8" text-anchor="middle" fill="#111">6</text>
<line x1="591.88" y1="889.1" x2="591.88" y2="892" stroke="#111" stroke-width="0.9" />
<text x="591.88" y="902.3" font-size="6.8" text-anchor="middle" fill="#111">8</text>
<line x1="616" y1="889.1" x2="616" y2="892" stroke="#111" stroke-width="0.9" />
<text x="616" y="902.3" font-size="6.8" text-anchor="middle" fill="#111">10</text>
<text x="555.5" y="914" font-size="8.05" text-anchor="middle" fill="#111">Stoichiometry ratio of RIP3 to RIP1</text>
<text x="466.2" y="840.8" font-size="9.4" text-anchor="middle" fill="#111" transform="rotate(-90 466.2 840.8)">p-MLKL (localizations)</text>
<circle cx="517.11" cy="824.23" r="1.15" fill="#111" />
<circle cx="507.46" cy="835.93" r="1.15" fill="#111" />
<circle cx="525.55" cy="835.93" r="1.15" fill="#111" />
<circle cx="523.14" cy="841.58" r="1.15" fill="#111" />
<circle cx="531.58" cy="845.73" r="1.15" fill="#111" />
<circle cx="531.58" cy="849.12" r="1.15" fill="#111" />
<circle cx="542.43" cy="844.22" r="1.15" fill="#111" />
<circle cx="544.85" cy="845.73" r="1.15" fill="#111" />
<circle cx="515.9" cy="848.75" r="1.15" fill="#111" />
<circle cx="518.31" cy="849.12" r="1.15" fill="#111" />
<circle cx="552.08" cy="851.76" r="1.15" fill="#111" />
<circle cx="511.08" cy="857.42" r="1.15" fill="#111" />
<circle cx="518.31" cy="856.67" r="1.15" fill="#111" />
<circle cx="518.31" cy="858.93" r="1.15" fill="#111" />
<circle cx="517.71" cy="863.83" r="1.15" fill="#111" />
<circle cx="526.76" cy="863.46" r="1.15" fill="#111" />
<circle cx="531.58" cy="863.46" r="1.15" fill="#111" />
<circle cx="540.02" cy="862.32" r="1.15" fill="#111" />
<circle cx="540.02" cy="863.08" r="1.15" fill="#111" />
<circle cx="507.46" cy="870.24" r="1.15" fill="#111" />
<circle cx="508.67" cy="871.75" r="1.15" fill="#111" />
<circle cx="570.17" cy="866.85" r="1.15" fill="#111" />
<circle cx="603.94" cy="871" r="1.15" fill="#111" />
<circle cx="550.88" cy="870.24" r="1.15" fill="#111" />
<circle cx="550.88" cy="873.26" r="1.15" fill="#111" />
<circle cx="577.41" cy="872.88" r="1.15" fill="#111" />
<circle cx="558.11" cy="875.15" r="1.15" fill="#111" />
<circle cx="584.64" cy="878.54" r="1.15" fill="#111" />
<circle cx="584.64" cy="881.56" r="1.15" fill="#111" />
<circle cx="583.44" cy="883.82" r="1.15" fill="#111" />
<circle cx="591.88" cy="885.33" r="1.15" fill="#111" />
<circle cx="567.76" cy="878.54" r="1.15" fill="#111" />
<circle cx="567.76" cy="887.97" r="1.15" fill="#111" />
<circle cx="575" cy="887.97" r="1.15" fill="#111" />
<circle cx="579.82" cy="887.21" r="1.15" fill="#111" />
<circle cx="578.61" cy="888.35" r="1.15" fill="#111" />
<circle cx="516.74" cy="879.98" r="1.15" fill="#111" />
<circle cx="531.84" cy="874.86" r="1.15" fill="#111" />
<circle cx="533.32" cy="889.07" r="1.15" fill="#111" />
<circle cx="526.26" cy="888.45" r="1.15" fill="#111" />
<circle cx="552.7" cy="880.44" r="1.15" fill="#111" />
<circle cx="509.06" cy="882.87" r="1.15" fill="#111" />
<circle cx="514.29" cy="884.94" r="1.15" fill="#111" />
<circle cx="516.25" cy="887.89" r="1.15" fill="#111" />
<circle cx="536.22" cy="883.1" r="1.15" fill="#111" />
<circle cx="517.78" cy="870.92" r="1.15" fill="#111" />
<circle cx="519.98" cy="886.98" r="1.15" fill="#111" />
<circle cx="554.8" cy="881.23" r="1.15" fill="#111" />
<circle cx="551.61" cy="883.25" r="1.15" fill="#111" />
<circle cx="528.16" cy="883.67" r="1.15" fill="#111" />
<circle cx="526.98" cy="884.68" r="1.15" fill="#111" />
<circle cx="550.25" cy="882.9" r="1.15" fill="#111" />
<circle cx="532.54" cy="876.62" r="1.15" fill="#111" />
<circle cx="519.4" cy="881.74" r="1.15" fill="#111" />
<circle cx="541.27" cy="887.41" r="1.15" fill="#111" />
<circle cx="525.18" cy="885.25" r="1.15" fill="#111" />
<circle cx="539.34" cy="888.11" r="1.15" fill="#111" />
<circle cx="511.39" cy="875.52" r="1.15" fill="#111" />
<circle cx="526.45" cy="878.9" r="1.15" fill="#111" />
<circle cx="538.85" cy="882.99" r="1.15" fill="#111" />
<circle cx="526.48" cy="870.2" r="1.15" fill="#111" />
<circle cx="516.61" cy="874.29" r="1.15" fill="#111" />
<circle cx="557.54" cy="872.68" r="1.15" fill="#111" />
<circle cx="510.48" cy="886" r="1.15" fill="#111" />
<circle cx="528.66" cy="888.45" r="1.15" fill="#111" />
<circle cx="553.61" cy="886.47" r="1.15" fill="#111" />
<circle cx="518.94" cy="874.75" r="1.15" fill="#111" />
<circle cx="529" cy="871.97" r="1.15" fill="#111" />
<circle cx="523.31" cy="886.18" r="1.15" fill="#111" />
<circle cx="546.79" cy="888.88" r="1.15" fill="#111" />
<circle cx="539.08" cy="871.83" r="1.15" fill="#111" />
<circle cx="538.41" cy="884.39" r="1.15" fill="#111" />
<circle cx="515.2" cy="888.21" r="1.15" fill="#111" />
<circle cx="508.26" cy="887.73" r="1.15" fill="#111" />
<circle cx="514.84" cy="885.55" r="1.15" fill="#111" />
<circle cx="532.67" cy="887.46" r="1.15" fill="#111" />
<circle cx="517.64" cy="877.9" r="1.15" fill="#111" />
<circle cx="536.09" cy="877.87" r="1.15" fill="#111" />
<circle cx="531" cy="876.03" r="1.15" fill="#111" />
<circle cx="517.23" cy="886.46" r="1.15" fill="#111" />
<circle cx="547.94" cy="888.71" r="1.15" fill="#111" />
<circle cx="527.13" cy="868.19" r="1.15" fill="#111" />
<circle cx="522.71" cy="881.89" r="1.15" fill="#111" />
<circle cx="539.63" cy="877.09" r="1.15" fill="#111" />
<circle cx="548.22" cy="881.66" r="1.15" fill="#111" />
<circle cx="513.85" cy="888.41" r="1.15" fill="#111" />
<circle cx="530.15" cy="888.92" r="1.15" fill="#111" />
<circle cx="543.07" cy="882.51" r="1.15" fill="#111" />
<circle cx="527.16" cy="886.79" r="1.15" fill="#111" />
<circle cx="510.23" cy="886.53" r="1.15" fill="#111" />
<circle cx="548.72" cy="877.46" r="1.15" fill="#111" />
<circle cx="530.57" cy="884.69" r="1.15" fill="#111" />
<circle cx="512.61" cy="882.97" r="1.15" fill="#111" />
<circle cx="550.14" cy="875.42" r="1.15" fill="#111" />
<circle cx="541.6" cy="879.12" r="1.15" fill="#111" />
<circle cx="546.56" cy="866.61" r="1.15" fill="#111" />
<circle cx="526.99" cy="873.33" r="1.15" fill="#111" />
<circle cx="505.78" cy="885.72" r="1.15" fill="#111" />
<circle cx="527.25" cy="881.81" r="1.15" fill="#111" />
<circle cx="553.16" cy="888.06" r="1.15" fill="#111" />
<circle cx="518.65" cy="879.81" r="1.15" fill="#111" />
<circle cx="523.96" cy="872.2" r="1.15" fill="#111" />
<circle cx="516.18" cy="887.08" r="1.15" fill="#111" />
<circle cx="539.39" cy="884.79" r="1.15" fill="#111" />
<circle cx="529.56" cy="886.12" r="1.15" fill="#111" />
<circle cx="517.19" cy="886.22" r="1.15" fill="#111" />
<circle cx="517.85" cy="888.78" r="1.15" fill="#111" />
<circle cx="533.1" cy="880.63" r="1.15" fill="#111" />
<circle cx="548.32" cy="889.03" r="1.15" fill="#111" />
<circle cx="535.73" cy="885.76" r="1.15" fill="#111" />
<circle cx="530.47" cy="884.92" r="1.15" fill="#111" />
<circle cx="515.27" cy="873.46" r="1.15" fill="#111" />
<circle cx="534.79" cy="887.22" r="1.15" fill="#111" />
<circle cx="527.83" cy="886.79" r="1.15" fill="#111" />
<circle cx="562.26" cy="865.64" r="1.15" fill="#111" />
<circle cx="538.25" cy="868.29" r="1.15" fill="#111" />
<circle cx="553.75" cy="887.21" r="1.15" fill="#111" />
<circle cx="510.99" cy="880.66" r="1.15" fill="#111" />
<circle cx="541.09" cy="874.53" r="1.15" fill="#111" />
<circle cx="524.7" cy="885.16" r="1.15" fill="#111" />
<circle cx="522.85" cy="869.11" r="1.15" fill="#111" />
<circle cx="533.72" cy="887.2" r="1.15" fill="#111" />
<circle cx="521.57" cy="888.76" r="1.15" fill="#111" />
<circle cx="532.74" cy="879.52" r="1.15" fill="#111" />
<circle cx="516.41" cy="864.92" r="1.15" fill="#111" />
<circle cx="535.36" cy="878.47" r="1.15" fill="#111" />
<circle cx="551.38" cy="888.36" r="1.15" fill="#111" />
<circle cx="509.6" cy="882.22" r="1.15" fill="#111" />
<circle cx="541.72" cy="877.91" r="1.15" fill="#111" />
<circle cx="532.67" cy="871.87" r="1.15" fill="#111" />
<circle cx="546.22" cy="875.49" r="1.15" fill="#111" />
<circle cx="525.35" cy="880.64" r="1.15" fill="#111" />
<circle cx="554.92" cy="887.51" r="1.15" fill="#111" />
<circle cx="557.79" cy="869.7" r="1.15" fill="#111" />
<circle cx="525.85" cy="884.39" r="1.15" fill="#111" />
<circle cx="517.37" cy="873.83" r="1.15" fill="#111" />
<circle cx="525.84" cy="888.85" r="1.15" fill="#111" />
<circle cx="528.84" cy="888.86" r="1.15" fill="#111" />
<circle cx="544.9" cy="888.08" r="1.15" fill="#111" />
<circle cx="514.65" cy="884.1" r="1.15" fill="#111" />
<circle cx="542.75" cy="876.5" r="1.15" fill="#111" />
<path d="M503.84 881.18C504.44 880.46 506.05 878.05 507.46 876.88C508.87 875.71 510.48 874.83 512.28 874.17C514.09 873.5 516.3 873.1 518.31 872.88C520.32 872.67 522.13 872.76 524.34 872.88C526.55 873.01 528.36 873.14 531.58 873.64C534.8 874.14 539.62 875.15 543.64 875.9C547.66 876.65 551.68 877.45 555.7 878.16C559.72 878.88 563.74 879.55 567.76 880.2C571.78 880.85 575.8 881.51 579.82 882.09C583.84 882.66 587.86 883.19 591.88 883.67C595.9 884.15 601.93 884.74 603.94 884.95" fill="none" stroke="#ee1c24" stroke-width="1.2" />
</g>
</svg>
</body></html>
